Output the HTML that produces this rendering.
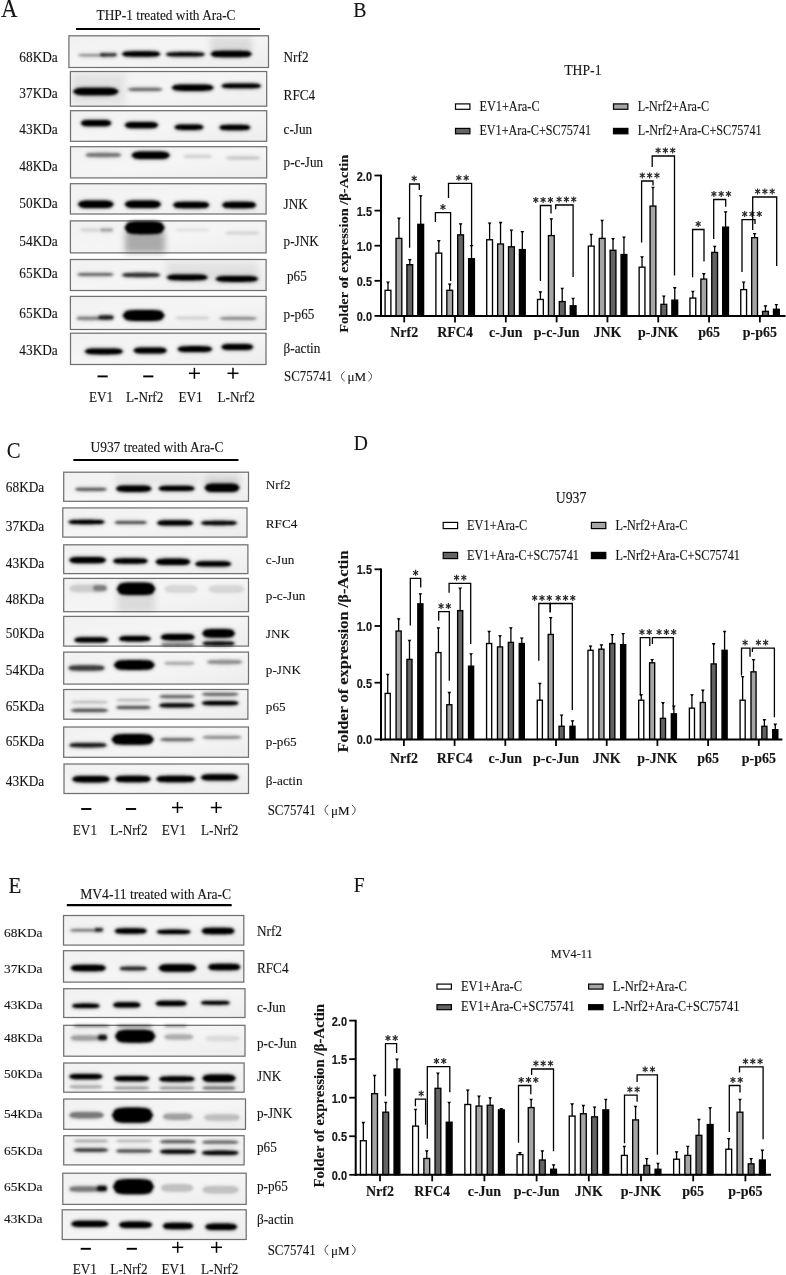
<!DOCTYPE html>
<html><head><meta charset="utf-8"><title>Figure</title>
<style>html,body{margin:0;padding:0;background:#fff;} svg{display:block;filter:grayscale(100%) blur(0.3px);} text{fill:#151515;stroke:#151515;stroke-width:0.12px;}</style>
</head><body>
<svg width="786" height="1275" viewBox="0 0 786 1275">
<defs>
<filter id="b1" x="-20%" y="-100%" width="140%" height="300%"><feGaussianBlur stdDeviation="0.9"/></filter>
<filter id="b2" x="-20%" y="-100%" width="140%" height="300%"><feGaussianBlur stdDeviation="1.5"/></filter>
<filter id="b3" x="-30%" y="-50%" width="160%" height="200%"><feGaussianBlur stdDeviation="3"/></filter>
<linearGradient id="bg" x1="0" y1="0" x2="1" y2="1"><stop offset="0" stop-color="#f1f1f1"/><stop offset="0.5" stop-color="#f5f5f5"/><stop offset="1" stop-color="#ededed"/></linearGradient>
</defs>
<rect width="786" height="1275" fill="#fff"/>
<text transform="translate(1,16.9) scale(1,1.1)" font-size="22.9" font-family="'Liberation Serif', serif" font-weight="normal" text-anchor="start" >A</text>
<text transform="translate(96.5,19.8) scale(1,1.0)" font-size="14" font-family="'Liberation Serif', serif" font-weight="normal" text-anchor="start" textLength="139" lengthAdjust="spacingAndGlyphs" >THP-1 treated with Ara-C</text>
<line x1="76" y1="29" x2="260" y2="29" stroke="#000" stroke-width="2.2"/>
<rect x="68.9" y="35.8" width="199.6" height="31.7" fill="url(#bg)" stroke="#707070" stroke-width="1.25"/>
<g clip-path="none">
<rect x="210" y="37" width="42" height="15" fill="#000" fill-opacity="0.1" filter="url(#b3)"/>
<path d="M76.5 55.2 L78.6 52.8 L80.8 52.2 L82.9 52.0 L85.1 51.9 L87.2 51.9 L89.4 51.9 L91.5 51.9 L93.6 51.9 L95.8 51.9 L97.9 51.9 L100.1 52.0 L102.2 52.2 L104.4 52.8 L106.5 55.2 L106.5 55.2 L104.4 57.6 L102.2 58.2 L100.1 58.4 L97.9 58.5 L95.8 58.5 L93.6 58.5 L91.5 58.5 L89.4 58.5 L87.2 58.5 L85.1 58.5 L82.9 58.4 L80.8 58.2 L78.6 57.6 L76.5 55.2 Z" fill="#000" fill-opacity="0.070" filter="url(#b2)"/>
<path d="M78.0 55.2 L79.9 54.3 L81.9 54.1 L83.8 54.0 L85.7 54.0 L87.6 54.0 L89.6 54.0 L91.5 54.0 L93.4 54.0 L95.4 54.0 L97.3 54.0 L99.2 54.0 L101.1 54.1 L103.1 54.3 L105.0 55.2 L105.0 55.2 L103.1 56.1 L101.1 56.3 L99.2 56.4 L97.3 56.4 L95.4 56.4 L93.4 56.4 L91.5 56.4 L89.6 56.4 L87.6 56.4 L85.7 56.4 L83.8 56.4 L81.9 56.3 L79.9 56.1 L78.0 55.2 Z" fill="#000" fill-opacity="0.35" filter="url(#b1)"/>
<path d="M98.5 54.8 L99.9 52.1 L101.4 51.5 L102.8 51.2 L104.2 51.1 L105.6 51.1 L107.1 51.1 L108.5 51.1 L109.9 51.1 L111.4 51.1 L112.8 51.1 L114.2 51.2 L115.6 51.5 L117.1 52.1 L118.5 54.8 L118.5 54.8 L117.1 57.5 L115.6 58.1 L114.2 58.4 L112.8 58.5 L111.4 58.5 L109.9 58.5 L108.5 58.5 L107.1 58.5 L105.6 58.5 L104.2 58.5 L102.8 58.4 L101.4 58.1 L99.9 57.5 L98.5 54.8 Z" fill="#000" fill-opacity="0.150" filter="url(#b2)"/>
<path d="M100.0 54.8 L101.2 53.6 L102.4 53.3 L103.6 53.2 L104.9 53.2 L106.1 53.2 L107.3 53.2 L108.5 53.2 L109.7 53.2 L110.9 53.2 L112.1 53.2 L113.4 53.2 L114.6 53.3 L115.8 53.6 L117.0 54.8 L117.0 54.8 L115.8 56.0 L114.6 56.3 L113.4 56.4 L112.1 56.4 L110.9 56.4 L109.7 56.4 L108.5 56.4 L107.3 56.4 L106.1 56.4 L104.9 56.4 L103.6 56.4 L102.4 56.3 L101.2 56.0 L100.0 54.8 Z" fill="#000" fill-opacity="0.75" filter="url(#b1)"/>
<path d="M120.2 54.0 L123.2 50.6 L126.2 49.8 L129.2 49.4 L132.2 49.3 L135.2 49.3 L138.2 49.3 L141.2 49.3 L144.1 49.3 L147.1 49.3 L150.1 49.3 L153.1 49.4 L156.1 49.8 L159.1 50.6 L162.1 54.0 L162.1 54.0 L159.1 57.4 L156.1 58.2 L153.1 58.6 L150.1 58.7 L147.1 58.7 L144.1 58.7 L141.2 58.7 L138.2 58.7 L135.2 58.7 L132.2 58.7 L129.2 58.6 L126.2 58.2 L123.2 57.4 L120.2 54.0 Z" fill="#000" fill-opacity="0.200" filter="url(#b2)"/>
<path d="M121.7 54.0 L124.5 52.0 L127.3 51.6 L130.0 51.4 L132.8 51.3 L135.6 51.3 L138.4 51.3 L141.2 51.3 L143.9 51.3 L146.7 51.3 L149.5 51.3 L152.3 51.4 L155.0 51.6 L157.8 52.0 L160.6 54.0 L160.6 54.0 L157.8 56.0 L155.0 56.4 L152.3 56.6 L149.5 56.7 L146.7 56.7 L143.9 56.7 L141.2 56.7 L138.4 56.7 L135.6 56.7 L132.8 56.7 L130.0 56.6 L127.3 56.4 L124.5 56.0 L121.7 54.0 Z" fill="#000" fill-opacity="1" filter="url(#b1)"/>
<path d="M164.1 54.3 L167.1 51.2 L170.2 50.5 L173.2 50.2 L176.2 50.1 L179.3 50.1 L182.3 50.1 L185.3 50.1 L188.4 50.1 L191.4 50.1 L194.5 50.1 L197.5 50.2 L200.5 50.5 L203.6 51.2 L206.6 54.3 L206.6 54.3 L203.6 57.4 L200.5 58.1 L197.5 58.4 L194.5 58.5 L191.4 58.5 L188.4 58.5 L185.3 58.5 L182.3 58.5 L179.3 58.5 L176.2 58.5 L173.2 58.4 L170.2 58.1 L167.1 57.4 L164.1 54.3 Z" fill="#000" fill-opacity="0.190" filter="url(#b2)"/>
<path d="M165.6 54.3 L168.4 52.7 L171.2 52.4 L174.1 52.2 L176.9 52.2 L179.7 52.1 L182.5 52.1 L185.3 52.1 L188.2 52.1 L191.0 52.1 L193.8 52.2 L196.6 52.2 L199.5 52.4 L202.3 52.7 L205.1 54.3 L205.1 54.3 L202.3 55.9 L199.5 56.2 L196.6 56.4 L193.8 56.4 L191.0 56.5 L188.2 56.5 L185.3 56.5 L182.5 56.5 L179.7 56.5 L176.9 56.4 L174.1 56.4 L171.2 56.2 L168.4 55.9 L165.6 54.3 Z" fill="#000" fill-opacity="0.95" filter="url(#b1)"/>
<path d="M208.9 54.0 L212.1 50.2 L215.3 49.3 L218.5 49.0 L221.6 48.8 L224.8 48.8 L228.0 48.8 L231.2 48.8 L234.4 48.8 L237.6 48.8 L240.8 48.8 L243.9 49.0 L247.1 49.3 L250.3 50.2 L253.5 54.0 L253.5 54.0 L250.3 57.8 L247.1 58.7 L243.9 59.0 L240.8 59.2 L237.6 59.2 L234.4 59.2 L231.2 59.2 L228.0 59.2 L224.8 59.2 L221.6 59.2 L218.5 59.0 L215.3 58.7 L212.1 57.8 L208.9 54.0 Z" fill="#000" fill-opacity="0.200" filter="url(#b2)"/>
<path d="M210.4 54.0 L213.4 51.6 L216.3 51.1 L219.3 50.9 L222.3 50.8 L225.3 50.8 L228.2 50.8 L231.2 50.8 L234.2 50.8 L237.1 50.8 L240.1 50.8 L243.1 50.9 L246.1 51.1 L249.0 51.6 L252.0 54.0 L252.0 54.0 L249.0 56.4 L246.1 56.9 L243.1 57.1 L240.1 57.2 L237.1 57.2 L234.2 57.2 L231.2 57.2 L228.2 57.2 L225.3 57.2 L222.3 57.2 L219.3 57.1 L216.3 56.9 L213.4 56.4 L210.4 54.0 Z" fill="#000" fill-opacity="1" filter="url(#b1)"/>
</g>
<rect x="70.4" y="71.5" width="196.3" height="34.7" fill="url(#bg)" stroke="#707070" stroke-width="1.25"/>
<g clip-path="none">
<rect x="72" y="74" width="53" height="31" fill="#000" fill-opacity="0.07" filter="url(#b3)"/>
<path d="M71.3 91.5 L74.8 87.3 L78.3 86.4 L81.8 86.0 L85.3 85.8 L88.8 85.8 L92.3 85.8 L95.8 85.8 L99.3 85.8 L102.8 85.8 L106.3 85.8 L109.8 86.0 L113.3 86.4 L116.8 87.3 L120.3 91.5 L120.3 91.5 L116.8 95.7 L113.3 96.6 L109.8 97.0 L106.3 97.2 L102.8 97.2 L99.3 97.2 L95.8 97.2 L92.3 97.2 L88.8 97.2 L85.3 97.2 L81.8 97.0 L78.3 96.6 L74.8 95.7 L71.3 91.5 Z" fill="#000" fill-opacity="0.200" filter="url(#b2)"/>
<path d="M72.8 91.5 L76.1 88.7 L79.4 88.1 L82.7 87.8 L85.9 87.7 L89.2 87.7 L92.5 87.7 L95.8 87.7 L99.1 87.7 L102.4 87.7 L105.7 87.7 L108.9 87.8 L112.2 88.1 L115.5 88.7 L118.8 91.5 L118.8 91.5 L115.5 94.3 L112.2 94.9 L108.9 95.2 L105.7 95.3 L102.4 95.3 L99.1 95.3 L95.8 95.3 L92.5 95.3 L89.2 95.3 L85.9 95.3 L82.7 95.2 L79.4 94.9 L76.1 94.3 L72.8 91.5 Z" fill="#000" fill-opacity="1" filter="url(#b1)"/>
<path d="M126.1 89.4 L128.8 86.7 L131.5 86.1 L134.3 85.8 L137.0 85.7 L139.7 85.7 L142.4 85.7 L145.1 85.7 L147.9 85.7 L150.6 85.7 L153.3 85.7 L156.0 85.8 L158.8 86.1 L161.5 86.7 L164.2 89.4 L164.2 89.4 L161.5 92.1 L158.8 92.7 L156.0 93.0 L153.3 93.1 L150.6 93.1 L147.9 93.1 L145.1 93.1 L142.4 93.1 L139.7 93.1 L137.0 93.1 L134.3 93.0 L131.5 92.7 L128.8 92.1 L126.1 89.4 Z" fill="#000" fill-opacity="0.100" filter="url(#b2)"/>
<path d="M127.6 89.4 L130.1 88.2 L132.6 87.9 L135.1 87.8 L137.6 87.8 L140.1 87.8 L142.6 87.8 L145.1 87.8 L147.7 87.8 L150.2 87.8 L152.7 87.8 L155.2 87.8 L157.7 87.9 L160.2 88.2 L162.7 89.4 L162.7 89.4 L160.2 90.6 L157.7 90.9 L155.2 91.0 L152.7 91.0 L150.2 91.0 L147.7 91.0 L145.1 91.0 L142.6 91.0 L140.1 91.0 L137.6 91.0 L135.1 91.0 L132.6 90.9 L130.1 90.6 L127.6 89.4 Z" fill="#000" fill-opacity="0.5" filter="url(#b1)"/>
<path d="M170.0 87.7 L173.2 83.9 L176.5 83.0 L179.7 82.7 L183.0 82.5 L186.2 82.5 L189.5 82.5 L192.7 82.5 L195.9 82.5 L199.2 82.5 L202.4 82.5 L205.7 82.7 L208.9 83.0 L212.2 83.9 L215.4 87.7 L215.4 87.7 L212.2 91.5 L208.9 92.4 L205.7 92.7 L202.4 92.9 L199.2 92.9 L195.9 92.9 L192.7 92.9 L189.5 92.9 L186.2 92.9 L183.0 92.9 L179.7 92.7 L176.5 92.4 L173.2 91.5 L170.0 87.7 Z" fill="#000" fill-opacity="0.200" filter="url(#b2)"/>
<path d="M171.5 87.7 L174.5 85.3 L177.6 84.8 L180.6 84.6 L183.6 84.5 L186.6 84.5 L189.7 84.5 L192.7 84.5 L195.7 84.5 L198.8 84.5 L201.8 84.5 L204.8 84.6 L207.8 84.8 L210.9 85.3 L213.9 87.7 L213.9 87.7 L210.9 90.1 L207.8 90.6 L204.8 90.8 L201.8 90.9 L198.8 90.9 L195.7 90.9 L192.7 90.9 L189.7 90.9 L186.6 90.9 L183.6 90.9 L180.6 90.8 L177.6 90.6 L174.5 90.1 L171.5 87.7 Z" fill="#000" fill-opacity="1" filter="url(#b1)"/>
<path d="M219.7 85.9 L222.8 82.6 L225.9 81.9 L228.9 81.6 L232.0 81.5 L235.1 81.5 L238.2 81.5 L241.2 81.5 L244.3 81.5 L247.4 81.5 L250.5 81.5 L253.6 81.6 L256.6 81.9 L259.7 82.6 L262.8 85.9 L262.8 85.9 L259.7 89.2 L256.6 89.9 L253.6 90.2 L250.5 90.3 L247.4 90.3 L244.3 90.3 L241.2 90.4 L238.2 90.3 L235.1 90.3 L232.0 90.3 L228.9 90.2 L225.9 89.9 L222.8 89.2 L219.7 85.9 Z" fill="#000" fill-opacity="0.200" filter="url(#b2)"/>
<path d="M221.2 85.9 L224.1 84.1 L226.9 83.7 L229.8 83.5 L232.7 83.5 L235.5 83.5 L238.4 83.5 L241.2 83.5 L244.1 83.5 L247.0 83.5 L249.8 83.5 L252.7 83.5 L255.6 83.7 L258.4 84.1 L261.3 85.9 L261.3 85.9 L258.4 87.7 L255.6 88.1 L252.7 88.3 L249.8 88.3 L247.0 88.3 L244.1 88.3 L241.2 88.3 L238.4 88.3 L235.5 88.3 L232.7 88.3 L229.8 88.3 L226.9 88.1 L224.1 87.7 L221.2 85.9 Z" fill="#000" fill-opacity="1" filter="url(#b1)"/>
</g>
<rect x="70.5" y="110.7" width="196.2" height="30.6" fill="url(#bg)" stroke="#707070" stroke-width="1.25"/>
<g clip-path="none">
<path d="M79.2 123.1 L81.6 119.3 L84.0 118.4 L86.4 118.1 L88.9 117.9 L91.3 117.9 L93.7 117.9 L96.1 117.9 L98.5 117.9 L100.9 117.9 L103.3 117.9 L105.8 118.1 L108.2 118.4 L110.6 119.3 L113.0 123.1 L113.0 123.1 L110.6 126.9 L108.2 127.8 L105.8 128.1 L103.3 128.3 L100.9 128.3 L98.5 128.3 L96.1 128.3 L93.7 128.3 L91.3 128.3 L88.9 128.3 L86.4 128.1 L84.0 127.8 L81.6 126.9 L79.2 123.1 Z" fill="#000" fill-opacity="0.200" filter="url(#b2)"/>
<path d="M80.7 123.1 L82.9 120.7 L85.1 120.2 L87.3 120.0 L89.5 119.9 L91.7 119.9 L93.9 119.9 L96.1 119.9 L98.3 119.9 L100.5 119.9 L102.7 119.9 L104.9 120.0 L107.1 120.2 L109.3 120.7 L111.5 123.1 L111.5 123.1 L109.3 125.5 L107.1 126.0 L104.9 126.2 L102.7 126.3 L100.5 126.3 L98.3 126.3 L96.1 126.3 L93.9 126.3 L91.7 126.3 L89.5 126.3 L87.3 126.2 L85.1 126.0 L82.9 125.5 L80.7 123.1 Z" fill="#000" fill-opacity="1" filter="url(#b1)"/>
<path d="M123.1 125.1 L125.7 121.3 L128.3 120.4 L131.0 120.1 L133.6 119.9 L136.2 119.9 L138.8 119.9 L141.4 119.9 L144.1 119.9 L146.7 119.9 L149.3 119.9 L151.9 120.1 L154.6 120.4 L157.2 121.3 L159.8 125.1 L159.8 125.1 L157.2 128.9 L154.6 129.8 L151.9 130.1 L149.3 130.3 L146.7 130.3 L144.1 130.3 L141.4 130.3 L138.8 130.3 L136.2 130.3 L133.6 130.3 L131.0 130.1 L128.3 129.8 L125.7 128.9 L123.1 125.1 Z" fill="#000" fill-opacity="0.200" filter="url(#b2)"/>
<path d="M124.6 125.1 L127.0 122.7 L129.4 122.2 L131.8 122.0 L134.2 121.9 L136.6 121.9 L139.0 121.9 L141.4 121.9 L143.9 121.9 L146.3 121.9 L148.7 121.9 L151.1 122.0 L153.5 122.2 L155.9 122.7 L158.3 125.1 L158.3 125.1 L155.9 127.5 L153.5 128.0 L151.1 128.2 L148.7 128.3 L146.3 128.3 L143.9 128.3 L141.4 128.3 L139.0 128.3 L136.6 128.3 L134.2 128.3 L131.8 128.2 L129.4 128.0 L127.0 127.5 L124.6 125.1 Z" fill="#000" fill-opacity="1" filter="url(#b1)"/>
<path d="M172.9 127.2 L175.2 123.8 L177.5 123.0 L179.8 122.6 L182.1 122.5 L184.4 122.5 L186.7 122.5 L189.0 122.5 L191.3 122.5 L193.6 122.5 L195.9 122.5 L198.2 122.6 L200.5 123.0 L202.8 123.8 L205.1 127.2 L205.1 127.2 L202.8 130.6 L200.5 131.4 L198.2 131.8 L195.9 131.9 L193.6 131.9 L191.3 131.9 L189.0 131.9 L186.7 131.9 L184.4 131.9 L182.1 131.9 L179.8 131.8 L177.5 131.4 L175.2 130.6 L172.9 127.2 Z" fill="#000" fill-opacity="0.200" filter="url(#b2)"/>
<path d="M174.4 127.2 L176.5 125.2 L178.6 124.8 L180.7 124.6 L182.7 124.5 L184.8 124.5 L186.9 124.5 L189.0 124.5 L191.1 124.5 L193.2 124.5 L195.3 124.5 L197.3 124.6 L199.4 124.8 L201.5 125.2 L203.6 127.2 L203.6 127.2 L201.5 129.2 L199.4 129.6 L197.3 129.8 L195.3 129.9 L193.2 129.9 L191.1 129.9 L189.0 129.9 L186.9 129.9 L184.8 129.9 L182.7 129.9 L180.7 129.8 L178.6 129.6 L176.5 129.2 L174.4 127.2 Z" fill="#000" fill-opacity="1" filter="url(#b1)"/>
<path d="M217.7 127.5 L220.1 124.1 L222.6 123.3 L225.0 122.9 L227.5 122.8 L229.9 122.8 L232.4 122.8 L234.8 122.8 L237.3 122.8 L239.8 122.8 L242.2 122.8 L244.7 122.9 L247.1 123.3 L249.6 124.1 L252.0 127.5 L252.0 127.5 L249.6 130.9 L247.1 131.7 L244.7 132.1 L242.2 132.2 L239.8 132.2 L237.3 132.2 L234.8 132.2 L232.4 132.2 L229.9 132.2 L227.5 132.2 L225.0 132.1 L222.6 131.7 L220.1 130.9 L217.7 127.5 Z" fill="#000" fill-opacity="0.200" filter="url(#b2)"/>
<path d="M219.2 127.5 L221.4 125.5 L223.7 125.1 L225.9 124.9 L228.1 124.8 L230.4 124.8 L232.6 124.8 L234.8 124.8 L237.1 124.8 L239.3 124.8 L241.6 124.8 L243.8 124.9 L246.0 125.1 L248.3 125.5 L250.5 127.5 L250.5 127.5 L248.3 129.5 L246.0 129.9 L243.8 130.1 L241.6 130.2 L239.3 130.2 L237.1 130.2 L234.8 130.2 L232.6 130.2 L230.4 130.2 L228.1 130.2 L225.9 130.1 L223.7 129.9 L221.4 129.5 L219.2 127.5 Z" fill="#000" fill-opacity="1" filter="url(#b1)"/>
</g>
<rect x="70.5" y="146.7" width="196.2" height="31.2" fill="url(#bg)" stroke="#707070" stroke-width="1.25"/>
<g clip-path="none">
<path d="M83.6 155.0 L86.4 151.9 L89.3 151.2 L92.1 150.9 L94.9 150.8 L97.7 150.8 L100.6 150.8 L103.4 150.8 L106.2 150.8 L109.1 150.8 L111.9 150.8 L114.7 150.9 L117.5 151.2 L120.4 151.9 L123.2 155.0 L123.2 155.0 L120.4 158.1 L117.5 158.8 L114.7 159.1 L111.9 159.2 L109.1 159.2 L106.2 159.2 L103.4 159.2 L100.6 159.2 L97.7 159.2 L94.9 159.2 L92.1 159.1 L89.3 158.8 L86.4 158.1 L83.6 155.0 Z" fill="#000" fill-opacity="0.090" filter="url(#b2)"/>
<path d="M85.1 155.0 L87.7 153.4 L90.3 153.1 L92.9 152.9 L95.6 152.9 L98.2 152.8 L100.8 152.8 L103.4 152.8 L106.0 152.8 L108.6 152.8 L111.2 152.9 L113.9 152.9 L116.5 153.1 L119.1 153.4 L121.7 155.0 L121.7 155.0 L119.1 156.6 L116.5 156.9 L113.9 157.1 L111.2 157.1 L108.6 157.2 L106.0 157.2 L103.4 157.2 L100.8 157.2 L98.2 157.2 L95.6 157.1 L92.9 157.1 L90.3 156.9 L87.7 156.6 L85.1 155.0 Z" fill="#000" fill-opacity="0.45" filter="url(#b1)"/>
<path d="M129.9 155.3 L132.9 151.1 L135.8 150.2 L138.8 149.8 L141.8 149.6 L144.8 149.6 L147.7 149.6 L150.7 149.6 L153.7 149.6 L156.6 149.6 L159.6 149.6 L162.6 149.8 L165.6 150.2 L168.5 151.1 L171.5 155.3 L171.5 155.3 L168.5 159.5 L165.6 160.4 L162.6 160.8 L159.6 161.0 L156.6 161.0 L153.7 161.0 L150.7 161.0 L147.7 161.0 L144.8 161.0 L141.8 161.0 L138.8 160.8 L135.8 160.4 L132.9 159.5 L129.9 155.3 Z" fill="#000" fill-opacity="0.200" filter="url(#b2)"/>
<path d="M131.4 155.3 L134.2 152.5 L136.9 151.9 L139.7 151.6 L142.4 151.5 L145.2 151.5 L147.9 151.5 L150.7 151.5 L153.5 151.5 L156.2 151.5 L159.0 151.5 L161.7 151.6 L164.5 151.9 L167.2 152.5 L170.0 155.3 L170.0 155.3 L167.2 158.1 L164.5 158.7 L161.7 159.0 L159.0 159.1 L156.2 159.1 L153.5 159.1 L150.7 159.1 L147.9 159.1 L145.2 159.1 L142.4 159.1 L139.7 159.0 L136.9 158.7 L134.2 158.1 L131.4 155.3 Z" fill="#000" fill-opacity="1" filter="url(#b1)"/>
<path d="M181.7 156.4 L184.0 153.7 L186.3 153.1 L188.6 152.8 L190.9 152.7 L193.2 152.7 L195.5 152.7 L197.8 152.7 L200.1 152.7 L202.4 152.7 L204.7 152.7 L207.0 152.8 L209.3 153.1 L211.6 153.7 L213.9 156.4 L213.9 156.4 L211.6 159.1 L209.3 159.7 L207.0 160.0 L204.7 160.1 L202.4 160.1 L200.1 160.1 L197.8 160.1 L195.5 160.1 L193.2 160.1 L190.9 160.1 L188.6 160.0 L186.3 159.7 L184.0 159.1 L181.7 156.4 Z" fill="#000" fill-opacity="0.024" filter="url(#b2)"/>
<path d="M183.2 156.4 L185.3 155.2 L187.4 154.9 L189.5 154.8 L191.5 154.8 L193.6 154.8 L195.7 154.8 L197.8 154.8 L199.9 154.8 L202.0 154.8 L204.1 154.8 L206.1 154.8 L208.2 154.9 L210.3 155.2 L212.4 156.4 L212.4 156.4 L210.3 157.6 L208.2 157.9 L206.1 158.0 L204.1 158.0 L202.0 158.0 L199.9 158.0 L197.8 158.0 L195.7 158.0 L193.6 158.0 L191.5 158.0 L189.5 158.0 L187.4 157.9 L185.3 157.6 L183.2 156.4 Z" fill="#000" fill-opacity="0.12" filter="url(#b1)"/>
<path d="M224.1 157.9 L226.8 155.2 L229.5 154.6 L232.3 154.3 L235.0 154.2 L237.7 154.2 L240.4 154.2 L243.1 154.2 L245.9 154.2 L248.6 154.2 L251.3 154.2 L254.0 154.3 L256.8 154.6 L259.5 155.2 L262.2 157.9 L262.2 157.9 L259.5 160.6 L256.8 161.2 L254.0 161.5 L251.3 161.6 L248.6 161.6 L245.9 161.6 L243.1 161.6 L240.4 161.6 L237.7 161.6 L235.0 161.6 L232.3 161.5 L229.5 161.2 L226.8 160.6 L224.1 157.9 Z" fill="#000" fill-opacity="0.030" filter="url(#b2)"/>
<path d="M225.6 157.9 L228.1 156.7 L230.6 156.4 L233.1 156.3 L235.6 156.3 L238.1 156.3 L240.6 156.3 L243.1 156.3 L245.7 156.3 L248.2 156.3 L250.7 156.3 L253.2 156.3 L255.7 156.4 L258.2 156.7 L260.7 157.9 L260.7 157.9 L258.2 159.1 L255.7 159.4 L253.2 159.5 L250.7 159.5 L248.2 159.5 L245.7 159.5 L243.1 159.5 L240.6 159.5 L238.1 159.5 L235.6 159.5 L233.1 159.5 L230.6 159.4 L228.1 159.1 L225.6 157.9 Z" fill="#000" fill-opacity="0.15" filter="url(#b1)"/>
</g>
<rect x="70.4" y="183.7" width="195.7" height="30.3" fill="url(#bg)" stroke="#707070" stroke-width="1.25"/>
<g clip-path="none">
<path d="M76.3 204.3 L79.1 200.1 L81.9 199.2 L84.7 198.8 L87.4 198.6 L90.2 198.6 L93.0 198.6 L95.8 198.6 L98.6 198.6 L101.4 198.6 L104.2 198.6 L106.9 198.8 L109.7 199.2 L112.5 200.1 L115.3 204.3 L115.3 204.3 L112.5 208.5 L109.7 209.4 L106.9 209.8 L104.2 210.0 L101.4 210.0 L98.6 210.0 L95.8 210.0 L93.0 210.0 L90.2 210.0 L87.4 210.0 L84.7 209.8 L81.9 209.4 L79.1 208.5 L76.3 204.3 Z" fill="#000" fill-opacity="0.200" filter="url(#b2)"/>
<path d="M77.8 204.3 L80.4 201.5 L82.9 200.9 L85.5 200.6 L88.1 200.5 L90.7 200.5 L93.2 200.5 L95.8 200.5 L98.4 200.5 L100.9 200.5 L103.5 200.5 L106.1 200.6 L108.7 200.9 L111.2 201.5 L113.8 204.3 L113.8 204.3 L111.2 207.1 L108.7 207.7 L106.1 208.0 L103.5 208.1 L100.9 208.1 L98.4 208.1 L95.8 208.1 L93.2 208.1 L90.7 208.1 L88.1 208.1 L85.5 208.0 L82.9 207.7 L80.4 207.1 L77.8 204.3 Z" fill="#000" fill-opacity="1" filter="url(#b1)"/>
<path d="M123.1 204.3 L125.9 200.1 L128.8 199.2 L131.6 198.8 L134.4 198.6 L137.2 198.6 L140.1 198.6 L142.9 198.6 L145.7 198.6 L148.6 198.6 L151.4 198.6 L154.2 198.8 L157.0 199.2 L159.9 200.1 L162.7 204.3 L162.7 204.3 L159.9 208.5 L157.0 209.4 L154.2 209.8 L151.4 210.0 L148.6 210.0 L145.7 210.0 L142.9 210.0 L140.1 210.0 L137.2 210.0 L134.4 210.0 L131.6 209.8 L128.8 209.4 L125.9 208.5 L123.1 204.3 Z" fill="#000" fill-opacity="0.200" filter="url(#b2)"/>
<path d="M124.6 204.3 L127.2 201.5 L129.8 200.9 L132.4 200.6 L135.1 200.5 L137.7 200.5 L140.3 200.5 L142.9 200.5 L145.5 200.5 L148.1 200.5 L150.7 200.5 L153.4 200.6 L156.0 200.9 L158.6 201.5 L161.2 204.3 L161.2 204.3 L158.6 207.1 L156.0 207.7 L153.4 208.0 L150.7 208.1 L148.1 208.1 L145.5 208.1 L142.9 208.1 L140.3 208.1 L137.7 208.1 L135.1 208.1 L132.4 208.0 L129.8 207.7 L127.2 207.1 L124.6 204.3 Z" fill="#000" fill-opacity="1" filter="url(#b1)"/>
<path d="M171.4 205.0 L174.2 201.2 L177.1 200.3 L179.9 200.0 L182.7 199.8 L185.5 199.8 L188.4 199.8 L191.2 199.8 L194.0 199.8 L196.9 199.8 L199.7 199.8 L202.5 200.0 L205.3 200.3 L208.2 201.2 L211.0 205.0 L211.0 205.0 L208.2 208.8 L205.3 209.7 L202.5 210.0 L199.7 210.2 L196.9 210.2 L194.0 210.2 L191.2 210.2 L188.4 210.2 L185.5 210.2 L182.7 210.2 L179.9 210.0 L177.1 209.7 L174.2 208.8 L171.4 205.0 Z" fill="#000" fill-opacity="0.200" filter="url(#b2)"/>
<path d="M172.9 205.0 L175.5 202.6 L178.1 202.1 L180.7 201.9 L183.4 201.8 L186.0 201.8 L188.6 201.8 L191.2 201.8 L193.8 201.8 L196.4 201.8 L199.0 201.8 L201.7 201.9 L204.3 202.1 L206.9 202.6 L209.5 205.0 L209.5 205.0 L206.9 207.4 L204.3 207.9 L201.7 208.1 L199.0 208.2 L196.4 208.2 L193.8 208.2 L191.2 208.2 L188.6 208.2 L186.0 208.2 L183.4 208.2 L180.7 208.1 L178.1 207.9 L175.5 207.4 L172.9 205.0 Z" fill="#000" fill-opacity="1" filter="url(#b1)"/>
<path d="M220.5 205.0 L223.2 201.2 L225.8 200.3 L228.5 200.0 L231.2 199.8 L233.8 199.8 L236.5 199.8 L239.2 199.8 L241.8 199.8 L244.5 199.8 L247.1 199.8 L249.8 200.0 L252.5 200.3 L255.1 201.2 L257.8 205.0 L257.8 205.0 L255.1 208.8 L252.5 209.7 L249.8 210.0 L247.1 210.2 L244.5 210.2 L241.8 210.2 L239.2 210.2 L236.5 210.2 L233.8 210.2 L231.2 210.2 L228.5 210.0 L225.8 209.7 L223.2 208.8 L220.5 205.0 Z" fill="#000" fill-opacity="0.200" filter="url(#b2)"/>
<path d="M222.0 205.0 L224.4 202.6 L226.9 202.1 L229.3 201.9 L231.8 201.8 L234.2 201.8 L236.7 201.8 L239.2 201.8 L241.6 201.8 L244.1 201.8 L246.5 201.8 L249.0 201.9 L251.4 202.1 L253.9 202.6 L256.3 205.0 L256.3 205.0 L253.9 207.4 L251.4 207.9 L249.0 208.1 L246.5 208.2 L244.1 208.2 L241.6 208.2 L239.2 208.2 L236.7 208.2 L234.2 208.2 L231.8 208.2 L229.3 208.1 L226.9 207.9 L224.4 207.4 L222.0 205.0 Z" fill="#000" fill-opacity="1" filter="url(#b1)"/>
</g>
<rect x="70.4" y="220.9" width="195.7" height="32.0" fill="url(#bg)" stroke="#707070" stroke-width="1.25"/>
<g clip-path="none">
<rect x="125" y="232" width="40" height="21" fill="#000" fill-opacity="0.3" filter="url(#b3)"/>
<path d="M78.5 230.0 L80.1 227.3 L81.8 226.7 L83.4 226.4 L85.1 226.3 L86.7 226.3 L88.4 226.3 L90.0 226.3 L91.6 226.3 L93.3 226.3 L94.9 226.3 L96.6 226.4 L98.2 226.7 L99.9 227.3 L101.5 230.0 L101.5 230.0 L99.9 232.7 L98.2 233.3 L96.6 233.6 L94.9 233.7 L93.3 233.7 L91.6 233.7 L90.0 233.7 L88.4 233.7 L86.7 233.7 L85.1 233.7 L83.4 233.6 L81.8 233.3 L80.1 232.7 L78.5 230.0 Z" fill="#000" fill-opacity="0.020" filter="url(#b2)"/>
<path d="M80.0 230.0 L81.4 228.8 L82.9 228.5 L84.3 228.4 L85.7 228.4 L87.1 228.4 L88.6 228.4 L90.0 228.4 L91.4 228.4 L92.9 228.4 L94.3 228.4 L95.7 228.4 L97.1 228.5 L98.6 228.8 L100.0 230.0 L100.0 230.0 L98.6 231.2 L97.1 231.5 L95.7 231.6 L94.3 231.6 L92.9 231.6 L91.4 231.6 L90.0 231.6 L88.6 231.6 L87.1 231.6 L85.7 231.6 L84.3 231.6 L82.9 231.5 L81.4 231.2 L80.0 230.0 Z" fill="#000" fill-opacity="0.1" filter="url(#b1)"/>
<path d="M98.5 230.0 L99.6 227.3 L100.8 226.7 L101.9 226.4 L103.1 226.3 L104.2 226.3 L105.4 226.3 L106.5 226.3 L107.6 226.3 L108.8 226.3 L109.9 226.3 L111.1 226.4 L112.2 226.7 L113.4 227.3 L114.5 230.0 L114.5 230.0 L113.4 232.7 L112.2 233.3 L111.1 233.6 L109.9 233.7 L108.8 233.7 L107.6 233.7 L106.5 233.7 L105.4 233.7 L104.2 233.7 L103.1 233.7 L101.9 233.6 L100.8 233.3 L99.6 232.7 L98.5 230.0 Z" fill="#000" fill-opacity="0.060" filter="url(#b2)"/>
<path d="M100.0 230.0 L100.9 228.8 L101.9 228.5 L102.8 228.4 L103.7 228.4 L104.6 228.4 L105.6 228.4 L106.5 228.4 L107.4 228.4 L108.4 228.4 L109.3 228.4 L110.2 228.4 L111.1 228.5 L112.1 228.8 L113.0 230.0 L113.0 230.0 L112.1 231.2 L111.1 231.5 L110.2 231.6 L109.3 231.6 L108.4 231.6 L107.4 231.6 L106.5 231.6 L105.6 231.6 L104.6 231.6 L103.7 231.6 L102.8 231.6 L101.9 231.5 L100.9 231.2 L100.0 230.0 Z" fill="#000" fill-opacity="0.3" filter="url(#b1)"/>
<path d="M123.1 227.7 L126.2 221.7 L129.3 220.3 L132.3 219.8 L135.4 219.6 L138.5 219.5 L141.6 219.5 L144.6 219.5 L147.7 219.5 L150.8 219.5 L153.9 219.6 L157.0 219.8 L160.0 220.3 L163.1 221.7 L166.2 227.7 L166.2 227.7 L163.1 233.7 L160.0 235.1 L157.0 235.6 L153.9 235.8 L150.8 235.9 L147.7 235.9 L144.6 235.9 L141.6 235.9 L138.5 235.9 L135.4 235.8 L132.3 235.6 L129.3 235.1 L126.2 233.7 L123.1 227.7 Z" fill="#000" fill-opacity="0.200" filter="url(#b2)"/>
<path d="M124.6 227.7 L127.5 222.9 L130.3 221.9 L133.2 221.4 L136.1 221.3 L138.9 221.2 L141.8 221.2 L144.6 221.2 L147.5 221.2 L150.4 221.2 L153.2 221.3 L156.1 221.4 L159.0 221.9 L161.8 222.9 L164.7 227.7 L164.7 227.7 L161.8 232.5 L159.0 233.5 L156.1 234.0 L153.2 234.1 L150.4 234.2 L147.5 234.2 L144.6 234.2 L141.8 234.2 L138.9 234.2 L136.1 234.1 L133.2 234.0 L130.3 233.5 L127.5 232.5 L124.6 227.7 Z" fill="#000" fill-opacity="1" filter="url(#b1)"/>
<path d="M173.5 230.0 L176.2 227.3 L178.9 226.7 L181.6 226.4 L184.4 226.3 L187.1 226.3 L189.8 226.3 L192.5 226.3 L195.2 226.3 L197.9 226.3 L200.6 226.3 L203.4 226.4 L206.1 226.7 L208.8 227.3 L211.5 230.0 L211.5 230.0 L208.8 232.7 L206.1 233.3 L203.4 233.6 L200.6 233.7 L197.9 233.7 L195.2 233.7 L192.5 233.7 L189.8 233.7 L187.1 233.7 L184.4 233.7 L181.6 233.6 L178.9 233.3 L176.2 232.7 L173.5 230.0 Z" fill="#000" fill-opacity="0.012" filter="url(#b2)"/>
<path d="M175.0 230.0 L177.5 228.8 L180.0 228.5 L182.5 228.4 L185.0 228.4 L187.5 228.4 L190.0 228.4 L192.5 228.4 L195.0 228.4 L197.5 228.4 L200.0 228.4 L202.5 228.4 L205.0 228.5 L207.5 228.8 L210.0 230.0 L210.0 230.0 L207.5 231.2 L205.0 231.5 L202.5 231.6 L200.0 231.6 L197.5 231.6 L195.0 231.6 L192.5 231.6 L190.0 231.6 L187.5 231.6 L185.0 231.6 L182.5 231.6 L180.0 231.5 L177.5 231.2 L175.0 230.0 Z" fill="#000" fill-opacity="0.06" filter="url(#b1)"/>
<path d="M223.5 233.0 L226.2 230.3 L228.9 229.7 L231.6 229.4 L234.4 229.3 L237.1 229.3 L239.8 229.3 L242.5 229.3 L245.2 229.3 L247.9 229.3 L250.6 229.3 L253.4 229.4 L256.1 229.7 L258.8 230.3 L261.5 233.0 L261.5 233.0 L258.8 235.7 L256.1 236.3 L253.4 236.6 L250.6 236.7 L247.9 236.7 L245.2 236.7 L242.5 236.7 L239.8 236.7 L237.1 236.7 L234.4 236.7 L231.6 236.6 L228.9 236.3 L226.2 235.7 L223.5 233.0 Z" fill="#000" fill-opacity="0.020" filter="url(#b2)"/>
<path d="M225.0 233.0 L227.5 231.8 L230.0 231.5 L232.5 231.4 L235.0 231.4 L237.5 231.4 L240.0 231.4 L242.5 231.4 L245.0 231.4 L247.5 231.4 L250.0 231.4 L252.5 231.4 L255.0 231.5 L257.5 231.8 L260.0 233.0 L260.0 233.0 L257.5 234.2 L255.0 234.5 L252.5 234.6 L250.0 234.6 L247.5 234.6 L245.0 234.6 L242.5 234.6 L240.0 234.6 L237.5 234.6 L235.0 234.6 L232.5 234.6 L230.0 234.5 L227.5 234.2 L225.0 233.0 Z" fill="#000" fill-opacity="0.1" filter="url(#b1)"/>
</g>
<rect x="70.4" y="259.5" width="195.7" height="31.0" fill="url(#bg)" stroke="#707070" stroke-width="1.25"/>
<g clip-path="none">
<rect x="166" y="262" width="92" height="18" fill="#000" fill-opacity="0.08" filter="url(#b3)"/>
<path d="M75.5 274.5 L78.3 271.8 L81.2 271.2 L84.0 270.9 L86.9 270.8 L89.7 270.8 L92.6 270.8 L95.4 270.8 L98.2 270.8 L101.1 270.8 L103.9 270.8 L106.8 270.9 L109.6 271.2 L112.5 271.8 L115.3 274.5 L115.3 274.5 L112.5 277.2 L109.6 277.8 L106.8 278.1 L103.9 278.2 L101.1 278.2 L98.2 278.2 L95.4 278.2 L92.6 278.2 L89.7 278.2 L86.9 278.2 L84.0 278.1 L81.2 277.8 L78.3 277.2 L75.5 274.5 Z" fill="#000" fill-opacity="0.100" filter="url(#b2)"/>
<path d="M77.0 274.5 L79.6 273.3 L82.3 273.0 L84.9 272.9 L87.5 272.9 L90.1 272.9 L92.8 272.9 L95.4 272.9 L98.0 272.9 L100.7 272.9 L103.3 272.9 L105.9 272.9 L108.5 273.0 L111.2 273.3 L113.8 274.5 L113.8 274.5 L111.2 275.7 L108.5 276.0 L105.9 276.1 L103.3 276.1 L100.7 276.1 L98.0 276.1 L95.4 276.1 L92.8 276.1 L90.1 276.1 L87.5 276.1 L84.9 276.1 L82.3 276.0 L79.6 275.7 L77.0 274.5 Z" fill="#000" fill-opacity="0.5" filter="url(#b1)"/>
<path d="M120.2 275.0 L123.2 271.9 L126.2 271.2 L129.2 270.9 L132.2 270.8 L135.2 270.8 L138.2 270.8 L141.2 270.8 L144.1 270.8 L147.1 270.8 L150.1 270.8 L153.1 270.9 L156.1 271.2 L159.1 271.9 L162.1 275.0 L162.1 275.0 L159.1 278.1 L156.1 278.8 L153.1 279.1 L150.1 279.2 L147.1 279.2 L144.1 279.2 L141.2 279.2 L138.2 279.2 L135.2 279.2 L132.2 279.2 L129.2 279.1 L126.2 278.8 L123.2 278.1 L120.2 275.0 Z" fill="#000" fill-opacity="0.150" filter="url(#b2)"/>
<path d="M121.7 275.0 L124.5 273.4 L127.3 273.1 L130.0 272.9 L132.8 272.9 L135.6 272.8 L138.4 272.8 L141.2 272.8 L143.9 272.8 L146.7 272.8 L149.5 272.9 L152.3 272.9 L155.0 273.1 L157.8 273.4 L160.6 275.0 L160.6 275.0 L157.8 276.6 L155.0 276.9 L152.3 277.1 L149.5 277.1 L146.7 277.2 L143.9 277.2 L141.2 277.2 L138.4 277.2 L135.6 277.2 L132.8 277.1 L130.0 277.1 L127.3 276.9 L124.5 276.6 L121.7 275.0 Z" fill="#000" fill-opacity="0.75" filter="url(#b1)"/>
<path d="M165.0 277.4 L168.2 273.8 L171.4 272.9 L174.5 272.6 L177.7 272.5 L180.9 272.5 L184.1 272.5 L187.2 272.4 L190.4 272.5 L193.6 272.5 L196.8 272.5 L200.0 272.6 L203.1 272.9 L206.3 273.8 L209.5 277.4 L209.5 277.4 L206.3 281.0 L203.1 281.9 L200.0 282.2 L196.8 282.3 L193.6 282.3 L190.4 282.3 L187.2 282.3 L184.1 282.3 L180.9 282.3 L177.7 282.3 L174.5 282.2 L171.4 281.9 L168.2 281.0 L165.0 277.4 Z" fill="#000" fill-opacity="0.200" filter="url(#b2)"/>
<path d="M166.5 277.4 L169.5 275.2 L172.4 274.7 L175.4 274.5 L178.4 274.5 L181.3 274.4 L184.3 274.4 L187.2 274.4 L190.2 274.4 L193.2 274.4 L196.1 274.5 L199.1 274.5 L202.1 274.7 L205.0 275.2 L208.0 277.4 L208.0 277.4 L205.0 279.6 L202.1 280.1 L199.1 280.3 L196.1 280.3 L193.2 280.4 L190.2 280.4 L187.2 280.4 L184.3 280.4 L181.3 280.4 L178.4 280.3 L175.4 280.3 L172.4 280.1 L169.5 279.6 L166.5 277.4 Z" fill="#000" fill-opacity="1" filter="url(#b1)"/>
<path d="M213.8 278.9 L217.1 275.3 L220.4 274.4 L223.7 274.1 L227.0 274.0 L230.3 274.0 L233.6 274.0 L236.8 273.9 L240.1 274.0 L243.4 274.0 L246.7 274.0 L250.0 274.1 L253.3 274.4 L256.6 275.3 L259.9 278.9 L259.9 278.9 L256.6 282.5 L253.3 283.4 L250.0 283.7 L246.7 283.8 L243.4 283.8 L240.1 283.8 L236.8 283.8 L233.6 283.8 L230.3 283.8 L227.0 283.8 L223.7 283.7 L220.4 283.4 L217.1 282.5 L213.8 278.9 Z" fill="#000" fill-opacity="0.200" filter="url(#b2)"/>
<path d="M215.3 278.9 L218.4 276.7 L221.5 276.2 L224.5 276.0 L227.6 276.0 L230.7 275.9 L233.8 275.9 L236.8 275.9 L239.9 275.9 L243.0 275.9 L246.1 276.0 L249.2 276.0 L252.2 276.2 L255.3 276.7 L258.4 278.9 L258.4 278.9 L255.3 281.1 L252.2 281.6 L249.2 281.8 L246.1 281.8 L243.0 281.9 L239.9 281.9 L236.8 281.9 L233.8 281.9 L230.7 281.9 L227.6 281.8 L224.5 281.8 L221.5 281.6 L218.4 281.1 L215.3 278.9 Z" fill="#000" fill-opacity="1" filter="url(#b1)"/>
</g>
<rect x="70.4" y="296.4" width="195.7" height="33.1" fill="url(#bg)" stroke="#707070" stroke-width="1.25"/>
<g clip-path="none">
<path d="M74.8 318.3 L76.7 315.4 L78.6 314.7 L80.5 314.5 L82.4 314.4 L84.3 314.4 L86.2 314.4 L88.2 314.4 L90.1 314.4 L92.0 314.4 L93.9 314.4 L95.8 314.5 L97.7 314.7 L99.6 315.4 L101.5 318.3 L101.5 318.3 L99.6 321.2 L97.7 321.9 L95.8 322.1 L93.9 322.2 L92.0 322.2 L90.1 322.2 L88.2 322.2 L86.2 322.2 L84.3 322.2 L82.4 322.2 L80.5 322.1 L78.6 321.9 L76.7 321.2 L74.8 318.3 Z" fill="#000" fill-opacity="0.080" filter="url(#b2)"/>
<path d="M76.3 318.3 L78.0 316.9 L79.7 316.6 L81.4 316.5 L83.1 316.4 L84.8 316.4 L86.5 316.4 L88.2 316.4 L89.8 316.4 L91.5 316.4 L93.2 316.4 L94.9 316.5 L96.6 316.6 L98.3 316.9 L100.0 318.3 L100.0 318.3 L98.3 319.7 L96.6 320.0 L94.9 320.1 L93.2 320.2 L91.5 320.2 L89.8 320.2 L88.2 320.2 L86.5 320.2 L84.8 320.2 L83.1 320.2 L81.4 320.1 L79.7 320.0 L78.0 319.7 L76.3 318.3 Z" fill="#000" fill-opacity="0.4" filter="url(#b1)"/>
<path d="M96.5 317.5 L97.8 314.4 L99.2 313.7 L100.5 313.4 L101.9 313.3 L103.2 313.3 L104.6 313.3 L105.9 313.3 L107.2 313.3 L108.6 313.3 L109.9 313.3 L111.3 313.4 L112.6 313.7 L114.0 314.4 L115.3 317.5 L115.3 317.5 L114.0 320.6 L112.6 321.3 L111.3 321.6 L109.9 321.7 L108.6 321.7 L107.2 321.7 L105.9 321.7 L104.6 321.7 L103.2 321.7 L101.9 321.7 L100.5 321.6 L99.2 321.3 L97.8 320.6 L96.5 317.5 Z" fill="#000" fill-opacity="0.170" filter="url(#b2)"/>
<path d="M98.0 317.5 L99.1 315.9 L100.3 315.6 L101.4 315.4 L102.5 315.4 L103.6 315.3 L104.8 315.3 L105.9 315.3 L107.0 315.3 L108.2 315.3 L109.3 315.4 L110.4 315.4 L111.5 315.6 L112.7 315.9 L113.8 317.5 L113.8 317.5 L112.7 319.1 L111.5 319.4 L110.4 319.6 L109.3 319.6 L108.2 319.7 L107.0 319.7 L105.9 319.7 L104.8 319.7 L103.6 319.7 L102.5 319.6 L101.4 319.6 L100.3 319.4 L99.1 319.1 L98.0 317.5 Z" fill="#000" fill-opacity="0.85" filter="url(#b1)"/>
<path d="M121.1 315.5 L124.3 310.2 L127.5 309.0 L130.8 308.5 L134.0 308.4 L137.2 308.3 L140.4 308.3 L143.6 308.3 L146.9 308.3 L150.1 308.3 L153.3 308.4 L156.5 308.5 L159.8 309.0 L163.0 310.2 L166.2 315.5 L166.2 315.5 L163.0 320.8 L159.8 322.0 L156.5 322.5 L153.3 322.6 L150.1 322.7 L146.9 322.7 L143.6 322.7 L140.4 322.7 L137.2 322.7 L134.0 322.6 L130.8 322.5 L127.5 322.0 L124.3 320.8 L121.1 315.5 Z" fill="#000" fill-opacity="0.200" filter="url(#b2)"/>
<path d="M122.6 315.5 L125.6 311.5 L128.6 310.6 L131.6 310.3 L134.6 310.1 L137.6 310.1 L140.6 310.1 L143.6 310.1 L146.7 310.1 L149.7 310.1 L152.7 310.1 L155.7 310.3 L158.7 310.6 L161.7 311.5 L164.7 315.5 L164.7 315.5 L161.7 319.5 L158.7 320.4 L155.7 320.7 L152.7 320.9 L149.7 320.9 L146.7 320.9 L143.6 320.9 L140.6 320.9 L137.6 320.9 L134.6 320.9 L131.6 320.7 L128.6 320.4 L125.6 319.5 L122.6 315.5 Z" fill="#000" fill-opacity="1" filter="url(#b1)"/>
<path d="M173.5 318.0 L176.2 315.5 L178.9 314.9 L181.6 314.7 L184.4 314.6 L187.1 314.6 L189.8 314.6 L192.5 314.6 L195.2 314.6 L197.9 314.6 L200.6 314.6 L203.4 314.7 L206.1 314.9 L208.8 315.5 L211.5 318.0 L211.5 318.0 L208.8 320.5 L206.1 321.1 L203.4 321.3 L200.6 321.4 L197.9 321.4 L195.2 321.4 L192.5 321.4 L189.8 321.4 L187.1 321.4 L184.4 321.4 L181.6 321.3 L178.9 321.1 L176.2 320.5 L173.5 318.0 Z" fill="#000" fill-opacity="0.024" filter="url(#b2)"/>
<path d="M175.0 318.0 L177.5 317.0 L180.0 316.8 L182.5 316.7 L185.0 316.7 L187.5 316.7 L190.0 316.7 L192.5 316.6 L195.0 316.7 L197.5 316.7 L200.0 316.7 L202.5 316.7 L205.0 316.8 L207.5 317.0 L210.0 318.0 L210.0 318.0 L207.5 319.0 L205.0 319.2 L202.5 319.3 L200.0 319.3 L197.5 319.3 L195.0 319.3 L192.5 319.4 L190.0 319.3 L187.5 319.3 L185.0 319.3 L182.5 319.3 L180.0 319.2 L177.5 319.0 L175.0 318.0 Z" fill="#000" fill-opacity="0.12" filter="url(#b1)"/>
<path d="M217.7 318.4 L220.6 315.7 L223.6 315.1 L226.5 314.8 L229.4 314.7 L232.3 314.7 L235.3 314.7 L238.2 314.7 L241.1 314.7 L244.1 314.7 L247.0 314.7 L249.9 314.8 L252.8 315.1 L255.8 315.7 L258.7 318.4 L258.7 318.4 L255.8 321.1 L252.8 321.7 L249.9 322.0 L247.0 322.1 L244.1 322.1 L241.1 322.1 L238.2 322.1 L235.3 322.1 L232.3 322.1 L229.4 322.1 L226.5 322.0 L223.6 321.7 L220.6 321.1 L217.7 318.4 Z" fill="#000" fill-opacity="0.070" filter="url(#b2)"/>
<path d="M219.2 318.4 L221.9 317.2 L224.6 316.9 L227.3 316.8 L230.1 316.8 L232.8 316.8 L235.5 316.8 L238.2 316.8 L240.9 316.8 L243.6 316.8 L246.3 316.8 L249.1 316.8 L251.8 316.9 L254.5 317.2 L257.2 318.4 L257.2 318.4 L254.5 319.6 L251.8 319.9 L249.1 320.0 L246.3 320.0 L243.6 320.0 L240.9 320.0 L238.2 320.0 L235.5 320.0 L232.8 320.0 L230.1 320.0 L227.3 320.0 L224.6 319.9 L221.9 319.6 L219.2 318.4 Z" fill="#000" fill-opacity="0.35" filter="url(#b1)"/>
</g>
<rect x="70.5" y="333.2" width="195.5" height="31.3" fill="url(#bg)" stroke="#707070" stroke-width="1.25"/>
<g clip-path="none">
<path d="M83.0 351.4 L86.0 347.8 L89.0 346.9 L91.9 346.6 L94.9 346.5 L97.9 346.5 L100.9 346.5 L103.8 346.4 L106.8 346.5 L109.8 346.5 L112.8 346.5 L115.8 346.6 L118.7 346.9 L121.7 347.8 L124.7 351.4 L124.7 351.4 L121.7 355.0 L118.7 355.9 L115.8 356.2 L112.8 356.3 L109.8 356.3 L106.8 356.3 L103.8 356.3 L100.9 356.3 L97.9 356.3 L94.9 356.3 L91.9 356.2 L89.0 355.9 L86.0 355.0 L83.0 351.4 Z" fill="#000" fill-opacity="0.200" filter="url(#b2)"/>
<path d="M84.5 351.4 L87.3 349.2 L90.0 348.7 L92.8 348.5 L95.6 348.5 L98.3 348.4 L101.1 348.4 L103.8 348.4 L106.6 348.4 L109.4 348.4 L112.1 348.5 L114.9 348.5 L117.7 348.7 L120.4 349.2 L123.2 351.4 L123.2 351.4 L120.4 353.6 L117.7 354.1 L114.9 354.3 L112.1 354.3 L109.4 354.4 L106.6 354.4 L103.8 354.4 L101.1 354.4 L98.3 354.4 L95.6 354.3 L92.8 354.3 L90.0 354.1 L87.3 353.6 L84.5 351.4 Z" fill="#000" fill-opacity="1" filter="url(#b1)"/>
<path d="M131.9 350.5 L134.5 346.9 L137.1 346.0 L139.7 345.7 L142.4 345.6 L145.0 345.6 L147.6 345.6 L150.2 345.6 L152.8 345.6 L155.4 345.6 L158.0 345.6 L160.7 345.7 L163.3 346.0 L165.9 346.9 L168.5 350.5 L168.5 350.5 L165.9 354.1 L163.3 355.0 L160.7 355.3 L158.0 355.4 L155.4 355.4 L152.8 355.4 L150.2 355.4 L147.6 355.4 L145.0 355.4 L142.4 355.4 L139.7 355.3 L137.1 355.0 L134.5 354.1 L131.9 350.5 Z" fill="#000" fill-opacity="0.200" filter="url(#b2)"/>
<path d="M133.4 350.5 L135.8 348.3 L138.2 347.8 L140.6 347.6 L143.0 347.6 L145.4 347.5 L147.8 347.5 L150.2 347.5 L152.6 347.5 L155.0 347.5 L157.4 347.6 L159.8 347.6 L162.2 347.8 L164.6 348.3 L167.0 350.5 L167.0 350.5 L164.6 352.7 L162.2 353.2 L159.8 353.4 L157.4 353.4 L155.0 353.5 L152.6 353.5 L150.2 353.5 L147.8 353.5 L145.4 353.5 L143.0 353.4 L140.6 353.4 L138.2 353.2 L135.8 352.7 L133.4 350.5 Z" fill="#000" fill-opacity="1" filter="url(#b1)"/>
<path d="M175.8 349.1 L178.5 345.5 L181.2 344.6 L184.0 344.3 L186.7 344.2 L189.4 344.2 L192.1 344.2 L194.9 344.2 L197.6 344.2 L200.3 344.2 L203.0 344.2 L205.7 344.3 L208.5 344.6 L211.2 345.5 L213.9 349.1 L213.9 349.1 L211.2 352.7 L208.5 353.6 L205.7 353.9 L203.0 354.0 L200.3 354.0 L197.6 354.0 L194.9 354.1 L192.1 354.0 L189.4 354.0 L186.7 354.0 L184.0 353.9 L181.2 353.6 L178.5 352.7 L175.8 349.1 Z" fill="#000" fill-opacity="0.200" filter="url(#b2)"/>
<path d="M177.3 349.1 L179.8 346.9 L182.3 346.4 L184.8 346.2 L187.3 346.2 L189.8 346.1 L192.3 346.1 L194.9 346.1 L197.4 346.1 L199.9 346.1 L202.4 346.2 L204.9 346.2 L207.4 346.4 L209.9 346.9 L212.4 349.1 L212.4 349.1 L209.9 351.3 L207.4 351.8 L204.9 352.0 L202.4 352.0 L199.9 352.1 L197.4 352.1 L194.9 352.1 L192.3 352.1 L189.8 352.1 L187.3 352.0 L184.8 352.0 L182.3 351.8 L179.8 351.3 L177.3 349.1 Z" fill="#000" fill-opacity="1" filter="url(#b1)"/>
<path d="M219.7 347.0 L222.2 343.4 L224.7 342.5 L227.2 342.2 L229.8 342.1 L232.3 342.1 L234.8 342.1 L237.3 342.1 L239.8 342.1 L242.3 342.1 L244.8 342.1 L247.4 342.2 L249.9 342.5 L252.4 343.4 L254.9 347.0 L254.9 347.0 L252.4 350.6 L249.9 351.5 L247.4 351.8 L244.8 351.9 L242.3 351.9 L239.8 351.9 L237.3 351.9 L234.8 351.9 L232.3 351.9 L229.8 351.9 L227.2 351.8 L224.7 351.5 L222.2 350.6 L219.7 347.0 Z" fill="#000" fill-opacity="0.200" filter="url(#b2)"/>
<path d="M221.2 347.0 L223.5 344.8 L225.8 344.3 L228.1 344.1 L230.4 344.1 L232.7 344.0 L235.0 344.0 L237.3 344.0 L239.6 344.0 L241.9 344.0 L244.2 344.1 L246.5 344.1 L248.8 344.3 L251.1 344.8 L253.4 347.0 L253.4 347.0 L251.1 349.2 L248.8 349.7 L246.5 349.9 L244.2 349.9 L241.9 350.0 L239.6 350.0 L237.3 350.0 L235.0 350.0 L232.7 350.0 L230.4 349.9 L228.1 349.9 L225.8 349.7 L223.5 349.2 L221.2 347.0 Z" fill="#000" fill-opacity="1" filter="url(#b1)"/>
</g>
<text transform="translate(19.3,62) scale(1,1.04)" font-size="13.3" font-family="'Liberation Serif', serif" font-weight="normal" text-anchor="start" textLength="38.5" lengthAdjust="spacingAndGlyphs" >68KDa</text>
<text transform="translate(19.3,98) scale(1,1.04)" font-size="13.3" font-family="'Liberation Serif', serif" font-weight="normal" text-anchor="start" textLength="38.5" lengthAdjust="spacingAndGlyphs" >37KDa</text>
<text transform="translate(19.3,134) scale(1,1.04)" font-size="13.3" font-family="'Liberation Serif', serif" font-weight="normal" text-anchor="start" textLength="38.5" lengthAdjust="spacingAndGlyphs" >43KDa</text>
<text transform="translate(19.3,171.3) scale(1,1.04)" font-size="13.3" font-family="'Liberation Serif', serif" font-weight="normal" text-anchor="start" textLength="38.5" lengthAdjust="spacingAndGlyphs" >48KDa</text>
<text transform="translate(19.3,208.1) scale(1,1.04)" font-size="13.3" font-family="'Liberation Serif', serif" font-weight="normal" text-anchor="start" textLength="38.5" lengthAdjust="spacingAndGlyphs" >50KDa</text>
<text transform="translate(19.3,245.5) scale(1,1.04)" font-size="13.3" font-family="'Liberation Serif', serif" font-weight="normal" text-anchor="start" textLength="38.5" lengthAdjust="spacingAndGlyphs" >54KDa</text>
<text transform="translate(19.3,278) scale(1,1.04)" font-size="13.3" font-family="'Liberation Serif', serif" font-weight="normal" text-anchor="start" textLength="38.5" lengthAdjust="spacingAndGlyphs" >65KDa</text>
<text transform="translate(19.3,317.5) scale(1,1.04)" font-size="13.3" font-family="'Liberation Serif', serif" font-weight="normal" text-anchor="start" textLength="38.5" lengthAdjust="spacingAndGlyphs" >65KDa</text>
<text transform="translate(19.3,354.8) scale(1,1.04)" font-size="13.3" font-family="'Liberation Serif', serif" font-weight="normal" text-anchor="start" textLength="38.5" lengthAdjust="spacingAndGlyphs" >43KDa</text>
<text transform="translate(283.6,62.2) scale(1,1.04)" font-size="13.2" font-family="'Liberation Serif', serif" font-weight="normal" text-anchor="start" >Nrf2</text>
<text transform="translate(283.6,99.6) scale(1,1.04)" font-size="13.2" font-family="'Liberation Serif', serif" font-weight="normal" text-anchor="start" >RFC4</text>
<text transform="translate(283.6,133.6) scale(1,1.04)" font-size="13.2" font-family="'Liberation Serif', serif" font-weight="normal" text-anchor="start" >c-Jun</text>
<text transform="translate(283.6,166.6) scale(1,1.04)" font-size="13.2" font-family="'Liberation Serif', serif" font-weight="normal" text-anchor="start" >p-c-Jun</text>
<text transform="translate(283.6,209) scale(1,1.04)" font-size="13.2" font-family="'Liberation Serif', serif" font-weight="normal" text-anchor="start" >JNK</text>
<text transform="translate(283.6,245.6) scale(1,1.04)" font-size="13.2" font-family="'Liberation Serif', serif" font-weight="normal" text-anchor="start" >p-JNK</text>
<text transform="translate(287,280.6) scale(1,1.04)" font-size="13.2" font-family="'Liberation Serif', serif" font-weight="normal" text-anchor="start" >p65</text>
<text transform="translate(283.6,318.6) scale(1,1.04)" font-size="13.2" font-family="'Liberation Serif', serif" font-weight="normal" text-anchor="start" >p-p65</text>
<text transform="translate(283.6,353) scale(1,1.04)" font-size="13.2" font-family="'Liberation Serif', serif" font-weight="normal" text-anchor="start" >β-actin</text>
<line x1="97.5" y1="376.4" x2="107.69999999999999" y2="376.4" stroke="#000" stroke-width="1.9"/>
<line x1="143.20000000000002" y1="376.4" x2="153.4" y2="376.4" stroke="#000" stroke-width="1.9"/>
<line x1="188.9" y1="373.3" x2="199.9" y2="373.3" stroke="#000" stroke-width="1.5"/>
<line x1="194.4" y1="367.8" x2="194.4" y2="378.8" stroke="#000" stroke-width="1.5"/>
<line x1="227.5" y1="373.3" x2="238.5" y2="373.3" stroke="#000" stroke-width="1.5"/>
<line x1="233" y1="367.8" x2="233" y2="378.8" stroke="#000" stroke-width="1.5"/>
<text transform="translate(284.1,381.1) scale(1,1.0)" font-size="13.6" font-family="'Liberation Serif', serif" font-weight="normal" text-anchor="start" textLength="48" lengthAdjust="spacingAndGlyphs" >SC75741</text>
<path d="M344.7 371.5 C340.4 374.3 340.4 378.4 344.7 381.2" fill="none" stroke="#333" stroke-width="0.9"/>
<text transform="translate(347.5,381.1) scale(1,1.0)" font-size="13.3" font-family="'Liberation Serif', serif" font-weight="normal" text-anchor="start" textLength="18.6" lengthAdjust="spacingAndGlyphs" >μM</text>
<path d="M368.3 371.5 C372.6 374.3 372.6 378.4 368.3 381.2" fill="none" stroke="#333" stroke-width="0.9"/>
<text transform="translate(89,401.9) scale(1,1.04)" font-size="13.2" font-family="'Liberation Serif', serif" font-weight="normal" text-anchor="start" >EV1</text>
<text transform="translate(126,401.9) scale(1,1.04)" font-size="13.2" font-family="'Liberation Serif', serif" font-weight="normal" text-anchor="start" >L-Nrf2</text>
<text transform="translate(178.5,401.9) scale(1,1.04)" font-size="13.2" font-family="'Liberation Serif', serif" font-weight="normal" text-anchor="start" >EV1</text>
<text transform="translate(217.5,401.9) scale(1,1.04)" font-size="13.2" font-family="'Liberation Serif', serif" font-weight="normal" text-anchor="start" >L-Nrf2</text>
<text transform="translate(6.8,457.6) scale(1,1.1)" font-size="20.7" font-family="'Liberation Serif', serif" font-weight="normal" text-anchor="start" >C</text>
<text transform="translate(90.5,451.5) scale(1,1.0)" font-size="14" font-family="'Liberation Serif', serif" font-weight="normal" text-anchor="start" textLength="133" lengthAdjust="spacingAndGlyphs" >U937 treated with Ara-C</text>
<line x1="73.3" y1="460" x2="238.5" y2="460" stroke="#000" stroke-width="2.2"/>
<rect x="63.7" y="472.2" width="184.8" height="29.1" fill="url(#bg)" stroke="#707070" stroke-width="1.25"/>
<g clip-path="none">
<rect x="204" y="474" width="36" height="12" fill="#000" fill-opacity="0.12" filter="url(#b3)"/>
<rect x="115" y="474" width="85" height="10" fill="#000" fill-opacity="0.06" filter="url(#b3)"/>
<path d="M73.4 489.3 L75.9 486.6 L78.4 486.0 L80.9 485.7 L83.4 485.6 L85.9 485.6 L88.4 485.6 L91.0 485.6 L93.5 485.6 L96.0 485.6 L98.5 485.6 L101.0 485.7 L103.5 486.0 L106.0 486.6 L108.5 489.3 L108.5 489.3 L106.0 492.0 L103.5 492.6 L101.0 492.9 L98.5 493.0 L96.0 493.0 L93.5 493.0 L91.0 493.0 L88.4 493.0 L85.9 493.0 L83.4 493.0 L80.9 492.9 L78.4 492.6 L75.9 492.0 L73.4 489.3 Z" fill="#000" fill-opacity="0.110" filter="url(#b2)"/>
<path d="M74.9 489.3 L77.2 488.1 L79.5 487.8 L81.8 487.7 L84.1 487.7 L86.4 487.7 L88.7 487.7 L91.0 487.7 L93.2 487.7 L95.5 487.7 L97.8 487.7 L100.1 487.7 L102.4 487.8 L104.7 488.1 L107.0 489.3 L107.0 489.3 L104.7 490.5 L102.4 490.8 L100.1 490.9 L97.8 490.9 L95.5 490.9 L93.2 490.9 L91.0 490.9 L88.7 490.9 L86.4 490.9 L84.1 490.9 L81.8 490.9 L79.5 490.8 L77.2 490.5 L74.9 489.3 Z" fill="#000" fill-opacity="0.55" filter="url(#b1)"/>
<path d="M114.3 488.7 L117.1 484.9 L119.9 484.0 L122.7 483.7 L125.4 483.5 L128.2 483.5 L131.0 483.5 L133.8 483.5 L136.6 483.5 L139.4 483.5 L142.2 483.5 L144.9 483.7 L147.7 484.0 L150.5 484.9 L153.3 488.7 L153.3 488.7 L150.5 492.5 L147.7 493.4 L144.9 493.7 L142.2 493.9 L139.4 493.9 L136.6 493.9 L133.8 493.9 L131.0 493.9 L128.2 493.9 L125.4 493.9 L122.7 493.7 L119.9 493.4 L117.1 492.5 L114.3 488.7 Z" fill="#000" fill-opacity="0.200" filter="url(#b2)"/>
<path d="M115.8 488.7 L118.4 486.3 L120.9 485.8 L123.5 485.6 L126.1 485.5 L128.7 485.5 L131.2 485.5 L133.8 485.5 L136.4 485.5 L138.9 485.5 L141.5 485.5 L144.1 485.6 L146.7 485.8 L149.2 486.3 L151.8 488.7 L151.8 488.7 L149.2 491.1 L146.7 491.6 L144.1 491.8 L141.5 491.9 L138.9 491.9 L136.4 491.9 L133.8 491.9 L131.2 491.9 L128.7 491.9 L126.1 491.9 L123.5 491.8 L120.9 491.6 L118.4 491.1 L115.8 488.7 Z" fill="#000" fill-opacity="1" filter="url(#b1)"/>
<path d="M156.8 488.4 L159.6 485.0 L162.5 484.2 L165.3 483.8 L168.1 483.7 L170.9 483.7 L173.8 483.7 L176.6 483.7 L179.4 483.7 L182.3 483.7 L185.1 483.7 L187.9 483.8 L190.7 484.2 L193.6 485.0 L196.4 488.4 L196.4 488.4 L193.6 491.8 L190.7 492.6 L187.9 493.0 L185.1 493.1 L182.3 493.1 L179.4 493.1 L176.6 493.1 L173.8 493.1 L170.9 493.1 L168.1 493.1 L165.3 493.0 L162.5 492.6 L159.6 491.8 L156.8 488.4 Z" fill="#000" fill-opacity="0.200" filter="url(#b2)"/>
<path d="M158.3 488.4 L160.9 486.4 L163.5 486.0 L166.1 485.8 L168.8 485.7 L171.4 485.7 L174.0 485.7 L176.6 485.7 L179.2 485.7 L181.8 485.7 L184.4 485.7 L187.1 485.8 L189.7 486.0 L192.3 486.4 L194.9 488.4 L194.9 488.4 L192.3 490.4 L189.7 490.8 L187.1 491.0 L184.4 491.1 L181.8 491.1 L179.2 491.1 L176.6 491.1 L174.0 491.1 L171.4 491.1 L168.8 491.1 L166.1 491.0 L163.5 490.8 L160.9 490.4 L158.3 488.4 Z" fill="#000" fill-opacity="1" filter="url(#b1)"/>
<path d="M203.0 487.8 L205.7 483.3 L208.4 482.2 L211.2 481.8 L213.9 481.6 L216.6 481.6 L219.3 481.6 L222.1 481.6 L224.8 481.6 L227.5 481.6 L230.2 481.6 L232.9 481.8 L235.7 482.2 L238.4 483.3 L241.1 487.8 L241.1 487.8 L238.4 492.3 L235.7 493.4 L232.9 493.8 L230.2 494.0 L227.5 494.0 L224.8 494.0 L222.1 494.0 L219.3 494.0 L216.6 494.0 L213.9 494.0 L211.2 493.8 L208.4 493.4 L205.7 492.3 L203.0 487.8 Z" fill="#000" fill-opacity="0.200" filter="url(#b2)"/>
<path d="M204.5 487.8 L207.0 484.6 L209.5 483.9 L212.0 483.6 L214.5 483.5 L217.0 483.5 L219.5 483.5 L222.1 483.5 L224.6 483.5 L227.1 483.5 L229.6 483.5 L232.1 483.6 L234.6 483.9 L237.1 484.6 L239.6 487.8 L239.6 487.8 L237.1 491.0 L234.6 491.7 L232.1 492.0 L229.6 492.1 L227.1 492.1 L224.6 492.1 L222.1 492.1 L219.5 492.1 L217.0 492.1 L214.5 492.1 L212.0 492.0 L209.5 491.7 L207.0 491.0 L204.5 487.8 Z" fill="#000" fill-opacity="1" filter="url(#b1)"/>
</g>
<rect x="62.8" y="507.9" width="184.2" height="29.2" fill="url(#bg)" stroke="#707070" stroke-width="1.25"/>
<g clip-path="none">
<path d="M66.6 522.0 L69.4 518.9 L72.3 518.2 L75.1 517.9 L78.0 517.8 L80.8 517.8 L83.7 517.8 L86.5 517.8 L89.4 517.8 L92.2 517.8 L95.1 517.8 L98.0 517.9 L100.8 518.2 L103.7 518.9 L106.5 522.0 L106.5 522.0 L103.7 525.1 L100.8 525.8 L98.0 526.1 L95.1 526.2 L92.2 526.2 L89.4 526.2 L86.5 526.2 L83.7 526.2 L80.8 526.2 L78.0 526.2 L75.1 526.1 L72.3 525.8 L69.4 525.1 L66.6 522.0 Z" fill="#000" fill-opacity="0.200" filter="url(#b2)"/>
<path d="M68.1 522.0 L70.7 520.4 L73.4 520.1 L76.0 519.9 L78.6 519.9 L81.3 519.8 L83.9 519.8 L86.5 519.8 L89.2 519.8 L91.8 519.8 L94.5 519.9 L97.1 519.9 L99.7 520.1 L102.4 520.4 L105.0 522.0 L105.0 522.0 L102.4 523.6 L99.7 523.9 L97.1 524.1 L94.5 524.1 L91.8 524.2 L89.2 524.2 L86.5 524.2 L83.9 524.2 L81.3 524.2 L78.6 524.1 L76.0 524.1 L73.4 523.9 L70.7 523.6 L68.1 522.0 Z" fill="#000" fill-opacity="1" filter="url(#b1)"/>
<path d="M112.9 522.5 L115.5 519.8 L118.0 519.2 L120.6 518.9 L123.1 518.8 L125.7 518.8 L128.2 518.8 L130.8 518.8 L133.4 518.8 L135.9 518.8 L138.5 518.8 L141.0 518.9 L143.6 519.2 L146.1 519.8 L148.7 522.5 L148.7 522.5 L146.1 525.2 L143.6 525.8 L141.0 526.1 L138.5 526.2 L135.9 526.2 L133.4 526.2 L130.8 526.2 L128.2 526.2 L125.7 526.2 L123.1 526.2 L120.6 526.1 L118.0 525.8 L115.5 525.2 L112.9 522.5 Z" fill="#000" fill-opacity="0.120" filter="url(#b2)"/>
<path d="M114.4 522.5 L116.7 521.3 L119.1 521.0 L121.4 520.9 L123.8 520.9 L126.1 520.9 L128.5 520.9 L130.8 520.9 L133.1 520.9 L135.5 520.9 L137.8 520.9 L140.2 520.9 L142.5 521.0 L144.9 521.3 L147.2 522.5 L147.2 522.5 L144.9 523.7 L142.5 524.0 L140.2 524.1 L137.8 524.1 L135.5 524.1 L133.1 524.1 L130.8 524.1 L128.5 524.1 L126.1 524.1 L123.8 524.1 L121.4 524.1 L119.1 524.0 L116.7 523.7 L114.4 522.5 Z" fill="#000" fill-opacity="0.6" filter="url(#b1)"/>
<path d="M155.3 522.9 L158.1 519.5 L161.0 518.7 L163.8 518.3 L166.6 518.2 L169.4 518.2 L172.3 518.2 L175.1 518.2 L177.9 518.2 L180.8 518.2 L183.6 518.2 L186.4 518.3 L189.2 518.7 L192.1 519.5 L194.9 522.9 L194.9 522.9 L192.1 526.3 L189.2 527.1 L186.4 527.5 L183.6 527.6 L180.8 527.6 L177.9 527.6 L175.1 527.6 L172.3 527.6 L169.4 527.6 L166.6 527.6 L163.8 527.5 L161.0 527.1 L158.1 526.3 L155.3 522.9 Z" fill="#000" fill-opacity="0.200" filter="url(#b2)"/>
<path d="M156.8 522.9 L159.4 520.9 L162.0 520.5 L164.6 520.3 L167.3 520.2 L169.9 520.2 L172.5 520.2 L175.1 520.2 L177.7 520.2 L180.3 520.2 L182.9 520.2 L185.6 520.3 L188.2 520.5 L190.8 520.9 L193.4 522.9 L193.4 522.9 L190.8 524.9 L188.2 525.3 L185.6 525.5 L182.9 525.6 L180.3 525.6 L177.7 525.6 L175.1 525.6 L172.5 525.6 L169.9 525.6 L167.3 525.6 L164.6 525.5 L162.0 525.3 L159.4 524.9 L156.8 522.9 Z" fill="#000" fill-opacity="1" filter="url(#b1)"/>
<path d="M199.2 523.0 L202.0 519.9 L204.9 519.2 L207.7 518.9 L210.5 518.8 L213.3 518.8 L216.2 518.8 L219.0 518.8 L221.8 518.8 L224.7 518.8 L227.5 518.8 L230.3 518.9 L233.1 519.2 L236.0 519.9 L238.8 523.0 L238.8 523.0 L236.0 526.1 L233.1 526.8 L230.3 527.1 L227.5 527.2 L224.7 527.2 L221.8 527.2 L219.0 527.2 L216.2 527.2 L213.3 527.2 L210.5 527.2 L207.7 527.1 L204.9 526.8 L202.0 526.1 L199.2 523.0 Z" fill="#000" fill-opacity="0.190" filter="url(#b2)"/>
<path d="M200.7 523.0 L203.3 521.4 L205.9 521.1 L208.5 520.9 L211.2 520.9 L213.8 520.8 L216.4 520.8 L219.0 520.8 L221.6 520.8 L224.2 520.8 L226.8 520.9 L229.5 520.9 L232.1 521.1 L234.7 521.4 L237.3 523.0 L237.3 523.0 L234.7 524.6 L232.1 524.9 L229.5 525.1 L226.8 525.1 L224.2 525.2 L221.6 525.2 L219.0 525.2 L216.4 525.2 L213.8 525.2 L211.2 525.1 L208.5 525.1 L205.9 524.9 L203.3 524.6 L200.7 523.0 Z" fill="#000" fill-opacity="0.95" filter="url(#b1)"/>
</g>
<rect x="63.7" y="544.8" width="184.2" height="28.8" fill="url(#bg)" stroke="#707070" stroke-width="1.25"/>
<g clip-path="none">
<path d="M67.5 560.1 L70.4 556.3 L73.2 555.4 L76.1 555.1 L79.0 554.9 L81.9 554.9 L84.7 554.9 L87.6 554.9 L90.5 554.9 L93.3 554.9 L96.2 554.9 L99.1 555.1 L102.0 555.4 L104.8 556.3 L107.7 560.1 L107.7 560.1 L104.8 563.9 L102.0 564.8 L99.1 565.1 L96.2 565.3 L93.3 565.3 L90.5 565.3 L87.6 565.3 L84.7 565.3 L81.9 565.3 L79.0 565.3 L76.1 565.1 L73.2 564.8 L70.4 563.9 L67.5 560.1 Z" fill="#000" fill-opacity="0.200" filter="url(#b2)"/>
<path d="M69.0 560.1 L71.7 557.7 L74.3 557.2 L77.0 557.0 L79.6 556.9 L82.3 556.9 L84.9 556.9 L87.6 556.9 L90.3 556.9 L92.9 556.9 L95.6 556.9 L98.2 557.0 L100.9 557.2 L103.5 557.7 L106.2 560.1 L106.2 560.1 L103.5 562.5 L100.9 563.0 L98.2 563.2 L95.6 563.3 L92.9 563.3 L90.3 563.3 L87.6 563.3 L84.9 563.3 L82.3 563.3 L79.6 563.3 L77.0 563.2 L74.3 563.0 L71.7 562.5 L69.0 560.1 Z" fill="#000" fill-opacity="1" filter="url(#b1)"/>
<path d="M111.4 561.0 L114.1 557.6 L116.8 556.8 L119.6 556.4 L122.3 556.3 L125.0 556.3 L127.7 556.3 L130.4 556.3 L133.2 556.3 L135.9 556.3 L138.6 556.3 L141.3 556.4 L144.1 556.8 L146.8 557.6 L149.5 561.0 L149.5 561.0 L146.8 564.4 L144.1 565.2 L141.3 565.6 L138.6 565.7 L135.9 565.7 L133.2 565.7 L130.4 565.7 L127.7 565.7 L125.0 565.7 L122.3 565.7 L119.6 565.6 L116.8 565.2 L114.1 564.4 L111.4 561.0 Z" fill="#000" fill-opacity="0.200" filter="url(#b2)"/>
<path d="M112.9 561.0 L115.4 559.0 L117.9 558.6 L120.4 558.4 L122.9 558.3 L125.4 558.3 L127.9 558.3 L130.4 558.3 L133.0 558.3 L135.5 558.3 L138.0 558.3 L140.5 558.4 L143.0 558.6 L145.5 559.0 L148.0 561.0 L148.0 561.0 L145.5 563.0 L143.0 563.4 L140.5 563.6 L138.0 563.7 L135.5 563.7 L133.0 563.7 L130.4 563.7 L127.9 563.7 L125.4 563.7 L122.9 563.7 L120.4 563.6 L117.9 563.4 L115.4 563.0 L112.9 561.0 Z" fill="#000" fill-opacity="1" filter="url(#b1)"/>
<path d="M153.9 561.8 L156.6 558.0 L159.3 557.1 L162.1 556.8 L164.8 556.6 L167.5 556.6 L170.2 556.6 L172.9 556.6 L175.7 556.6 L178.4 556.6 L181.1 556.6 L183.8 556.8 L186.6 557.1 L189.3 558.0 L192.0 561.8 L192.0 561.8 L189.3 565.6 L186.6 566.5 L183.8 566.8 L181.1 567.0 L178.4 567.0 L175.7 567.0 L172.9 567.0 L170.2 567.0 L167.5 567.0 L164.8 567.0 L162.1 566.8 L159.3 566.5 L156.6 565.6 L153.9 561.8 Z" fill="#000" fill-opacity="0.200" filter="url(#b2)"/>
<path d="M155.4 561.8 L157.9 559.4 L160.4 558.9 L162.9 558.7 L165.4 558.6 L167.9 558.6 L170.4 558.6 L172.9 558.6 L175.5 558.6 L178.0 558.6 L180.5 558.6 L183.0 558.7 L185.5 558.9 L188.0 559.4 L190.5 561.8 L190.5 561.8 L188.0 564.2 L185.5 564.7 L183.0 564.9 L180.5 565.0 L178.0 565.0 L175.5 565.0 L172.9 565.0 L170.4 565.0 L167.9 565.0 L165.4 565.0 L162.9 564.9 L160.4 564.7 L157.9 564.2 L155.4 561.8 Z" fill="#000" fill-opacity="1" filter="url(#b1)"/>
<path d="M193.4 563.9 L196.2 560.5 L199.0 559.7 L201.9 559.3 L204.7 559.2 L207.5 559.2 L210.3 559.2 L213.2 559.2 L216.0 559.2 L218.8 559.2 L221.6 559.2 L224.4 559.3 L227.3 559.7 L230.1 560.5 L232.9 563.9 L232.9 563.9 L230.1 567.3 L227.3 568.1 L224.4 568.5 L221.6 568.6 L218.8 568.6 L216.0 568.6 L213.2 568.6 L210.3 568.6 L207.5 568.6 L204.7 568.6 L201.9 568.5 L199.0 568.1 L196.2 567.3 L193.4 563.9 Z" fill="#000" fill-opacity="0.200" filter="url(#b2)"/>
<path d="M194.9 563.9 L197.5 561.9 L200.1 561.5 L202.7 561.3 L205.3 561.2 L207.9 561.2 L210.5 561.2 L213.2 561.2 L215.8 561.2 L218.4 561.2 L221.0 561.2 L223.6 561.3 L226.2 561.5 L228.8 561.9 L231.4 563.9 L231.4 563.9 L228.8 565.9 L226.2 566.3 L223.6 566.5 L221.0 566.6 L218.4 566.6 L215.8 566.6 L213.2 566.6 L210.5 566.6 L207.9 566.6 L205.3 566.6 L202.7 566.5 L200.1 566.3 L197.5 565.9 L194.9 563.9 Z" fill="#000" fill-opacity="1" filter="url(#b1)"/>
</g>
<rect x="63.7" y="578.4" width="184.8" height="33.3" fill="url(#bg)" stroke="#707070" stroke-width="1.25"/>
<g clip-path="none">
<rect x="117" y="592" width="38" height="20" fill="#000" fill-opacity="0.1" filter="url(#b3)"/>
<path d="M67.5 588.5 L70.4 584.3 L73.4 583.4 L76.3 583.0 L79.2 582.8 L82.1 582.8 L85.1 582.8 L88.0 582.8 L90.9 582.8 L93.9 582.8 L96.8 582.8 L99.7 583.0 L102.6 583.4 L105.6 584.3 L108.5 588.5 L108.5 588.5 L105.6 592.7 L102.6 593.6 L99.7 594.0 L96.8 594.2 L93.9 594.2 L90.9 594.2 L88.0 594.2 L85.1 594.2 L82.1 594.2 L79.2 594.2 L76.3 594.0 L73.4 593.6 L70.4 592.7 L67.5 588.5 Z" fill="#000" fill-opacity="0.026" filter="url(#b2)"/>
<path d="M69.0 588.5 L71.7 585.7 L74.4 585.1 L77.1 584.8 L79.9 584.7 L82.6 584.7 L85.3 584.7 L88.0 584.7 L90.7 584.7 L93.4 584.7 L96.1 584.7 L98.9 584.8 L101.6 585.1 L104.3 585.7 L107.0 588.5 L107.0 588.5 L104.3 591.3 L101.6 591.9 L98.9 592.2 L96.1 592.3 L93.4 592.3 L90.7 592.3 L88.0 592.3 L85.3 592.3 L82.6 592.3 L79.9 592.3 L77.1 592.2 L74.4 591.9 L71.7 591.3 L69.0 588.5 Z" fill="#000" fill-opacity="0.13" filter="url(#b1)"/>
<path d="M91.5 588.0 L92.7 584.6 L93.9 583.8 L95.1 583.4 L96.4 583.3 L97.6 583.3 L98.8 583.3 L100.0 583.3 L101.2 583.3 L102.4 583.3 L103.6 583.3 L104.9 583.4 L106.1 583.8 L107.3 584.6 L108.5 588.0 L108.5 588.0 L107.3 591.4 L106.1 592.2 L104.9 592.6 L103.6 592.7 L102.4 592.7 L101.2 592.7 L100.0 592.7 L98.8 592.7 L97.6 592.7 L96.4 592.7 L95.1 592.6 L93.9 592.2 L92.7 591.4 L91.5 588.0 Z" fill="#000" fill-opacity="0.070" filter="url(#b2)"/>
<path d="M93.0 588.0 L94.0 586.0 L95.0 585.6 L96.0 585.4 L97.0 585.3 L98.0 585.3 L99.0 585.3 L100.0 585.3 L101.0 585.3 L102.0 585.3 L103.0 585.3 L104.0 585.4 L105.0 585.6 L106.0 586.0 L107.0 588.0 L107.0 588.0 L106.0 590.0 L105.0 590.4 L104.0 590.6 L103.0 590.7 L102.0 590.7 L101.0 590.7 L100.0 590.7 L99.0 590.7 L98.0 590.7 L97.0 590.7 L96.0 590.6 L95.0 590.4 L94.0 590.0 L93.0 588.0 Z" fill="#000" fill-opacity="0.35" filter="url(#b1)"/>
<path d="M115.2 588.8 L118.2 583.0 L121.2 581.6 L124.1 581.1 L127.1 580.9 L130.1 580.9 L133.1 580.9 L136.1 580.8 L139.0 580.9 L142.0 580.9 L145.0 580.9 L148.0 581.1 L150.9 581.6 L153.9 583.0 L156.9 588.8 L156.9 588.8 L153.9 594.6 L150.9 596.0 L148.0 596.5 L145.0 596.7 L142.0 596.7 L139.0 596.7 L136.1 596.8 L133.1 596.7 L130.1 596.7 L127.1 596.7 L124.1 596.5 L121.2 596.0 L118.2 594.6 L115.2 588.8 Z" fill="#000" fill-opacity="0.200" filter="url(#b2)"/>
<path d="M116.7 588.8 L119.5 584.2 L122.2 583.2 L125.0 582.8 L127.8 582.6 L130.5 582.6 L133.3 582.6 L136.1 582.6 L138.8 582.6 L141.6 582.6 L144.3 582.6 L147.1 582.8 L149.9 583.2 L152.6 584.2 L155.4 588.8 L155.4 588.8 L152.6 593.4 L149.9 594.4 L147.1 594.8 L144.3 595.0 L141.6 595.0 L138.8 595.0 L136.1 595.0 L133.3 595.0 L130.5 595.0 L127.8 595.0 L125.0 594.8 L122.2 594.4 L119.5 593.4 L116.7 588.8 Z" fill="#000" fill-opacity="1" filter="url(#b1)"/>
<path d="M162.5 589.0 L165.1 584.8 L167.8 583.9 L170.4 583.5 L173.0 583.3 L175.6 583.3 L178.3 583.3 L180.9 583.3 L183.5 583.3 L186.2 583.3 L188.8 583.3 L191.4 583.5 L194.0 583.9 L196.7 584.8 L199.3 589.0 L199.3 589.0 L196.7 593.2 L194.0 594.1 L191.4 594.5 L188.8 594.7 L186.2 594.7 L183.5 594.7 L180.9 594.7 L178.3 594.7 L175.6 594.7 L173.0 594.7 L170.4 594.5 L167.8 594.1 L165.1 593.2 L162.5 589.0 Z" fill="#000" fill-opacity="0.020" filter="url(#b2)"/>
<path d="M164.0 589.0 L166.4 586.2 L168.8 585.6 L171.2 585.3 L173.7 585.2 L176.1 585.2 L178.5 585.2 L180.9 585.2 L183.3 585.2 L185.7 585.2 L188.1 585.2 L190.6 585.3 L193.0 585.6 L195.4 586.2 L197.8 589.0 L197.8 589.0 L195.4 591.8 L193.0 592.4 L190.6 592.7 L188.1 592.8 L185.7 592.8 L183.3 592.8 L180.9 592.8 L178.5 592.8 L176.1 592.8 L173.7 592.8 L171.2 592.7 L168.8 592.4 L166.4 591.8 L164.0 589.0 Z" fill="#000" fill-opacity="0.1" filter="url(#b1)"/>
<path d="M206.5 589.0 L209.3 584.8 L212.2 583.9 L215.0 583.5 L217.8 583.3 L220.6 583.3 L223.5 583.3 L226.3 583.3 L229.1 583.3 L232.0 583.3 L234.8 583.3 L237.6 583.5 L240.4 583.9 L243.3 584.8 L246.1 589.0 L246.1 589.0 L243.3 593.2 L240.4 594.1 L237.6 594.5 L234.8 594.7 L232.0 594.7 L229.1 594.7 L226.3 594.7 L223.5 594.7 L220.6 594.7 L217.8 594.7 L215.0 594.5 L212.2 594.1 L209.3 593.2 L206.5 589.0 Z" fill="#000" fill-opacity="0.020" filter="url(#b2)"/>
<path d="M208.0 589.0 L210.6 586.2 L213.2 585.6 L215.8 585.3 L218.5 585.2 L221.1 585.2 L223.7 585.2 L226.3 585.2 L228.9 585.2 L231.5 585.2 L234.1 585.2 L236.8 585.3 L239.4 585.6 L242.0 586.2 L244.6 589.0 L244.6 589.0 L242.0 591.8 L239.4 592.4 L236.8 592.7 L234.1 592.8 L231.5 592.8 L228.9 592.8 L226.3 592.8 L223.7 592.8 L221.1 592.8 L218.5 592.8 L215.8 592.7 L213.2 592.4 L210.6 591.8 L208.0 589.0 Z" fill="#000" fill-opacity="0.1" filter="url(#b1)"/>
</g>
<rect x="63.7" y="616.4" width="184.8" height="29.7" fill="url(#bg)" stroke="#707070" stroke-width="1.25"/>
<g clip-path="none">
<path d="M72.5 639.9 L75.2 636.5 L77.9 635.7 L80.5 635.3 L83.2 635.2 L85.9 635.2 L88.6 635.2 L91.2 635.2 L93.9 635.2 L96.6 635.2 L99.3 635.2 L102.0 635.3 L104.6 635.7 L107.3 636.5 L110.0 639.9 L110.0 639.9 L107.3 643.3 L104.6 644.1 L102.0 644.5 L99.3 644.6 L96.6 644.6 L93.9 644.6 L91.2 644.6 L88.6 644.6 L85.9 644.6 L83.2 644.6 L80.5 644.5 L77.9 644.1 L75.2 643.3 L72.5 639.9 Z" fill="#000" fill-opacity="0.200" filter="url(#b2)"/>
<path d="M74.0 639.9 L76.5 637.9 L78.9 637.5 L81.4 637.3 L83.9 637.2 L86.3 637.2 L88.8 637.2 L91.2 637.2 L93.7 637.2 L96.2 637.2 L98.6 637.2 L101.1 637.3 L103.6 637.5 L106.0 637.9 L108.5 639.9 L108.5 639.9 L106.0 641.9 L103.6 642.3 L101.1 642.5 L98.6 642.6 L96.2 642.6 L93.7 642.6 L91.2 642.6 L88.8 642.6 L86.3 642.6 L83.9 642.6 L81.4 642.5 L78.9 642.3 L76.5 641.9 L74.0 639.9 Z" fill="#000" fill-opacity="1" filter="url(#b1)"/>
<path d="M117.3 638.7 L119.8 635.3 L122.3 634.5 L124.8 634.1 L127.4 634.0 L129.9 634.0 L132.4 634.0 L134.9 634.0 L137.4 634.0 L139.9 634.0 L142.4 634.0 L145.0 634.1 L147.5 634.5 L150.0 635.3 L152.5 638.7 L152.5 638.7 L150.0 642.1 L147.5 642.9 L145.0 643.3 L142.4 643.4 L139.9 643.4 L137.4 643.4 L134.9 643.4 L132.4 643.4 L129.9 643.4 L127.4 643.4 L124.8 643.3 L122.3 642.9 L119.8 642.1 L117.3 638.7 Z" fill="#000" fill-opacity="0.200" filter="url(#b2)"/>
<path d="M118.8 638.7 L121.1 636.7 L123.4 636.3 L125.7 636.1 L128.0 636.0 L130.3 636.0 L132.6 636.0 L134.9 636.0 L137.2 636.0 L139.5 636.0 L141.8 636.0 L144.1 636.1 L146.4 636.3 L148.7 636.7 L151.0 638.7 L151.0 638.7 L148.7 640.7 L146.4 641.1 L144.1 641.3 L141.8 641.4 L139.5 641.4 L137.2 641.4 L134.9 641.4 L132.6 641.4 L130.3 641.4 L128.0 641.4 L125.7 641.3 L123.4 641.1 L121.1 640.7 L118.8 638.7 Z" fill="#000" fill-opacity="1" filter="url(#b1)"/>
<path d="M159.1 637.2 L161.8 633.4 L164.4 632.5 L167.1 632.2 L169.8 632.0 L172.4 632.0 L175.1 632.0 L177.8 632.0 L180.4 632.0 L183.1 632.0 L185.7 632.0 L188.4 632.2 L191.1 632.5 L193.7 633.4 L196.4 637.2 L196.4 637.2 L193.7 641.0 L191.1 641.9 L188.4 642.2 L185.7 642.4 L183.1 642.4 L180.4 642.4 L177.8 642.4 L175.1 642.4 L172.4 642.4 L169.8 642.4 L167.1 642.2 L164.4 641.9 L161.8 641.0 L159.1 637.2 Z" fill="#000" fill-opacity="0.200" filter="url(#b2)"/>
<path d="M160.6 637.2 L163.0 634.8 L165.5 634.3 L167.9 634.1 L170.4 634.0 L172.8 634.0 L175.3 634.0 L177.8 634.0 L180.2 634.0 L182.7 634.0 L185.1 634.0 L187.6 634.1 L190.0 634.3 L192.5 634.8 L194.9 637.2 L194.9 637.2 L192.5 639.6 L190.0 640.1 L187.6 640.3 L185.1 640.4 L182.7 640.4 L180.2 640.4 L177.8 640.4 L175.3 640.4 L172.8 640.4 L170.4 640.4 L167.9 640.3 L165.5 640.1 L163.0 639.6 L160.6 637.2 Z" fill="#000" fill-opacity="1" filter="url(#b1)"/>
<path d="M159.1 644.5 L161.8 642.0 L164.4 641.4 L167.1 641.2 L169.8 641.1 L172.4 641.1 L175.1 641.1 L177.8 641.0 L180.4 641.1 L183.1 641.1 L185.7 641.1 L188.4 641.2 L191.1 641.4 L193.7 642.0 L196.4 644.5 L196.4 644.5 L193.7 647.0 L191.1 647.6 L188.4 647.8 L185.7 647.9 L183.1 647.9 L180.4 647.9 L177.8 648.0 L175.1 647.9 L172.4 647.9 L169.8 647.9 L167.1 647.8 L164.4 647.6 L161.8 647.0 L159.1 644.5 Z" fill="#000" fill-opacity="0.100" filter="url(#b2)"/>
<path d="M160.6 644.5 L163.0 643.5 L165.5 643.3 L167.9 643.2 L170.4 643.2 L172.8 643.2 L175.3 643.2 L177.8 643.1 L180.2 643.2 L182.7 643.2 L185.1 643.2 L187.6 643.2 L190.0 643.3 L192.5 643.5 L194.9 644.5 L194.9 644.5 L192.5 645.5 L190.0 645.7 L187.6 645.8 L185.1 645.8 L182.7 645.8 L180.2 645.8 L177.8 645.9 L175.3 645.8 L172.8 645.8 L170.4 645.8 L167.9 645.8 L165.5 645.7 L163.0 645.5 L160.6 644.5 Z" fill="#000" fill-opacity="0.5" filter="url(#b1)"/>
<path d="M200.7 633.4 L203.3 628.9 L205.8 627.8 L208.4 627.4 L210.9 627.2 L213.5 627.2 L216.0 627.2 L218.6 627.2 L221.2 627.2 L223.7 627.2 L226.3 627.2 L228.8 627.4 L231.4 627.8 L233.9 628.9 L236.5 633.4 L236.5 633.4 L233.9 637.9 L231.4 639.0 L228.8 639.4 L226.3 639.6 L223.7 639.6 L221.2 639.6 L218.6 639.6 L216.0 639.6 L213.5 639.6 L210.9 639.6 L208.4 639.4 L205.8 639.0 L203.3 637.9 L200.7 633.4 Z" fill="#000" fill-opacity="0.200" filter="url(#b2)"/>
<path d="M202.2 633.4 L204.5 630.2 L206.9 629.5 L209.2 629.2 L211.6 629.1 L213.9 629.1 L216.3 629.1 L218.6 629.1 L220.9 629.1 L223.3 629.1 L225.6 629.1 L228.0 629.2 L230.3 629.5 L232.7 630.2 L235.0 633.4 L235.0 633.4 L232.7 636.6 L230.3 637.3 L228.0 637.6 L225.6 637.7 L223.3 637.7 L220.9 637.7 L218.6 637.7 L216.3 637.7 L213.9 637.7 L211.6 637.7 L209.2 637.6 L206.9 637.3 L204.5 636.6 L202.2 633.4 Z" fill="#000" fill-opacity="1" filter="url(#b1)"/>
<path d="M200.7 643.5 L203.3 640.4 L205.8 639.7 L208.4 639.4 L210.9 639.3 L213.5 639.3 L216.0 639.3 L218.6 639.3 L221.2 639.3 L223.7 639.3 L226.3 639.3 L228.8 639.4 L231.4 639.7 L233.9 640.4 L236.5 643.5 L236.5 643.5 L233.9 646.6 L231.4 647.3 L228.8 647.6 L226.3 647.7 L223.7 647.7 L221.2 647.7 L218.6 647.7 L216.0 647.7 L213.5 647.7 L210.9 647.7 L208.4 647.6 L205.8 647.3 L203.3 646.6 L200.7 643.5 Z" fill="#000" fill-opacity="0.180" filter="url(#b2)"/>
<path d="M202.2 643.5 L204.5 641.9 L206.9 641.6 L209.2 641.4 L211.6 641.4 L213.9 641.3 L216.3 641.3 L218.6 641.3 L220.9 641.3 L223.3 641.3 L225.6 641.4 L228.0 641.4 L230.3 641.6 L232.7 641.9 L235.0 643.5 L235.0 643.5 L232.7 645.1 L230.3 645.4 L228.0 645.6 L225.6 645.6 L223.3 645.7 L220.9 645.7 L218.6 645.7 L216.3 645.7 L213.9 645.7 L211.6 645.6 L209.2 645.6 L206.9 645.4 L204.5 645.1 L202.2 643.5 Z" fill="#000" fill-opacity="0.9" filter="url(#b1)"/>
</g>
<rect x="63.7" y="652.1" width="184.8" height="32.0" fill="url(#bg)" stroke="#707070" stroke-width="1.25"/>
<g clip-path="none">
<path d="M66.6 668.0 L69.4 664.6 L72.3 663.8 L75.1 663.4 L78.0 663.3 L80.8 663.3 L83.7 663.3 L86.5 663.3 L89.4 663.3 L92.2 663.3 L95.1 663.3 L98.0 663.4 L100.8 663.8 L103.7 664.6 L106.5 668.0 L106.5 668.0 L103.7 671.4 L100.8 672.2 L98.0 672.6 L95.1 672.7 L92.2 672.7 L89.4 672.7 L86.5 672.7 L83.7 672.7 L80.8 672.7 L78.0 672.7 L75.1 672.6 L72.3 672.2 L69.4 671.4 L66.6 668.0 Z" fill="#000" fill-opacity="0.140" filter="url(#b2)"/>
<path d="M68.1 668.0 L70.7 666.0 L73.4 665.6 L76.0 665.4 L78.6 665.3 L81.3 665.3 L83.9 665.3 L86.5 665.3 L89.2 665.3 L91.8 665.3 L94.5 665.3 L97.1 665.4 L99.7 665.6 L102.4 666.0 L105.0 668.0 L105.0 668.0 L102.4 670.0 L99.7 670.4 L97.1 670.6 L94.5 670.7 L91.8 670.7 L89.2 670.7 L86.5 670.7 L83.9 670.7 L81.3 670.7 L78.6 670.7 L76.0 670.6 L73.4 670.4 L70.7 670.0 L68.1 668.0 Z" fill="#000" fill-opacity="0.7" filter="url(#b1)"/>
<path d="M112.3 665.0 L115.4 660.1 L118.6 659.0 L121.7 658.5 L124.9 658.3 L128.0 658.3 L131.2 658.3 L134.3 658.3 L137.4 658.3 L140.6 658.3 L143.7 658.3 L146.9 658.5 L150.0 659.0 L153.2 660.1 L156.3 665.0 L156.3 665.0 L153.2 669.9 L150.0 671.0 L146.9 671.5 L143.7 671.7 L140.6 671.7 L137.4 671.7 L134.3 671.7 L131.2 671.7 L128.0 671.7 L124.9 671.7 L121.7 671.5 L118.6 671.0 L115.4 669.9 L112.3 665.0 Z" fill="#000" fill-opacity="0.200" filter="url(#b2)"/>
<path d="M113.8 665.0 L116.7 661.4 L119.7 660.6 L122.6 660.3 L125.5 660.2 L128.4 660.1 L131.4 660.1 L134.3 660.1 L137.2 660.1 L140.2 660.1 L143.1 660.2 L146.0 660.3 L148.9 660.6 L151.9 661.4 L154.8 665.0 L154.8 665.0 L151.9 668.6 L148.9 669.4 L146.0 669.7 L143.1 669.8 L140.2 669.9 L137.2 669.9 L134.3 669.9 L131.4 669.9 L128.4 669.9 L125.5 669.8 L122.6 669.7 L119.7 669.4 L116.7 668.6 L113.8 665.0 Z" fill="#000" fill-opacity="1" filter="url(#b1)"/>
<path d="M162.5 663.3 L164.9 660.6 L167.3 660.0 L169.8 659.7 L172.2 659.6 L174.6 659.6 L177.0 659.6 L179.4 659.6 L181.9 659.6 L184.3 659.6 L186.7 659.6 L189.1 659.7 L191.6 660.0 L194.0 660.6 L196.4 663.3 L196.4 663.3 L194.0 666.0 L191.6 666.6 L189.1 666.9 L186.7 667.0 L184.3 667.0 L181.9 667.0 L179.4 667.0 L177.0 667.0 L174.6 667.0 L172.2 667.0 L169.8 666.9 L167.3 666.6 L164.9 666.0 L162.5 663.3 Z" fill="#000" fill-opacity="0.050" filter="url(#b2)"/>
<path d="M164.0 663.3 L166.2 662.1 L168.4 661.8 L170.6 661.7 L172.8 661.7 L175.0 661.7 L177.2 661.7 L179.4 661.7 L181.7 661.7 L183.9 661.7 L186.1 661.7 L188.3 661.7 L190.5 661.8 L192.7 662.1 L194.9 663.3 L194.9 663.3 L192.7 664.5 L190.5 664.8 L188.3 664.9 L186.1 664.9 L183.9 664.9 L181.7 664.9 L179.4 664.9 L177.2 664.9 L175.0 664.9 L172.8 664.9 L170.6 664.9 L168.4 664.8 L166.2 664.5 L164.0 663.3 Z" fill="#000" fill-opacity="0.25" filter="url(#b1)"/>
<path d="M205.1 662.0 L207.9 658.9 L210.7 658.2 L213.5 657.9 L216.2 657.8 L219.0 657.8 L221.8 657.8 L224.6 657.8 L227.4 657.8 L230.2 657.8 L233.0 657.8 L235.7 657.9 L238.5 658.2 L241.3 658.9 L244.1 662.0 L244.1 662.0 L241.3 665.1 L238.5 665.8 L235.7 666.1 L233.0 666.2 L230.2 666.2 L227.4 666.2 L224.6 666.2 L221.8 666.2 L219.0 666.2 L216.2 666.2 L213.5 666.1 L210.7 665.8 L207.9 665.1 L205.1 662.0 Z" fill="#000" fill-opacity="0.070" filter="url(#b2)"/>
<path d="M206.6 662.0 L209.2 660.4 L211.7 660.1 L214.3 659.9 L216.9 659.9 L219.5 659.8 L222.0 659.8 L224.6 659.8 L227.2 659.8 L229.7 659.8 L232.3 659.9 L234.9 659.9 L237.5 660.1 L240.0 660.4 L242.6 662.0 L242.6 662.0 L240.0 663.6 L237.5 663.9 L234.9 664.1 L232.3 664.1 L229.7 664.2 L227.2 664.2 L224.6 664.2 L222.0 664.2 L219.5 664.2 L216.9 664.1 L214.3 664.1 L211.7 663.9 L209.2 663.6 L206.6 662.0 Z" fill="#000" fill-opacity="0.35" filter="url(#b1)"/>
</g>
<rect x="63.7" y="689.5" width="184.2" height="29.7" fill="url(#bg)" stroke="#707070" stroke-width="1.25"/>
<g clip-path="none">
<path d="M69.0 702.2 L71.9 699.9 L74.9 699.3 L77.8 699.1 L80.7 699.0 L83.6 699.0 L86.6 699.0 L89.5 699.0 L92.4 699.0 L95.4 699.0 L98.3 699.0 L101.2 699.1 L104.1 699.3 L107.1 699.9 L110.0 702.2 L110.0 702.2 L107.1 704.5 L104.1 705.1 L101.2 705.3 L98.3 705.4 L95.4 705.4 L92.4 705.4 L89.5 705.4 L86.6 705.4 L83.6 705.4 L80.7 705.4 L77.8 705.3 L74.9 705.1 L71.9 704.5 L69.0 702.2 Z" fill="#000" fill-opacity="0.040" filter="url(#b2)"/>
<path d="M70.5 702.2 L73.2 701.4 L75.9 701.2 L78.6 701.2 L81.4 701.1 L84.1 701.1 L86.8 701.1 L89.5 701.1 L92.2 701.1 L94.9 701.1 L97.6 701.1 L100.4 701.2 L103.1 701.2 L105.8 701.4 L108.5 702.2 L108.5 702.2 L105.8 703.0 L103.1 703.2 L100.4 703.2 L97.6 703.3 L94.9 703.3 L92.2 703.3 L89.5 703.3 L86.8 703.3 L84.1 703.3 L81.4 703.3 L78.6 703.2 L75.9 703.2 L73.2 703.0 L70.5 702.2 Z" fill="#000" fill-opacity="0.2" filter="url(#b1)"/>
<path d="M69.0 710.4 L71.9 707.7 L74.9 707.1 L77.8 706.8 L80.7 706.7 L83.6 706.7 L86.6 706.7 L89.5 706.7 L92.4 706.7 L95.4 706.7 L98.3 706.7 L101.2 706.8 L104.1 707.1 L107.1 707.7 L110.0 710.4 L110.0 710.4 L107.1 713.1 L104.1 713.7 L101.2 714.0 L98.3 714.1 L95.4 714.1 L92.4 714.1 L89.5 714.1 L86.6 714.1 L83.6 714.1 L80.7 714.1 L77.8 714.0 L74.9 713.7 L71.9 713.1 L69.0 710.4 Z" fill="#000" fill-opacity="0.120" filter="url(#b2)"/>
<path d="M70.5 710.4 L73.2 709.2 L75.9 708.9 L78.6 708.8 L81.4 708.8 L84.1 708.8 L86.8 708.8 L89.5 708.8 L92.2 708.8 L94.9 708.8 L97.6 708.8 L100.4 708.8 L103.1 708.9 L105.8 709.2 L108.5 710.4 L108.5 710.4 L105.8 711.6 L103.1 711.9 L100.4 712.0 L97.6 712.0 L94.9 712.0 L92.2 712.0 L89.5 712.0 L86.8 712.0 L84.1 712.0 L81.4 712.0 L78.6 712.0 L75.9 711.9 L73.2 711.6 L70.5 710.4 Z" fill="#000" fill-opacity="0.6" filter="url(#b1)"/>
<path d="M114.3 700.1 L117.0 697.8 L119.8 697.2 L122.5 697.0 L125.2 696.9 L127.9 696.9 L130.7 696.9 L133.4 696.9 L136.1 696.9 L138.9 696.9 L141.6 696.9 L144.3 697.0 L147.0 697.2 L149.8 697.8 L152.5 700.1 L152.5 700.1 L149.8 702.4 L147.0 703.0 L144.3 703.2 L141.6 703.3 L138.9 703.3 L136.1 703.3 L133.4 703.3 L130.7 703.3 L127.9 703.3 L125.2 703.3 L122.5 703.2 L119.8 703.0 L117.0 702.4 L114.3 700.1 Z" fill="#000" fill-opacity="0.040" filter="url(#b2)"/>
<path d="M115.8 700.1 L118.3 699.3 L120.8 699.1 L123.3 699.1 L125.9 699.0 L128.4 699.0 L130.9 699.0 L133.4 699.0 L135.9 699.0 L138.4 699.0 L140.9 699.0 L143.5 699.1 L146.0 699.1 L148.5 699.3 L151.0 700.1 L151.0 700.1 L148.5 700.9 L146.0 701.1 L143.5 701.1 L140.9 701.2 L138.4 701.2 L135.9 701.2 L133.4 701.2 L130.9 701.2 L128.4 701.2 L125.9 701.2 L123.3 701.1 L120.8 701.1 L118.3 700.9 L115.8 700.1 Z" fill="#000" fill-opacity="0.2" filter="url(#b1)"/>
<path d="M114.3 707.5 L117.0 704.8 L119.8 704.2 L122.5 703.9 L125.2 703.8 L127.9 703.8 L130.7 703.8 L133.4 703.8 L136.1 703.8 L138.9 703.8 L141.6 703.8 L144.3 703.9 L147.0 704.2 L149.8 704.8 L152.5 707.5 L152.5 707.5 L149.8 710.2 L147.0 710.8 L144.3 711.1 L141.6 711.2 L138.9 711.2 L136.1 711.2 L133.4 711.2 L130.7 711.2 L127.9 711.2 L125.2 711.2 L122.5 711.1 L119.8 710.8 L117.0 710.2 L114.3 707.5 Z" fill="#000" fill-opacity="0.120" filter="url(#b2)"/>
<path d="M115.8 707.5 L118.3 706.3 L120.8 706.0 L123.3 705.9 L125.9 705.9 L128.4 705.9 L130.9 705.9 L133.4 705.9 L135.9 705.9 L138.4 705.9 L140.9 705.9 L143.5 705.9 L146.0 706.0 L148.5 706.3 L151.0 707.5 L151.0 707.5 L148.5 708.7 L146.0 709.0 L143.5 709.1 L140.9 709.1 L138.4 709.1 L135.9 709.1 L133.4 709.1 L130.9 709.1 L128.4 709.1 L125.9 709.1 L123.3 709.1 L120.8 709.0 L118.3 708.7 L115.8 707.5 Z" fill="#000" fill-opacity="0.6" filter="url(#b1)"/>
<path d="M157.4 696.6 L160.2 693.9 L163.0 693.3 L165.8 693.0 L168.5 692.9 L171.3 692.9 L174.1 692.9 L176.9 692.9 L179.7 692.9 L182.5 692.9 L185.3 692.9 L188.0 693.0 L190.8 693.3 L193.6 693.9 L196.4 696.6 L196.4 696.6 L193.6 699.3 L190.8 699.9 L188.0 700.2 L185.3 700.3 L182.5 700.3 L179.7 700.3 L176.9 700.3 L174.1 700.3 L171.3 700.3 L168.5 700.3 L165.8 700.2 L163.0 699.9 L160.2 699.3 L157.4 696.6 Z" fill="#000" fill-opacity="0.100" filter="url(#b2)"/>
<path d="M158.9 696.6 L161.5 695.4 L164.0 695.1 L166.6 695.0 L169.2 695.0 L171.8 695.0 L174.3 695.0 L176.9 695.0 L179.5 695.0 L182.0 695.0 L184.6 695.0 L187.2 695.0 L189.8 695.1 L192.3 695.4 L194.9 696.6 L194.9 696.6 L192.3 697.8 L189.8 698.1 L187.2 698.2 L184.6 698.2 L182.0 698.2 L179.5 698.2 L176.9 698.2 L174.3 698.2 L171.8 698.2 L169.2 698.2 L166.6 698.2 L164.0 698.1 L161.5 697.8 L158.9 696.6 Z" fill="#000" fill-opacity="0.5" filter="url(#b1)"/>
<path d="M157.4 705.4 L160.2 702.3 L163.0 701.6 L165.8 701.3 L168.5 701.2 L171.3 701.2 L174.1 701.2 L176.9 701.2 L179.7 701.2 L182.5 701.2 L185.3 701.2 L188.0 701.3 L190.8 701.6 L193.6 702.3 L196.4 705.4 L196.4 705.4 L193.6 708.5 L190.8 709.2 L188.0 709.5 L185.3 709.6 L182.5 709.6 L179.7 709.6 L176.9 709.6 L174.1 709.6 L171.3 709.6 L168.5 709.6 L165.8 709.5 L163.0 709.2 L160.2 708.5 L157.4 705.4 Z" fill="#000" fill-opacity="0.190" filter="url(#b2)"/>
<path d="M158.9 705.4 L161.5 703.8 L164.0 703.5 L166.6 703.3 L169.2 703.3 L171.8 703.2 L174.3 703.2 L176.9 703.2 L179.5 703.2 L182.0 703.2 L184.6 703.3 L187.2 703.3 L189.8 703.5 L192.3 703.8 L194.9 705.4 L194.9 705.4 L192.3 707.0 L189.8 707.3 L187.2 707.5 L184.6 707.5 L182.0 707.6 L179.5 707.6 L176.9 707.6 L174.3 707.6 L171.8 707.6 L169.2 707.5 L166.6 707.5 L164.0 707.3 L161.5 707.0 L158.9 705.4 Z" fill="#000" fill-opacity="0.95" filter="url(#b1)"/>
<path d="M200.1 694.3 L203.0 691.6 L205.8 691.0 L208.7 690.7 L211.6 690.6 L214.5 690.6 L217.3 690.6 L220.2 690.6 L223.1 690.6 L225.9 690.6 L228.8 690.6 L231.7 690.7 L234.6 691.0 L237.4 691.6 L240.3 694.3 L240.3 694.3 L237.4 697.0 L234.6 697.6 L231.7 697.9 L228.8 698.0 L225.9 698.0 L223.1 698.0 L220.2 698.0 L217.3 698.0 L214.5 698.0 L211.6 698.0 L208.7 697.9 L205.8 697.6 L203.0 697.0 L200.1 694.3 Z" fill="#000" fill-opacity="0.100" filter="url(#b2)"/>
<path d="M201.6 694.3 L204.3 693.1 L206.9 692.8 L209.6 692.7 L212.2 692.7 L214.9 692.7 L217.5 692.7 L220.2 692.7 L222.9 692.7 L225.5 692.7 L228.2 692.7 L230.8 692.7 L233.5 692.8 L236.1 693.1 L238.8 694.3 L238.8 694.3 L236.1 695.5 L233.5 695.8 L230.8 695.9 L228.2 695.9 L225.5 695.9 L222.9 695.9 L220.2 695.9 L217.5 695.9 L214.9 695.9 L212.2 695.9 L209.6 695.9 L206.9 695.8 L204.3 695.5 L201.6 694.3 Z" fill="#000" fill-opacity="0.5" filter="url(#b1)"/>
<path d="M200.1 703.1 L203.0 700.0 L205.8 699.3 L208.7 699.0 L211.6 698.9 L214.5 698.9 L217.3 698.9 L220.2 698.9 L223.1 698.9 L225.9 698.9 L228.8 698.9 L231.7 699.0 L234.6 699.3 L237.4 700.0 L240.3 703.1 L240.3 703.1 L237.4 706.2 L234.6 706.9 L231.7 707.2 L228.8 707.3 L225.9 707.3 L223.1 707.3 L220.2 707.3 L217.3 707.3 L214.5 707.3 L211.6 707.3 L208.7 707.2 L205.8 706.9 L203.0 706.2 L200.1 703.1 Z" fill="#000" fill-opacity="0.200" filter="url(#b2)"/>
<path d="M201.6 703.1 L204.3 701.5 L206.9 701.2 L209.6 701.0 L212.2 701.0 L214.9 700.9 L217.5 700.9 L220.2 700.9 L222.9 700.9 L225.5 700.9 L228.2 701.0 L230.8 701.0 L233.5 701.2 L236.1 701.5 L238.8 703.1 L238.8 703.1 L236.1 704.7 L233.5 705.0 L230.8 705.2 L228.2 705.2 L225.5 705.3 L222.9 705.3 L220.2 705.3 L217.5 705.3 L214.9 705.3 L212.2 705.2 L209.6 705.2 L206.9 705.0 L204.3 704.7 L201.6 703.1 Z" fill="#000" fill-opacity="1" filter="url(#b1)"/>
</g>
<rect x="63.7" y="727.0" width="184.8" height="30.3" fill="url(#bg)" stroke="#707070" stroke-width="1.25"/>
<g clip-path="none">
<path d="M67.5 745.2 L70.4 742.1 L73.4 741.4 L76.3 741.1 L79.2 741.0 L82.1 741.0 L85.1 741.0 L88.0 741.0 L90.9 741.0 L93.9 741.0 L96.8 741.0 L99.7 741.1 L102.6 741.4 L105.6 742.1 L108.5 745.2 L108.5 745.2 L105.6 748.3 L102.6 749.0 L99.7 749.3 L96.8 749.4 L93.9 749.4 L90.9 749.4 L88.0 749.4 L85.1 749.4 L82.1 749.4 L79.2 749.4 L76.3 749.3 L73.4 749.0 L70.4 748.3 L67.5 745.2 Z" fill="#000" fill-opacity="0.170" filter="url(#b2)"/>
<path d="M69.0 745.2 L71.7 743.6 L74.4 743.3 L77.1 743.1 L79.9 743.1 L82.6 743.0 L85.3 743.0 L88.0 743.0 L90.7 743.0 L93.4 743.0 L96.1 743.1 L98.9 743.1 L101.6 743.3 L104.3 743.6 L107.0 745.2 L107.0 745.2 L104.3 746.8 L101.6 747.1 L98.9 747.3 L96.1 747.3 L93.4 747.4 L90.7 747.4 L88.0 747.4 L85.3 747.4 L82.6 747.4 L79.9 747.3 L77.1 747.3 L74.4 747.1 L71.7 746.8 L69.0 745.2 Z" fill="#000" fill-opacity="0.85" filter="url(#b1)"/>
<path d="M110.0 739.4 L113.2 734.1 L116.5 732.9 L119.7 732.4 L123.0 732.3 L126.2 732.2 L129.5 732.2 L132.7 732.2 L135.9 732.2 L139.2 732.2 L142.4 732.3 L145.7 732.4 L148.9 732.9 L152.2 734.1 L155.4 739.4 L155.4 739.4 L152.2 744.7 L148.9 745.9 L145.7 746.4 L142.4 746.5 L139.2 746.6 L135.9 746.6 L132.7 746.6 L129.5 746.6 L126.2 746.6 L123.0 746.5 L119.7 746.4 L116.5 745.9 L113.2 744.7 L110.0 739.4 Z" fill="#000" fill-opacity="0.200" filter="url(#b2)"/>
<path d="M111.5 739.4 L114.5 735.4 L117.6 734.5 L120.6 734.2 L123.6 734.0 L126.6 734.0 L129.7 734.0 L132.7 734.0 L135.7 734.0 L138.8 734.0 L141.8 734.0 L144.8 734.2 L147.8 734.5 L150.9 735.4 L153.9 739.4 L153.9 739.4 L150.9 743.4 L147.8 744.3 L144.8 744.6 L141.8 744.8 L138.8 744.8 L135.7 744.8 L132.7 744.8 L129.7 744.8 L126.6 744.8 L123.6 744.8 L120.6 744.6 L117.6 744.3 L114.5 743.4 L111.5 739.4 Z" fill="#000" fill-opacity="1" filter="url(#b1)"/>
<path d="M158.2 739.6 L160.9 736.9 L163.7 736.3 L166.4 736.0 L169.1 735.9 L171.8 735.9 L174.6 735.9 L177.3 735.9 L180.0 735.9 L182.8 735.9 L185.5 735.9 L188.2 736.0 L190.9 736.3 L193.7 736.9 L196.4 739.6 L196.4 739.6 L193.7 742.3 L190.9 742.9 L188.2 743.2 L185.5 743.3 L182.8 743.3 L180.0 743.3 L177.3 743.3 L174.6 743.3 L171.8 743.3 L169.1 743.3 L166.4 743.2 L163.7 742.9 L160.9 742.3 L158.2 739.6 Z" fill="#000" fill-opacity="0.100" filter="url(#b2)"/>
<path d="M159.7 739.6 L162.2 738.4 L164.7 738.1 L167.2 738.0 L169.8 738.0 L172.3 738.0 L174.8 738.0 L177.3 738.0 L179.8 738.0 L182.3 738.0 L184.8 738.0 L187.4 738.0 L189.9 738.1 L192.4 738.4 L194.9 739.6 L194.9 739.6 L192.4 740.8 L189.9 741.1 L187.4 741.2 L184.8 741.2 L182.3 741.2 L179.8 741.2 L177.3 741.2 L174.8 741.2 L172.3 741.2 L169.8 741.2 L167.2 741.2 L164.7 741.1 L162.2 740.8 L159.7 739.6 Z" fill="#000" fill-opacity="0.5" filter="url(#b1)"/>
<path d="M200.7 737.3 L203.7 734.6 L206.8 734.0 L209.8 733.7 L212.8 733.6 L215.9 733.6 L218.9 733.6 L221.9 733.6 L225.0 733.6 L228.0 733.6 L231.1 733.6 L234.1 733.7 L237.1 734.0 L240.2 734.6 L243.2 737.3 L243.2 737.3 L240.2 740.0 L237.1 740.6 L234.1 740.9 L231.1 741.0 L228.0 741.0 L225.0 741.0 L221.9 741.0 L218.9 741.0 L215.9 741.0 L212.8 741.0 L209.8 740.9 L206.8 740.6 L203.7 740.0 L200.7 737.3 Z" fill="#000" fill-opacity="0.070" filter="url(#b2)"/>
<path d="M202.2 737.3 L205.0 736.1 L207.8 735.8 L210.7 735.7 L213.5 735.7 L216.3 735.7 L219.1 735.7 L221.9 735.7 L224.8 735.7 L227.6 735.7 L230.4 735.7 L233.2 735.7 L236.1 735.8 L238.9 736.1 L241.7 737.3 L241.7 737.3 L238.9 738.5 L236.1 738.8 L233.2 738.9 L230.4 738.9 L227.6 738.9 L224.8 738.9 L221.9 738.9 L219.1 738.9 L216.3 738.9 L213.5 738.9 L210.7 738.9 L207.8 738.8 L205.0 738.5 L202.2 737.3 Z" fill="#000" fill-opacity="0.35" filter="url(#b1)"/>
</g>
<rect x="64.0" y="764.0" width="184.5" height="29.5" fill="url(#bg)" stroke="#707070" stroke-width="1.25"/>
<g clip-path="none">
<path d="M70.5 779.2 L73.4 775.4 L76.4 774.5 L79.3 774.2 L82.2 774.0 L85.1 774.0 L88.1 774.0 L91.0 774.0 L93.9 774.0 L96.9 774.0 L99.8 774.0 L102.7 774.2 L105.6 774.5 L108.6 775.4 L111.5 779.2 L111.5 779.2 L108.6 783.0 L105.6 783.9 L102.7 784.2 L99.8 784.4 L96.9 784.4 L93.9 784.4 L91.0 784.4 L88.1 784.4 L85.1 784.4 L82.2 784.4 L79.3 784.2 L76.4 783.9 L73.4 783.0 L70.5 779.2 Z" fill="#000" fill-opacity="0.200" filter="url(#b2)"/>
<path d="M72.0 779.2 L74.7 776.8 L77.4 776.3 L80.1 776.1 L82.9 776.0 L85.6 776.0 L88.3 776.0 L91.0 776.0 L93.7 776.0 L96.4 776.0 L99.1 776.0 L101.9 776.1 L104.6 776.3 L107.3 776.8 L110.0 779.2 L110.0 779.2 L107.3 781.6 L104.6 782.1 L101.9 782.3 L99.1 782.4 L96.4 782.4 L93.7 782.4 L91.0 782.4 L88.3 782.4 L85.6 782.4 L82.9 782.4 L80.1 782.3 L77.4 782.1 L74.7 781.6 L72.0 779.2 Z" fill="#000" fill-opacity="1" filter="url(#b1)"/>
<path d="M113.5 779.0 L116.3 775.2 L119.1 774.3 L121.9 774.0 L124.6 773.8 L127.4 773.8 L130.2 773.8 L133.0 773.8 L135.8 773.8 L138.6 773.8 L141.4 773.8 L144.1 774.0 L146.9 774.3 L149.7 775.2 L152.5 779.0 L152.5 779.0 L149.7 782.8 L146.9 783.7 L144.1 784.0 L141.4 784.2 L138.6 784.2 L135.8 784.2 L133.0 784.2 L130.2 784.2 L127.4 784.2 L124.6 784.2 L121.9 784.0 L119.1 783.7 L116.3 782.8 L113.5 779.0 Z" fill="#000" fill-opacity="0.200" filter="url(#b2)"/>
<path d="M115.0 779.0 L117.6 776.6 L120.1 776.1 L122.7 775.9 L125.3 775.8 L127.9 775.8 L130.4 775.8 L133.0 775.8 L135.6 775.8 L138.1 775.8 L140.7 775.8 L143.3 775.9 L145.9 776.1 L148.4 776.6 L151.0 779.0 L151.0 779.0 L148.4 781.4 L145.9 781.9 L143.3 782.1 L140.7 782.2 L138.1 782.2 L135.6 782.2 L133.0 782.2 L130.4 782.2 L127.9 782.2 L125.3 782.2 L122.7 782.1 L120.1 781.9 L117.6 781.4 L115.0 779.0 Z" fill="#000" fill-opacity="1" filter="url(#b1)"/>
<path d="M154.5 779.0 L157.6 775.2 L160.6 774.3 L163.7 774.0 L166.7 773.8 L169.8 773.8 L172.8 773.8 L175.8 773.8 L178.9 773.8 L181.9 773.8 L185.0 773.8 L188.0 774.0 L191.1 774.3 L194.1 775.2 L197.2 779.0 L197.2 779.0 L194.1 782.8 L191.1 783.7 L188.0 784.0 L185.0 784.2 L181.9 784.2 L178.9 784.2 L175.8 784.2 L172.8 784.2 L169.8 784.2 L166.7 784.2 L163.7 784.0 L160.6 783.7 L157.6 782.8 L154.5 779.0 Z" fill="#000" fill-opacity="0.200" filter="url(#b2)"/>
<path d="M156.0 779.0 L158.8 776.6 L161.7 776.1 L164.5 775.9 L167.3 775.8 L170.2 775.8 L173.0 775.8 L175.8 775.8 L178.7 775.8 L181.5 775.8 L184.4 775.8 L187.2 775.9 L190.0 776.1 L192.9 776.6 L195.7 779.0 L195.7 779.0 L192.9 781.4 L190.0 781.9 L187.2 782.1 L184.4 782.2 L181.5 782.2 L178.7 782.2 L175.8 782.2 L173.0 782.2 L170.2 782.2 L167.3 782.2 L164.5 782.1 L161.7 781.9 L158.8 781.4 L156.0 779.0 Z" fill="#000" fill-opacity="1" filter="url(#b1)"/>
<path d="M199.2 777.4 L202.1 773.6 L205.1 772.7 L208.0 772.4 L210.9 772.2 L213.9 772.2 L216.8 772.2 L219.8 772.2 L222.7 772.2 L225.6 772.2 L228.6 772.2 L231.5 772.4 L234.4 772.7 L237.4 773.6 L240.3 777.4 L240.3 777.4 L237.4 781.2 L234.4 782.1 L231.5 782.4 L228.6 782.6 L225.6 782.6 L222.7 782.6 L219.8 782.6 L216.8 782.6 L213.9 782.6 L210.9 782.6 L208.0 782.4 L205.1 782.1 L202.1 781.2 L199.2 777.4 Z" fill="#000" fill-opacity="0.200" filter="url(#b2)"/>
<path d="M200.7 777.4 L203.4 775.0 L206.1 774.5 L208.9 774.3 L211.6 774.2 L214.3 774.2 L217.0 774.2 L219.8 774.2 L222.5 774.2 L225.2 774.2 L227.9 774.2 L230.6 774.3 L233.4 774.5 L236.1 775.0 L238.8 777.4 L238.8 777.4 L236.1 779.8 L233.4 780.3 L230.6 780.5 L227.9 780.6 L225.2 780.6 L222.5 780.6 L219.8 780.6 L217.0 780.6 L214.3 780.6 L211.6 780.6 L208.9 780.5 L206.1 780.3 L203.4 779.8 L200.7 777.4 Z" fill="#000" fill-opacity="1" filter="url(#b1)"/>
</g>
<text transform="translate(5.8,492.1) scale(1,1.12)" font-size="13.3" font-family="'Liberation Serif', serif" font-weight="normal" text-anchor="start" textLength="38.5" lengthAdjust="spacingAndGlyphs" >68KDa</text>
<text transform="translate(5.8,530.8) scale(1,1.12)" font-size="13.3" font-family="'Liberation Serif', serif" font-weight="normal" text-anchor="start" textLength="38.5" lengthAdjust="spacingAndGlyphs" >37KDa</text>
<text transform="translate(5.8,567.6) scale(1,1.12)" font-size="13.3" font-family="'Liberation Serif', serif" font-weight="normal" text-anchor="start" textLength="38.5" lengthAdjust="spacingAndGlyphs" >43KDa</text>
<text transform="translate(5.8,604) scale(1,1.12)" font-size="13.3" font-family="'Liberation Serif', serif" font-weight="normal" text-anchor="start" textLength="38.5" lengthAdjust="spacingAndGlyphs" >48KDa</text>
<text transform="translate(5.8,637.9) scale(1,1.12)" font-size="13.3" font-family="'Liberation Serif', serif" font-weight="normal" text-anchor="start" textLength="38.5" lengthAdjust="spacingAndGlyphs" >50KDa</text>
<text transform="translate(5.8,674.7) scale(1,1.12)" font-size="13.3" font-family="'Liberation Serif', serif" font-weight="normal" text-anchor="start" textLength="38.5" lengthAdjust="spacingAndGlyphs" >54KDa</text>
<text transform="translate(5.8,711) scale(1,1.12)" font-size="13.3" font-family="'Liberation Serif', serif" font-weight="normal" text-anchor="start" textLength="38.5" lengthAdjust="spacingAndGlyphs" >65KDa</text>
<text transform="translate(5.8,746) scale(1,1.12)" font-size="13.3" font-family="'Liberation Serif', serif" font-weight="normal" text-anchor="start" textLength="38.5" lengthAdjust="spacingAndGlyphs" >65KDa</text>
<text transform="translate(5.8,786) scale(1,1.12)" font-size="13.3" font-family="'Liberation Serif', serif" font-weight="normal" text-anchor="start" textLength="38.5" lengthAdjust="spacingAndGlyphs" >43KDa</text>
<text transform="translate(265.8,488.8) scale(1,1.0)" font-size="13.2" font-family="'Liberation Serif', serif" font-weight="normal" text-anchor="start" >Nrf2</text>
<text transform="translate(265.8,527.5) scale(1,1.0)" font-size="13.2" font-family="'Liberation Serif', serif" font-weight="normal" text-anchor="start" >RFC4</text>
<text transform="translate(265.8,563.9) scale(1,1.0)" font-size="13.2" font-family="'Liberation Serif', serif" font-weight="normal" text-anchor="start" >c-Jun</text>
<text transform="translate(265.8,599.7) scale(1,1.0)" font-size="13.2" font-family="'Liberation Serif', serif" font-weight="normal" text-anchor="start" >p-c-Jun</text>
<text transform="translate(265.8,637.5) scale(1,1.0)" font-size="13.2" font-family="'Liberation Serif', serif" font-weight="normal" text-anchor="start" >JNK</text>
<text transform="translate(265.8,674.2) scale(1,1.0)" font-size="13.2" font-family="'Liberation Serif', serif" font-weight="normal" text-anchor="start" >p-JNK</text>
<text transform="translate(265.8,710.8) scale(1,1.0)" font-size="13.2" font-family="'Liberation Serif', serif" font-weight="normal" text-anchor="start" >p65</text>
<text transform="translate(265.8,745.8) scale(1,1.0)" font-size="13.2" font-family="'Liberation Serif', serif" font-weight="normal" text-anchor="start" >p-p65</text>
<text transform="translate(265.8,785.3) scale(1,1.0)" font-size="13.2" font-family="'Liberation Serif', serif" font-weight="normal" text-anchor="start" >β-actin</text>
<line x1="81.2" y1="809" x2="91.39999999999999" y2="809" stroke="#000" stroke-width="1.9"/>
<line x1="125.9" y1="809" x2="136.1" y2="809" stroke="#000" stroke-width="1.9"/>
<line x1="172.0" y1="807.5" x2="183.0" y2="807.5" stroke="#000" stroke-width="1.5"/>
<line x1="177.5" y1="802.0" x2="177.5" y2="813.0" stroke="#000" stroke-width="1.5"/>
<line x1="210.8" y1="807.5" x2="221.8" y2="807.5" stroke="#000" stroke-width="1.5"/>
<line x1="216.3" y1="802.0" x2="216.3" y2="813.0" stroke="#000" stroke-width="1.5"/>
<text transform="translate(267.7,814.7) scale(1,1.0)" font-size="13.6" font-family="'Liberation Serif', serif" font-weight="normal" text-anchor="start" textLength="48" lengthAdjust="spacingAndGlyphs" >SC75741</text>
<path d="M328.3 805.1 C324.0 807.9 324.0 812.0 328.3 814.8" fill="none" stroke="#333" stroke-width="0.9"/>
<text transform="translate(331.09999999999997,814.7) scale(1,1.0)" font-size="13.3" font-family="'Liberation Serif', serif" font-weight="normal" text-anchor="start" textLength="18.6" lengthAdjust="spacingAndGlyphs" >μM</text>
<path d="M351.9 805.1 C356.2 807.9 356.2 812.0 351.9 814.8" fill="none" stroke="#333" stroke-width="0.9"/>
<text transform="translate(72.8,835) scale(1,1.12)" font-size="13.2" font-family="'Liberation Serif', serif" font-weight="normal" text-anchor="start" >EV1</text>
<text transform="translate(110.2,835) scale(1,1.12)" font-size="13.2" font-family="'Liberation Serif', serif" font-weight="normal" text-anchor="start" >L-Nrf2</text>
<text transform="translate(161.8,835) scale(1,1.12)" font-size="13.2" font-family="'Liberation Serif', serif" font-weight="normal" text-anchor="start" >EV1</text>
<text transform="translate(201,835) scale(1,1.12)" font-size="13.2" font-family="'Liberation Serif', serif" font-weight="normal" text-anchor="start" >L-Nrf2</text>
<text transform="translate(8.6,893) scale(1,1.1)" font-size="21" font-family="'Liberation Serif', serif" font-weight="normal" text-anchor="start" >E</text>
<text transform="translate(80.2,898.6) scale(1,1.0)" font-size="14" font-family="'Liberation Serif', serif" font-weight="normal" text-anchor="start" textLength="151" lengthAdjust="spacingAndGlyphs" >MV4-11 treated with Ara-C</text>
<line x1="66.8" y1="905.1" x2="231.7" y2="905.1" stroke="#000" stroke-width="2.2"/>
<rect x="63.5" y="915.5" width="180.3" height="29.6" fill="url(#bg)" stroke="#707070" stroke-width="1.25"/>
<g clip-path="none">
<path d="M68.3 930.3 L70.5 927.9 L72.8 927.3 L75.0 927.1 L77.2 927.0 L79.4 927.0 L81.7 927.0 L83.9 927.0 L86.1 927.0 L88.4 927.0 L90.6 927.0 L92.8 927.1 L95.0 927.3 L97.3 927.9 L99.5 930.3 L99.5 930.3 L97.3 932.7 L95.0 933.3 L92.8 933.5 L90.6 933.6 L88.4 933.6 L86.1 933.6 L83.9 933.6 L81.7 933.6 L79.4 933.6 L77.2 933.6 L75.0 933.5 L72.8 933.3 L70.5 932.7 L68.3 930.3 Z" fill="#000" fill-opacity="0.090" filter="url(#b2)"/>
<path d="M69.8 930.3 L71.8 929.4 L73.8 929.2 L75.8 929.1 L77.9 929.1 L79.9 929.1 L81.9 929.1 L83.9 929.1 L85.9 929.1 L87.9 929.1 L89.9 929.1 L92.0 929.1 L94.0 929.2 L96.0 929.4 L98.0 930.3 L98.0 930.3 L96.0 931.2 L94.0 931.4 L92.0 931.5 L89.9 931.5 L87.9 931.5 L85.9 931.5 L83.9 931.5 L81.9 931.5 L79.9 931.5 L77.9 931.5 L75.8 931.5 L73.8 931.4 L71.8 931.2 L69.8 930.3 Z" fill="#000" fill-opacity="0.45" filter="url(#b1)"/>
<path d="M93.5 929.8 L94.3 927.1 L95.1 926.5 L95.9 926.2 L96.6 926.1 L97.4 926.1 L98.2 926.1 L99.0 926.1 L99.8 926.1 L100.6 926.1 L101.4 926.1 L102.1 926.2 L102.9 926.5 L103.7 927.1 L104.5 929.8 L104.5 929.8 L103.7 932.5 L102.9 933.1 L102.1 933.4 L101.4 933.5 L100.6 933.5 L99.8 933.5 L99.0 933.5 L98.2 933.5 L97.4 933.5 L96.6 933.5 L95.9 933.4 L95.1 933.1 L94.3 932.5 L93.5 929.8 Z" fill="#000" fill-opacity="0.170" filter="url(#b2)"/>
<path d="M95.0 929.8 L95.6 928.6 L96.1 928.3 L96.7 928.2 L97.3 928.2 L97.9 928.2 L98.4 928.2 L99.0 928.2 L99.6 928.2 L100.1 928.2 L100.7 928.2 L101.3 928.2 L101.9 928.3 L102.4 928.6 L103.0 929.8 L103.0 929.8 L102.4 931.0 L101.9 931.3 L101.3 931.4 L100.7 931.4 L100.1 931.4 L99.6 931.4 L99.0 931.4 L98.4 931.4 L97.9 931.4 L97.3 931.4 L96.7 931.4 L96.1 931.3 L95.6 931.0 L95.0 929.8 Z" fill="#000" fill-opacity="0.85" filter="url(#b1)"/>
<path d="M113.0 931.0 L115.5 927.6 L118.1 926.8 L120.6 926.4 L123.1 926.3 L125.7 926.3 L128.2 926.3 L130.8 926.3 L133.3 926.3 L135.8 926.3 L138.4 926.3 L140.9 926.4 L143.4 926.8 L146.0 927.6 L148.5 931.0 L148.5 931.0 L146.0 934.4 L143.4 935.2 L140.9 935.6 L138.4 935.7 L135.8 935.7 L133.3 935.7 L130.8 935.7 L128.2 935.7 L125.7 935.7 L123.1 935.7 L120.6 935.6 L118.1 935.2 L115.5 934.4 L113.0 931.0 Z" fill="#000" fill-opacity="0.200" filter="url(#b2)"/>
<path d="M114.5 931.0 L116.8 929.0 L119.1 928.6 L121.5 928.4 L123.8 928.3 L126.1 928.3 L128.4 928.3 L130.8 928.3 L133.1 928.3 L135.4 928.3 L137.7 928.3 L140.0 928.4 L142.4 928.6 L144.7 929.0 L147.0 931.0 L147.0 931.0 L144.7 933.0 L142.4 933.4 L140.0 933.6 L137.7 933.7 L135.4 933.7 L133.1 933.7 L130.8 933.7 L128.4 933.7 L126.1 933.7 L123.8 933.7 L121.5 933.6 L119.1 933.4 L116.8 933.0 L114.5 931.0 Z" fill="#000" fill-opacity="1" filter="url(#b1)"/>
<path d="M155.0 931.8 L157.7 928.7 L160.3 928.0 L163.0 927.7 L165.7 927.6 L168.3 927.6 L171.0 927.6 L173.7 927.6 L176.3 927.6 L179.0 927.6 L181.6 927.6 L184.3 927.7 L187.0 928.0 L189.6 928.7 L192.3 931.8 L192.3 931.8 L189.6 934.9 L187.0 935.6 L184.3 935.9 L181.6 936.0 L179.0 936.0 L176.3 936.0 L173.7 936.0 L171.0 936.0 L168.3 936.0 L165.7 936.0 L163.0 935.9 L160.3 935.6 L157.7 934.9 L155.0 931.8 Z" fill="#000" fill-opacity="0.200" filter="url(#b2)"/>
<path d="M156.5 931.8 L158.9 930.2 L161.4 929.9 L163.8 929.7 L166.3 929.7 L168.8 929.6 L171.2 929.6 L173.7 929.6 L176.1 929.6 L178.6 929.6 L181.0 929.7 L183.5 929.7 L185.9 929.9 L188.4 930.2 L190.8 931.8 L190.8 931.8 L188.4 933.4 L185.9 933.7 L183.5 933.9 L181.0 933.9 L178.6 934.0 L176.1 934.0 L173.7 934.0 L171.2 934.0 L168.8 934.0 L166.3 933.9 L163.8 933.9 L161.4 933.7 L158.9 933.4 L156.5 931.8 Z" fill="#000" fill-opacity="1" filter="url(#b1)"/>
<path d="M200.0 931.0 L202.6 927.2 L205.2 926.3 L207.8 926.0 L210.3 925.8 L212.9 925.8 L215.5 925.8 L218.1 925.8 L220.7 925.8 L223.3 925.8 L225.9 925.8 L228.4 926.0 L231.0 926.3 L233.6 927.2 L236.2 931.0 L236.2 931.0 L233.6 934.8 L231.0 935.7 L228.4 936.0 L225.9 936.2 L223.3 936.2 L220.7 936.2 L218.1 936.2 L215.5 936.2 L212.9 936.2 L210.3 936.2 L207.8 936.0 L205.2 935.7 L202.6 934.8 L200.0 931.0 Z" fill="#000" fill-opacity="0.200" filter="url(#b2)"/>
<path d="M201.5 931.0 L203.9 928.6 L206.2 928.1 L208.6 927.9 L211.0 927.8 L213.4 927.8 L215.7 927.8 L218.1 927.8 L220.5 927.8 L222.8 927.8 L225.2 927.8 L227.6 927.9 L230.0 928.1 L232.3 928.6 L234.7 931.0 L234.7 931.0 L232.3 933.4 L230.0 933.9 L227.6 934.1 L225.2 934.2 L222.8 934.2 L220.5 934.2 L218.1 934.2 L215.7 934.2 L213.4 934.2 L211.0 934.2 L208.6 934.1 L206.2 933.9 L203.9 933.4 L201.5 931.0 Z" fill="#000" fill-opacity="1" filter="url(#b1)"/>
</g>
<rect x="63.5" y="950.7" width="180.3" height="31.4" fill="url(#bg)" stroke="#707070" stroke-width="1.25"/>
<g clip-path="none">
<path d="M69.1 968.0 L71.8 964.2 L74.6 963.3 L77.3 963.0 L80.1 962.8 L82.8 962.8 L85.6 962.8 L88.3 962.8 L91.0 962.8 L93.8 962.8 L96.5 962.8 L99.3 963.0 L102.0 963.3 L104.8 964.2 L107.5 968.0 L107.5 968.0 L104.8 971.8 L102.0 972.7 L99.3 973.0 L96.5 973.2 L93.8 973.2 L91.0 973.2 L88.3 973.2 L85.6 973.2 L82.8 973.2 L80.1 973.2 L77.3 973.0 L74.6 972.7 L71.8 971.8 L69.1 968.0 Z" fill="#000" fill-opacity="0.200" filter="url(#b2)"/>
<path d="M70.6 968.0 L73.1 965.6 L75.7 965.1 L78.2 964.9 L80.7 964.8 L83.2 964.8 L85.8 964.8 L88.3 964.8 L90.8 964.8 L93.4 964.8 L95.9 964.8 L98.4 964.9 L100.9 965.1 L103.5 965.6 L106.0 968.0 L106.0 968.0 L103.5 970.4 L100.9 970.9 L98.4 971.1 L95.9 971.2 L93.4 971.2 L90.8 971.2 L88.3 971.2 L85.8 971.2 L83.2 971.2 L80.7 971.2 L78.2 971.1 L75.7 970.9 L73.1 970.4 L70.6 968.0 Z" fill="#000" fill-opacity="1" filter="url(#b1)"/>
<path d="M118.0 968.5 L120.2 965.6 L122.4 964.9 L124.5 964.7 L126.7 964.6 L128.9 964.6 L131.1 964.6 L133.2 964.5 L135.4 964.6 L137.6 964.6 L139.8 964.6 L142.0 964.7 L144.1 964.9 L146.3 965.6 L148.5 968.5 L148.5 968.5 L146.3 971.4 L144.1 972.1 L142.0 972.3 L139.8 972.4 L137.6 972.4 L135.4 972.4 L133.2 972.5 L131.1 972.4 L128.9 972.4 L126.7 972.4 L124.5 972.3 L122.4 972.1 L120.2 971.4 L118.0 968.5 Z" fill="#000" fill-opacity="0.160" filter="url(#b2)"/>
<path d="M119.5 968.5 L121.5 967.1 L123.4 966.8 L125.4 966.7 L127.4 966.6 L129.3 966.6 L131.3 966.6 L133.2 966.6 L135.2 966.6 L137.2 966.6 L139.1 966.6 L141.1 966.7 L143.1 966.8 L145.0 967.1 L147.0 968.5 L147.0 968.5 L145.0 969.9 L143.1 970.2 L141.1 970.3 L139.1 970.4 L137.2 970.4 L135.2 970.4 L133.2 970.4 L131.3 970.4 L129.3 970.4 L127.4 970.4 L125.4 970.3 L123.4 970.2 L121.5 969.9 L119.5 968.5 Z" fill="#000" fill-opacity="0.8" filter="url(#b1)"/>
<path d="M156.9 968.0 L159.8 963.8 L162.8 962.9 L165.7 962.5 L168.7 962.3 L171.6 962.3 L174.6 962.3 L177.5 962.3 L180.4 962.3 L183.4 962.3 L186.3 962.3 L189.3 962.5 L192.2 962.9 L195.2 963.8 L198.1 968.0 L198.1 968.0 L195.2 972.2 L192.2 973.1 L189.3 973.5 L186.3 973.7 L183.4 973.7 L180.4 973.7 L177.5 973.7 L174.6 973.7 L171.6 973.7 L168.7 973.7 L165.7 973.5 L162.8 973.1 L159.8 972.2 L156.9 968.0 Z" fill="#000" fill-opacity="0.200" filter="url(#b2)"/>
<path d="M158.4 968.0 L161.1 965.2 L163.9 964.6 L166.6 964.3 L169.3 964.2 L172.0 964.2 L174.8 964.2 L177.5 964.2 L180.2 964.2 L183.0 964.2 L185.7 964.2 L188.4 964.3 L191.1 964.6 L193.9 965.2 L196.6 968.0 L196.6 968.0 L193.9 970.8 L191.1 971.4 L188.4 971.7 L185.7 971.8 L183.0 971.8 L180.2 971.8 L177.5 971.8 L174.8 971.8 L172.0 971.8 L169.3 971.8 L166.6 971.7 L163.9 971.4 L161.1 970.8 L158.4 968.0 Z" fill="#000" fill-opacity="1" filter="url(#b1)"/>
<path d="M206.5 967.0 L209.0 963.2 L211.6 962.3 L214.1 962.0 L216.6 961.8 L219.2 961.8 L221.7 961.8 L224.2 961.8 L226.8 961.8 L229.3 961.8 L231.9 961.8 L234.4 962.0 L236.9 962.3 L239.5 963.2 L242.0 967.0 L242.0 967.0 L239.5 970.8 L236.9 971.7 L234.4 972.0 L231.9 972.2 L229.3 972.2 L226.8 972.2 L224.2 972.2 L221.7 972.2 L219.2 972.2 L216.6 972.2 L214.1 972.0 L211.6 971.7 L209.0 970.8 L206.5 967.0 Z" fill="#000" fill-opacity="0.200" filter="url(#b2)"/>
<path d="M208.0 967.0 L210.3 964.6 L212.6 964.1 L215.0 963.9 L217.3 963.8 L219.6 963.8 L221.9 963.8 L224.2 963.8 L226.6 963.8 L228.9 963.8 L231.2 963.8 L233.5 963.9 L235.9 964.1 L238.2 964.6 L240.5 967.0 L240.5 967.0 L238.2 969.4 L235.9 969.9 L233.5 970.1 L231.2 970.2 L228.9 970.2 L226.6 970.2 L224.2 970.2 L221.9 970.2 L219.6 970.2 L217.3 970.2 L215.0 970.1 L212.6 969.9 L210.3 969.4 L208.0 967.0 Z" fill="#000" fill-opacity="1" filter="url(#b1)"/>
</g>
<rect x="63.7" y="988.7" width="181.3" height="28.8" fill="url(#bg)" stroke="#707070" stroke-width="1.25"/>
<g clip-path="none">
<path d="M70.5 1005.8 L72.7 1002.7 L74.9 1002.0 L77.1 1001.7 L79.3 1001.6 L81.5 1001.6 L83.7 1001.6 L85.9 1001.6 L88.1 1001.6 L90.3 1001.6 L92.5 1001.6 L94.7 1001.7 L96.9 1002.0 L99.1 1002.7 L101.3 1005.8 L101.3 1005.8 L99.1 1008.9 L96.9 1009.6 L94.7 1009.9 L92.5 1010.0 L90.3 1010.0 L88.1 1010.0 L85.9 1010.0 L83.7 1010.0 L81.5 1010.0 L79.3 1010.0 L77.1 1009.9 L74.9 1009.6 L72.7 1008.9 L70.5 1005.8 Z" fill="#000" fill-opacity="0.200" filter="url(#b2)"/>
<path d="M72.0 1005.8 L74.0 1004.2 L76.0 1003.9 L78.0 1003.7 L79.9 1003.7 L81.9 1003.6 L83.9 1003.6 L85.9 1003.6 L87.9 1003.6 L89.9 1003.6 L91.9 1003.7 L93.8 1003.7 L95.8 1003.9 L97.8 1004.2 L99.8 1005.8 L99.8 1005.8 L97.8 1007.4 L95.8 1007.7 L93.8 1007.9 L91.9 1007.9 L89.9 1008.0 L87.9 1008.0 L85.9 1008.0 L83.9 1008.0 L81.9 1008.0 L79.9 1007.9 L78.0 1007.9 L76.0 1007.7 L74.0 1007.4 L72.0 1005.8 Z" fill="#000" fill-opacity="1" filter="url(#b1)"/>
<path d="M111.5 1004.9 L113.7 1001.5 L115.9 1000.7 L118.1 1000.3 L120.3 1000.2 L122.5 1000.2 L124.7 1000.2 L126.8 1000.2 L129.0 1000.2 L131.2 1000.2 L133.4 1000.2 L135.6 1000.3 L137.8 1000.7 L140.0 1001.5 L142.2 1004.9 L142.2 1004.9 L140.0 1008.3 L137.8 1009.1 L135.6 1009.5 L133.4 1009.6 L131.2 1009.6 L129.0 1009.6 L126.8 1009.6 L124.7 1009.6 L122.5 1009.6 L120.3 1009.6 L118.1 1009.5 L115.9 1009.1 L113.7 1008.3 L111.5 1004.9 Z" fill="#000" fill-opacity="0.200" filter="url(#b2)"/>
<path d="M113.0 1004.9 L115.0 1002.9 L117.0 1002.5 L118.9 1002.3 L120.9 1002.2 L122.9 1002.2 L124.9 1002.2 L126.8 1002.2 L128.8 1002.2 L130.8 1002.2 L132.8 1002.2 L134.8 1002.3 L136.7 1002.5 L138.7 1002.9 L140.7 1004.9 L140.7 1004.9 L138.7 1006.9 L136.7 1007.3 L134.8 1007.5 L132.8 1007.6 L130.8 1007.6 L128.8 1007.6 L126.8 1007.6 L124.9 1007.6 L122.9 1007.6 L120.9 1007.6 L118.9 1007.5 L117.0 1007.3 L115.0 1006.9 L113.0 1004.9 Z" fill="#000" fill-opacity="1" filter="url(#b1)"/>
<path d="M153.9 1003.4 L156.4 1000.0 L158.8 999.2 L161.3 998.8 L163.8 998.7 L166.3 998.7 L168.7 998.7 L171.2 998.7 L173.7 998.7 L176.1 998.7 L178.6 998.7 L181.1 998.8 L183.6 999.2 L186.0 1000.0 L188.5 1003.4 L188.5 1003.4 L186.0 1006.8 L183.6 1007.6 L181.1 1008.0 L178.6 1008.1 L176.1 1008.1 L173.7 1008.1 L171.2 1008.1 L168.7 1008.1 L166.3 1008.1 L163.8 1008.1 L161.3 1008.0 L158.8 1007.6 L156.4 1006.8 L153.9 1003.4 Z" fill="#000" fill-opacity="0.200" filter="url(#b2)"/>
<path d="M155.4 1003.4 L157.7 1001.4 L159.9 1001.0 L162.2 1000.8 L164.4 1000.7 L166.7 1000.7 L168.9 1000.7 L171.2 1000.7 L173.5 1000.7 L175.7 1000.7 L178.0 1000.7 L180.2 1000.8 L182.5 1001.0 L184.7 1001.4 L187.0 1003.4 L187.0 1003.4 L184.7 1005.4 L182.5 1005.8 L180.2 1006.0 L178.0 1006.1 L175.7 1006.1 L173.5 1006.1 L171.2 1006.1 L168.9 1006.1 L166.7 1006.1 L164.4 1006.1 L162.2 1006.0 L159.9 1005.8 L157.7 1005.4 L155.4 1003.4 Z" fill="#000" fill-opacity="1" filter="url(#b1)"/>
<path d="M199.2 1002.8 L201.5 999.9 L203.8 999.2 L206.1 999.0 L208.4 998.9 L210.7 998.9 L213.0 998.9 L215.3 998.8 L217.7 998.9 L220.0 998.9 L222.3 998.9 L224.6 999.0 L226.9 999.2 L229.2 999.9 L231.5 1002.8 L231.5 1002.8 L229.2 1005.7 L226.9 1006.4 L224.6 1006.6 L222.3 1006.7 L220.0 1006.7 L217.7 1006.7 L215.3 1006.8 L213.0 1006.7 L210.7 1006.7 L208.4 1006.7 L206.1 1006.6 L203.8 1006.4 L201.5 1005.7 L199.2 1002.8 Z" fill="#000" fill-opacity="0.200" filter="url(#b2)"/>
<path d="M200.7 1002.8 L202.8 1001.4 L204.9 1001.1 L207.0 1001.0 L209.1 1000.9 L211.2 1000.9 L213.3 1000.9 L215.3 1000.9 L217.4 1000.9 L219.5 1000.9 L221.6 1000.9 L223.7 1001.0 L225.8 1001.1 L227.9 1001.4 L230.0 1002.8 L230.0 1002.8 L227.9 1004.2 L225.8 1004.5 L223.7 1004.6 L221.6 1004.7 L219.5 1004.7 L217.4 1004.7 L215.3 1004.7 L213.3 1004.7 L211.2 1004.7 L209.1 1004.7 L207.0 1004.6 L204.9 1004.5 L202.8 1004.2 L200.7 1002.8 Z" fill="#000" fill-opacity="1" filter="url(#b1)"/>
</g>
<rect x="63.7" y="1025.3" width="181.3" height="30.9" fill="url(#bg)" stroke="#707070" stroke-width="1.25"/>
<g clip-path="none">
<path d="M71.5 1026.0 L74.4 1023.8 L77.2 1023.3 L80.1 1023.1 L82.9 1023.1 L85.8 1023.1 L88.6 1023.1 L91.5 1023.0 L94.4 1023.1 L97.2 1023.1 L100.1 1023.1 L102.9 1023.1 L105.8 1023.3 L108.6 1023.8 L111.5 1026.0 L111.5 1026.0 L108.6 1028.2 L105.8 1028.7 L102.9 1028.9 L100.1 1028.9 L97.2 1028.9 L94.4 1028.9 L91.5 1029.0 L88.6 1028.9 L85.8 1028.9 L82.9 1028.9 L80.1 1028.9 L77.2 1028.7 L74.4 1028.2 L71.5 1026.0 Z" fill="#000" fill-opacity="0.100" filter="url(#b2)"/>
<path d="M73.0 1026.0 L75.6 1025.4 L78.3 1025.3 L80.9 1025.2 L83.6 1025.2 L86.2 1025.2 L88.9 1025.2 L91.5 1025.2 L94.1 1025.2 L96.8 1025.2 L99.4 1025.2 L102.1 1025.2 L104.7 1025.3 L107.4 1025.4 L110.0 1026.0 L110.0 1026.0 L107.4 1026.6 L104.7 1026.7 L102.1 1026.8 L99.4 1026.8 L96.8 1026.8 L94.1 1026.8 L91.5 1026.8 L88.9 1026.8 L86.2 1026.8 L83.6 1026.8 L80.9 1026.8 L78.3 1026.7 L75.6 1026.6 L73.0 1026.0 Z" fill="#000" fill-opacity="0.5" filter="url(#b1)"/>
<path d="M114.5 1026.0 L117.4 1023.8 L120.2 1023.3 L123.1 1023.1 L125.9 1023.1 L128.8 1023.1 L131.6 1023.1 L134.5 1023.0 L137.4 1023.1 L140.2 1023.1 L143.1 1023.1 L145.9 1023.1 L148.8 1023.3 L151.6 1023.8 L154.5 1026.0 L154.5 1026.0 L151.6 1028.2 L148.8 1028.7 L145.9 1028.9 L143.1 1028.9 L140.2 1028.9 L137.4 1028.9 L134.5 1029.0 L131.6 1028.9 L128.8 1028.9 L125.9 1028.9 L123.1 1028.9 L120.2 1028.7 L117.4 1028.2 L114.5 1026.0 Z" fill="#000" fill-opacity="0.100" filter="url(#b2)"/>
<path d="M116.0 1026.0 L118.6 1025.4 L121.3 1025.3 L123.9 1025.2 L126.6 1025.2 L129.2 1025.2 L131.9 1025.2 L134.5 1025.2 L137.1 1025.2 L139.8 1025.2 L142.4 1025.2 L145.1 1025.2 L147.7 1025.3 L150.4 1025.4 L153.0 1026.0 L153.0 1026.0 L150.4 1026.6 L147.7 1026.7 L145.1 1026.8 L142.4 1026.8 L139.8 1026.8 L137.1 1026.8 L134.5 1026.8 L131.9 1026.8 L129.2 1026.8 L126.6 1026.8 L123.9 1026.8 L121.3 1026.7 L118.6 1026.6 L116.0 1026.0 Z" fill="#000" fill-opacity="0.5" filter="url(#b1)"/>
<path d="M162.5 1026.0 L164.4 1023.8 L166.2 1023.3 L168.1 1023.1 L169.9 1023.1 L171.8 1023.1 L173.6 1023.1 L175.5 1023.0 L177.4 1023.1 L179.2 1023.1 L181.1 1023.1 L182.9 1023.1 L184.8 1023.3 L186.6 1023.8 L188.5 1026.0 L188.5 1026.0 L186.6 1028.2 L184.8 1028.7 L182.9 1028.9 L181.1 1028.9 L179.2 1028.9 L177.4 1028.9 L175.5 1029.0 L173.6 1028.9 L171.8 1028.9 L169.9 1028.9 L168.1 1028.9 L166.2 1028.7 L164.4 1028.2 L162.5 1026.0 Z" fill="#000" fill-opacity="0.080" filter="url(#b2)"/>
<path d="M164.0 1026.0 L165.6 1025.4 L167.3 1025.3 L168.9 1025.2 L170.6 1025.2 L172.2 1025.2 L173.9 1025.2 L175.5 1025.2 L177.1 1025.2 L178.8 1025.2 L180.4 1025.2 L182.1 1025.2 L183.7 1025.3 L185.4 1025.4 L187.0 1026.0 L187.0 1026.0 L185.4 1026.6 L183.7 1026.7 L182.1 1026.8 L180.4 1026.8 L178.8 1026.8 L177.1 1026.8 L175.5 1026.8 L173.9 1026.8 L172.2 1026.8 L170.6 1026.8 L168.9 1026.8 L167.3 1026.7 L165.6 1026.6 L164.0 1026.0 Z" fill="#000" fill-opacity="0.4" filter="url(#b1)"/>
<path d="M69.0 1038.0 L71.3 1034.6 L73.6 1033.8 L76.0 1033.4 L78.3 1033.3 L80.6 1033.3 L82.9 1033.3 L85.2 1033.3 L87.6 1033.3 L89.9 1033.3 L92.2 1033.3 L94.5 1033.4 L96.9 1033.8 L99.2 1034.6 L101.5 1038.0 L101.5 1038.0 L99.2 1041.4 L96.9 1042.2 L94.5 1042.6 L92.2 1042.7 L89.9 1042.7 L87.6 1042.7 L85.2 1042.7 L82.9 1042.7 L80.6 1042.7 L78.3 1042.7 L76.0 1042.6 L73.6 1042.2 L71.3 1041.4 L69.0 1038.0 Z" fill="#000" fill-opacity="0.060" filter="url(#b2)"/>
<path d="M70.5 1038.0 L72.6 1036.0 L74.7 1035.6 L76.8 1035.4 L78.9 1035.3 L81.0 1035.3 L83.1 1035.3 L85.2 1035.3 L87.4 1035.3 L89.5 1035.3 L91.6 1035.3 L93.7 1035.4 L95.8 1035.6 L97.9 1036.0 L100.0 1038.0 L100.0 1038.0 L97.9 1040.0 L95.8 1040.4 L93.7 1040.6 L91.6 1040.7 L89.5 1040.7 L87.4 1040.7 L85.2 1040.7 L83.1 1040.7 L81.0 1040.7 L78.9 1040.7 L76.8 1040.6 L74.7 1040.4 L72.6 1040.0 L70.5 1038.0 Z" fill="#000" fill-opacity="0.3" filter="url(#b1)"/>
<path d="M96.5 1037.5 L97.4 1034.1 L98.2 1033.3 L99.1 1032.9 L99.9 1032.8 L100.8 1032.8 L101.6 1032.8 L102.5 1032.8 L103.4 1032.8 L104.2 1032.8 L105.1 1032.8 L105.9 1032.9 L106.8 1033.3 L107.6 1034.1 L108.5 1037.5 L108.5 1037.5 L107.6 1040.9 L106.8 1041.7 L105.9 1042.1 L105.1 1042.2 L104.2 1042.2 L103.4 1042.2 L102.5 1042.2 L101.6 1042.2 L100.8 1042.2 L99.9 1042.2 L99.1 1042.1 L98.2 1041.7 L97.4 1040.9 L96.5 1037.5 Z" fill="#000" fill-opacity="0.180" filter="url(#b2)"/>
<path d="M98.0 1037.5 L98.6 1035.5 L99.3 1035.1 L99.9 1034.9 L100.6 1034.8 L101.2 1034.8 L101.9 1034.8 L102.5 1034.8 L103.1 1034.8 L103.8 1034.8 L104.4 1034.8 L105.1 1034.9 L105.7 1035.1 L106.4 1035.5 L107.0 1037.5 L107.0 1037.5 L106.4 1039.5 L105.7 1039.9 L105.1 1040.1 L104.4 1040.2 L103.8 1040.2 L103.1 1040.2 L102.5 1040.2 L101.9 1040.2 L101.2 1040.2 L100.6 1040.2 L99.9 1040.1 L99.3 1039.9 L98.6 1039.5 L98.0 1037.5 Z" fill="#000" fill-opacity="0.9" filter="url(#b1)"/>
<path d="M113.5 1036.2 L116.6 1030.2 L119.7 1028.8 L122.8 1028.3 L125.9 1028.1 L129.0 1028.0 L132.1 1028.0 L135.2 1028.0 L138.3 1028.0 L141.4 1028.0 L144.5 1028.1 L147.6 1028.3 L150.7 1028.8 L153.8 1030.2 L156.9 1036.2 L156.9 1036.2 L153.8 1042.2 L150.7 1043.6 L147.6 1044.1 L144.5 1044.3 L141.4 1044.4 L138.3 1044.4 L135.2 1044.4 L132.1 1044.4 L129.0 1044.4 L125.9 1044.3 L122.8 1044.1 L119.7 1043.6 L116.6 1042.2 L113.5 1036.2 Z" fill="#000" fill-opacity="0.200" filter="url(#b2)"/>
<path d="M115.0 1036.2 L117.9 1031.4 L120.8 1030.4 L123.7 1029.9 L126.5 1029.8 L129.4 1029.7 L132.3 1029.7 L135.2 1029.7 L138.1 1029.7 L141.0 1029.7 L143.9 1029.8 L146.7 1029.9 L149.6 1030.4 L152.5 1031.4 L155.4 1036.2 L155.4 1036.2 L152.5 1041.0 L149.6 1042.0 L146.7 1042.5 L143.9 1042.6 L141.0 1042.7 L138.1 1042.7 L135.2 1042.7 L132.3 1042.7 L129.4 1042.7 L126.5 1042.6 L123.7 1042.5 L120.8 1042.0 L117.9 1041.0 L115.0 1036.2 Z" fill="#000" fill-opacity="1" filter="url(#b1)"/>
<path d="M162.5 1037.0 L164.8 1033.6 L167.1 1032.8 L169.4 1032.4 L171.8 1032.3 L174.1 1032.3 L176.4 1032.3 L178.7 1032.3 L181.0 1032.3 L183.3 1032.3 L185.6 1032.3 L188.0 1032.4 L190.3 1032.8 L192.6 1033.6 L194.9 1037.0 L194.9 1037.0 L192.6 1040.4 L190.3 1041.2 L188.0 1041.6 L185.6 1041.7 L183.3 1041.7 L181.0 1041.7 L178.7 1041.7 L176.4 1041.7 L174.1 1041.7 L171.8 1041.7 L169.4 1041.6 L167.1 1041.2 L164.8 1040.4 L162.5 1037.0 Z" fill="#000" fill-opacity="0.050" filter="url(#b2)"/>
<path d="M164.0 1037.0 L166.1 1035.0 L168.2 1034.6 L170.3 1034.4 L172.4 1034.3 L174.5 1034.3 L176.6 1034.3 L178.7 1034.3 L180.8 1034.3 L182.9 1034.3 L185.0 1034.3 L187.1 1034.4 L189.2 1034.6 L191.3 1035.0 L193.4 1037.0 L193.4 1037.0 L191.3 1039.0 L189.2 1039.4 L187.1 1039.6 L185.0 1039.7 L182.9 1039.7 L180.8 1039.7 L178.7 1039.7 L176.6 1039.7 L174.5 1039.7 L172.4 1039.7 L170.3 1039.6 L168.2 1039.4 L166.1 1039.0 L164.0 1037.0 Z" fill="#000" fill-opacity="0.25" filter="url(#b1)"/>
<path d="M203.5 1038.5 L206.2 1035.1 L209.0 1034.3 L211.7 1033.9 L214.4 1033.8 L217.1 1033.8 L219.9 1033.8 L222.6 1033.8 L225.3 1033.8 L228.1 1033.8 L230.8 1033.8 L233.5 1033.9 L236.2 1034.3 L239.0 1035.1 L241.7 1038.5 L241.7 1038.5 L239.0 1041.9 L236.2 1042.7 L233.5 1043.1 L230.8 1043.2 L228.1 1043.2 L225.3 1043.2 L222.6 1043.2 L219.9 1043.2 L217.1 1043.2 L214.4 1043.2 L211.7 1043.1 L209.0 1042.7 L206.2 1041.9 L203.5 1038.5 Z" fill="#000" fill-opacity="0.016" filter="url(#b2)"/>
<path d="M205.0 1038.5 L207.5 1036.5 L210.0 1036.1 L212.5 1035.9 L215.1 1035.8 L217.6 1035.8 L220.1 1035.8 L222.6 1035.8 L225.1 1035.8 L227.6 1035.8 L230.1 1035.8 L232.7 1035.9 L235.2 1036.1 L237.7 1036.5 L240.2 1038.5 L240.2 1038.5 L237.7 1040.5 L235.2 1040.9 L232.7 1041.1 L230.1 1041.2 L227.6 1041.2 L225.1 1041.2 L222.6 1041.2 L220.1 1041.2 L217.6 1041.2 L215.1 1041.2 L212.5 1041.1 L210.0 1040.9 L207.5 1040.5 L205.0 1038.5 Z" fill="#000" fill-opacity="0.08" filter="url(#b1)"/>
</g>
<rect x="63.7" y="1063.0" width="180.4" height="29.2" fill="url(#bg)" stroke="#707070" stroke-width="1.25"/>
<g clip-path="none">
<path d="M67.5 1076.6 L70.1 1073.2 L72.7 1072.4 L75.4 1072.0 L78.0 1071.9 L80.6 1071.9 L83.2 1071.9 L85.8 1071.9 L88.5 1071.9 L91.1 1071.9 L93.7 1071.9 L96.3 1072.0 L99.0 1072.4 L101.6 1073.2 L104.2 1076.6 L104.2 1076.6 L101.6 1080.0 L99.0 1080.8 L96.3 1081.2 L93.7 1081.3 L91.1 1081.3 L88.5 1081.3 L85.8 1081.3 L83.2 1081.3 L80.6 1081.3 L78.0 1081.3 L75.4 1081.2 L72.7 1080.8 L70.1 1080.0 L67.5 1076.6 Z" fill="#000" fill-opacity="0.200" filter="url(#b2)"/>
<path d="M69.0 1076.6 L71.4 1074.6 L73.8 1074.2 L76.2 1074.0 L78.6 1073.9 L81.0 1073.9 L83.4 1073.9 L85.8 1073.9 L88.3 1073.9 L90.7 1073.9 L93.1 1073.9 L95.5 1074.0 L97.9 1074.2 L100.3 1074.6 L102.7 1076.6 L102.7 1076.6 L100.3 1078.6 L97.9 1079.0 L95.5 1079.2 L93.1 1079.3 L90.7 1079.3 L88.3 1079.3 L85.8 1079.3 L83.4 1079.3 L81.0 1079.3 L78.6 1079.3 L76.2 1079.2 L73.8 1079.0 L71.4 1078.6 L69.0 1076.6 Z" fill="#000" fill-opacity="1" filter="url(#b1)"/>
<path d="M67.5 1086.8 L70.1 1084.1 L72.7 1083.5 L75.4 1083.2 L78.0 1083.1 L80.6 1083.1 L83.2 1083.1 L85.8 1083.1 L88.5 1083.1 L91.1 1083.1 L93.7 1083.1 L96.3 1083.2 L99.0 1083.5 L101.6 1084.1 L104.2 1086.8 L104.2 1086.8 L101.6 1089.5 L99.0 1090.1 L96.3 1090.4 L93.7 1090.5 L91.1 1090.5 L88.5 1090.5 L85.8 1090.5 L83.2 1090.5 L80.6 1090.5 L78.0 1090.5 L75.4 1090.4 L72.7 1090.1 L70.1 1089.5 L67.5 1086.8 Z" fill="#000" fill-opacity="0.050" filter="url(#b2)"/>
<path d="M69.0 1086.8 L71.4 1085.6 L73.8 1085.3 L76.2 1085.2 L78.6 1085.2 L81.0 1085.2 L83.4 1085.2 L85.8 1085.2 L88.3 1085.2 L90.7 1085.2 L93.1 1085.2 L95.5 1085.2 L97.9 1085.3 L100.3 1085.6 L102.7 1086.8 L102.7 1086.8 L100.3 1088.0 L97.9 1088.3 L95.5 1088.4 L93.1 1088.4 L90.7 1088.4 L88.3 1088.4 L85.8 1088.4 L83.4 1088.4 L81.0 1088.4 L78.6 1088.4 L76.2 1088.4 L73.8 1088.3 L71.4 1088.0 L69.0 1086.8 Z" fill="#000" fill-opacity="0.25" filter="url(#b1)"/>
<path d="M112.3 1078.6 L115.1 1075.2 L117.8 1074.4 L120.6 1074.0 L123.4 1073.9 L126.1 1073.9 L128.9 1073.9 L131.7 1073.9 L134.4 1073.9 L137.2 1073.9 L139.9 1073.9 L142.7 1074.0 L145.5 1074.4 L148.2 1075.2 L151.0 1078.6 L151.0 1078.6 L148.2 1082.0 L145.5 1082.8 L142.7 1083.2 L139.9 1083.3 L137.2 1083.3 L134.4 1083.3 L131.7 1083.3 L128.9 1083.3 L126.1 1083.3 L123.4 1083.3 L120.6 1083.2 L117.8 1082.8 L115.1 1082.0 L112.3 1078.6 Z" fill="#000" fill-opacity="0.200" filter="url(#b2)"/>
<path d="M113.8 1078.6 L116.3 1076.6 L118.9 1076.2 L121.5 1076.0 L124.0 1075.9 L126.5 1075.9 L129.1 1075.9 L131.7 1075.9 L134.2 1075.9 L136.8 1075.9 L139.3 1075.9 L141.8 1076.0 L144.4 1076.2 L146.9 1076.6 L149.5 1078.6 L149.5 1078.6 L146.9 1080.6 L144.4 1081.0 L141.8 1081.2 L139.3 1081.3 L136.8 1081.3 L134.2 1081.3 L131.7 1081.3 L129.1 1081.3 L126.5 1081.3 L124.0 1081.3 L121.5 1081.2 L118.9 1081.0 L116.3 1080.6 L113.8 1078.6 Z" fill="#000" fill-opacity="1" filter="url(#b1)"/>
<path d="M112.3 1088.0 L115.1 1085.3 L117.8 1084.7 L120.6 1084.4 L123.4 1084.3 L126.1 1084.3 L128.9 1084.3 L131.7 1084.3 L134.4 1084.3 L137.2 1084.3 L139.9 1084.3 L142.7 1084.4 L145.5 1084.7 L148.2 1085.3 L151.0 1088.0 L151.0 1088.0 L148.2 1090.7 L145.5 1091.3 L142.7 1091.6 L139.9 1091.7 L137.2 1091.7 L134.4 1091.7 L131.7 1091.7 L128.9 1091.7 L126.1 1091.7 L123.4 1091.7 L120.6 1091.6 L117.8 1091.3 L115.1 1090.7 L112.3 1088.0 Z" fill="#000" fill-opacity="0.060" filter="url(#b2)"/>
<path d="M113.8 1088.0 L116.3 1086.8 L118.9 1086.5 L121.5 1086.4 L124.0 1086.4 L126.5 1086.4 L129.1 1086.4 L131.7 1086.4 L134.2 1086.4 L136.8 1086.4 L139.3 1086.4 L141.8 1086.4 L144.4 1086.5 L146.9 1086.8 L149.5 1088.0 L149.5 1088.0 L146.9 1089.2 L144.4 1089.5 L141.8 1089.6 L139.3 1089.6 L136.8 1089.6 L134.2 1089.6 L131.7 1089.6 L129.1 1089.6 L126.5 1089.6 L124.0 1089.6 L121.5 1089.6 L118.9 1089.5 L116.3 1089.2 L113.8 1088.0 Z" fill="#000" fill-opacity="0.3" filter="url(#b1)"/>
<path d="M157.4 1079.0 L160.2 1075.6 L163.0 1074.8 L165.8 1074.4 L168.5 1074.3 L171.3 1074.3 L174.1 1074.3 L176.9 1074.3 L179.7 1074.3 L182.5 1074.3 L185.3 1074.3 L188.0 1074.4 L190.8 1074.8 L193.6 1075.6 L196.4 1079.0 L196.4 1079.0 L193.6 1082.4 L190.8 1083.2 L188.0 1083.6 L185.3 1083.7 L182.5 1083.7 L179.7 1083.7 L176.9 1083.7 L174.1 1083.7 L171.3 1083.7 L168.5 1083.7 L165.8 1083.6 L163.0 1083.2 L160.2 1082.4 L157.4 1079.0 Z" fill="#000" fill-opacity="0.200" filter="url(#b2)"/>
<path d="M158.9 1079.0 L161.5 1077.0 L164.0 1076.6 L166.6 1076.4 L169.2 1076.3 L171.8 1076.3 L174.3 1076.3 L176.9 1076.3 L179.5 1076.3 L182.0 1076.3 L184.6 1076.3 L187.2 1076.4 L189.8 1076.6 L192.3 1077.0 L194.9 1079.0 L194.9 1079.0 L192.3 1081.0 L189.8 1081.4 L187.2 1081.6 L184.6 1081.7 L182.0 1081.7 L179.5 1081.7 L176.9 1081.7 L174.3 1081.7 L171.8 1081.7 L169.2 1081.7 L166.6 1081.6 L164.0 1081.4 L161.5 1081.0 L158.9 1079.0 Z" fill="#000" fill-opacity="1" filter="url(#b1)"/>
<path d="M157.4 1088.0 L160.2 1085.3 L163.0 1084.7 L165.8 1084.4 L168.5 1084.3 L171.3 1084.3 L174.1 1084.3 L176.9 1084.3 L179.7 1084.3 L182.5 1084.3 L185.3 1084.3 L188.0 1084.4 L190.8 1084.7 L193.6 1085.3 L196.4 1088.0 L196.4 1088.0 L193.6 1090.7 L190.8 1091.3 L188.0 1091.6 L185.3 1091.7 L182.5 1091.7 L179.7 1091.7 L176.9 1091.7 L174.1 1091.7 L171.3 1091.7 L168.5 1091.7 L165.8 1091.6 L163.0 1091.3 L160.2 1090.7 L157.4 1088.0 Z" fill="#000" fill-opacity="0.060" filter="url(#b2)"/>
<path d="M158.9 1088.0 L161.5 1086.8 L164.0 1086.5 L166.6 1086.4 L169.2 1086.4 L171.8 1086.4 L174.3 1086.4 L176.9 1086.4 L179.5 1086.4 L182.0 1086.4 L184.6 1086.4 L187.2 1086.4 L189.8 1086.5 L192.3 1086.8 L194.9 1088.0 L194.9 1088.0 L192.3 1089.2 L189.8 1089.5 L187.2 1089.6 L184.6 1089.6 L182.0 1089.6 L179.5 1089.6 L176.9 1089.6 L174.3 1089.6 L171.8 1089.6 L169.2 1089.6 L166.6 1089.6 L164.0 1089.5 L161.5 1089.2 L158.9 1088.0 Z" fill="#000" fill-opacity="0.3" filter="url(#b1)"/>
<path d="M200.7 1078.3 L203.3 1074.1 L205.9 1073.2 L208.5 1072.8 L211.2 1072.6 L213.8 1072.6 L216.4 1072.6 L219.0 1072.6 L221.6 1072.6 L224.2 1072.6 L226.8 1072.6 L229.5 1072.8 L232.1 1073.2 L234.7 1074.1 L237.3 1078.3 L237.3 1078.3 L234.7 1082.5 L232.1 1083.4 L229.5 1083.8 L226.8 1084.0 L224.2 1084.0 L221.6 1084.0 L219.0 1084.0 L216.4 1084.0 L213.8 1084.0 L211.2 1084.0 L208.5 1083.8 L205.9 1083.4 L203.3 1082.5 L200.7 1078.3 Z" fill="#000" fill-opacity="0.200" filter="url(#b2)"/>
<path d="M202.2 1078.3 L204.6 1075.5 L207.0 1074.9 L209.4 1074.6 L211.8 1074.5 L214.2 1074.5 L216.6 1074.5 L219.0 1074.5 L221.4 1074.5 L223.8 1074.5 L226.2 1074.5 L228.6 1074.6 L231.0 1074.9 L233.4 1075.5 L235.8 1078.3 L235.8 1078.3 L233.4 1081.1 L231.0 1081.7 L228.6 1082.0 L226.2 1082.1 L223.8 1082.1 L221.4 1082.1 L219.0 1082.1 L216.6 1082.1 L214.2 1082.1 L211.8 1082.1 L209.4 1082.0 L207.0 1081.7 L204.6 1081.1 L202.2 1078.3 Z" fill="#000" fill-opacity="1" filter="url(#b1)"/>
<path d="M200.7 1088.0 L203.3 1085.3 L205.9 1084.7 L208.5 1084.4 L211.2 1084.3 L213.8 1084.3 L216.4 1084.3 L219.0 1084.3 L221.6 1084.3 L224.2 1084.3 L226.8 1084.3 L229.5 1084.4 L232.1 1084.7 L234.7 1085.3 L237.3 1088.0 L237.3 1088.0 L234.7 1090.7 L232.1 1091.3 L229.5 1091.6 L226.8 1091.7 L224.2 1091.7 L221.6 1091.7 L219.0 1091.7 L216.4 1091.7 L213.8 1091.7 L211.2 1091.7 L208.5 1091.6 L205.9 1091.3 L203.3 1090.7 L200.7 1088.0 Z" fill="#000" fill-opacity="0.090" filter="url(#b2)"/>
<path d="M202.2 1088.0 L204.6 1086.8 L207.0 1086.5 L209.4 1086.4 L211.8 1086.4 L214.2 1086.4 L216.6 1086.4 L219.0 1086.4 L221.4 1086.4 L223.8 1086.4 L226.2 1086.4 L228.6 1086.4 L231.0 1086.5 L233.4 1086.8 L235.8 1088.0 L235.8 1088.0 L233.4 1089.2 L231.0 1089.5 L228.6 1089.6 L226.2 1089.6 L223.8 1089.6 L221.4 1089.6 L219.0 1089.6 L216.6 1089.6 L214.2 1089.6 L211.8 1089.6 L209.4 1089.6 L207.0 1089.5 L204.6 1089.2 L202.2 1088.0 Z" fill="#000" fill-opacity="0.45" filter="url(#b1)"/>
</g>
<rect x="63.7" y="1099.0" width="181.8" height="30.3" fill="url(#bg)" stroke="#707070" stroke-width="1.25"/>
<g clip-path="none">
<path d="M67.5 1115.2 L70.2 1111.4 L72.9 1110.5 L75.7 1110.2 L78.4 1110.0 L81.1 1110.0 L83.8 1110.0 L86.5 1110.0 L89.3 1110.0 L92.0 1110.0 L94.7 1110.0 L97.4 1110.2 L100.2 1110.5 L102.9 1111.4 L105.6 1115.2 L105.6 1115.2 L102.9 1119.0 L100.2 1119.9 L97.4 1120.2 L94.7 1120.4 L92.0 1120.4 L89.3 1120.4 L86.5 1120.4 L83.8 1120.4 L81.1 1120.4 L78.4 1120.4 L75.7 1120.2 L72.9 1119.9 L70.2 1119.0 L67.5 1115.2 Z" fill="#000" fill-opacity="0.090" filter="url(#b2)"/>
<path d="M69.0 1115.2 L71.5 1112.8 L74.0 1112.3 L76.5 1112.1 L79.0 1112.0 L81.5 1112.0 L84.0 1112.0 L86.5 1112.0 L89.1 1112.0 L91.6 1112.0 L94.1 1112.0 L96.6 1112.1 L99.1 1112.3 L101.6 1112.8 L104.1 1115.2 L104.1 1115.2 L101.6 1117.6 L99.1 1118.1 L96.6 1118.3 L94.1 1118.4 L91.6 1118.4 L89.1 1118.4 L86.5 1118.4 L84.0 1118.4 L81.5 1118.4 L79.0 1118.4 L76.5 1118.3 L74.0 1118.1 L71.5 1117.6 L69.0 1115.2 Z" fill="#000" fill-opacity="0.45" filter="url(#b1)"/>
<path d="M110.5 1115.2 L113.6 1108.5 L116.8 1106.9 L119.9 1106.3 L123.1 1106.1 L126.2 1106.0 L129.4 1106.0 L132.5 1106.0 L135.6 1106.0 L138.8 1106.0 L141.9 1106.1 L145.1 1106.3 L148.2 1106.9 L151.4 1108.5 L154.5 1115.2 L154.5 1115.2 L151.4 1121.9 L148.2 1123.5 L145.1 1124.1 L141.9 1124.3 L138.8 1124.4 L135.6 1124.4 L132.5 1124.4 L129.4 1124.4 L126.2 1124.4 L123.1 1124.3 L119.9 1124.1 L116.8 1123.5 L113.6 1121.9 L110.5 1115.2 Z" fill="#000" fill-opacity="0.200" filter="url(#b2)"/>
<path d="M112.0 1115.2 L114.9 1109.7 L117.9 1108.4 L120.8 1107.9 L123.7 1107.7 L126.6 1107.6 L129.6 1107.6 L132.5 1107.6 L135.4 1107.6 L138.4 1107.6 L141.3 1107.7 L144.2 1107.9 L147.1 1108.4 L150.1 1109.7 L153.0 1115.2 L153.0 1115.2 L150.1 1120.7 L147.1 1122.0 L144.2 1122.5 L141.3 1122.7 L138.4 1122.8 L135.4 1122.8 L132.5 1122.8 L129.6 1122.8 L126.6 1122.8 L123.7 1122.7 L120.8 1122.5 L117.9 1122.0 L114.9 1120.7 L112.0 1115.2 Z" fill="#000" fill-opacity="1" filter="url(#b1)"/>
<path d="M161.2 1116.7 L163.6 1112.9 L165.9 1112.0 L168.3 1111.7 L170.7 1111.5 L173.0 1111.5 L175.4 1111.5 L177.8 1111.5 L180.1 1111.5 L182.5 1111.5 L184.8 1111.5 L187.2 1111.7 L189.6 1112.0 L191.9 1112.9 L194.3 1116.7 L194.3 1116.7 L191.9 1120.5 L189.6 1121.4 L187.2 1121.7 L184.8 1121.9 L182.5 1121.9 L180.1 1121.9 L177.8 1121.9 L175.4 1121.9 L173.0 1121.9 L170.7 1121.9 L168.3 1121.7 L165.9 1121.4 L163.6 1120.5 L161.2 1116.7 Z" fill="#000" fill-opacity="0.060" filter="url(#b2)"/>
<path d="M162.7 1116.7 L164.8 1114.3 L167.0 1113.8 L169.2 1113.6 L171.3 1113.5 L173.4 1113.5 L175.6 1113.5 L177.8 1113.5 L179.9 1113.5 L182.1 1113.5 L184.2 1113.5 L186.3 1113.6 L188.5 1113.8 L190.7 1114.3 L192.8 1116.7 L192.8 1116.7 L190.7 1119.1 L188.5 1119.6 L186.3 1119.8 L184.2 1119.9 L182.1 1119.9 L179.9 1119.9 L177.8 1119.9 L175.6 1119.9 L173.4 1119.9 L171.3 1119.9 L169.2 1119.8 L167.0 1119.6 L164.8 1119.1 L162.7 1116.7 Z" fill="#000" fill-opacity="0.3" filter="url(#b1)"/>
<path d="M202.1 1117.5 L204.9 1113.7 L207.8 1112.8 L210.6 1112.5 L213.4 1112.3 L216.2 1112.3 L219.1 1112.3 L221.9 1112.3 L224.7 1112.3 L227.6 1112.3 L230.4 1112.3 L233.2 1112.5 L236.0 1112.8 L238.9 1113.7 L241.7 1117.5 L241.7 1117.5 L238.9 1121.3 L236.0 1122.2 L233.2 1122.5 L230.4 1122.7 L227.6 1122.7 L224.7 1122.7 L221.9 1122.7 L219.1 1122.7 L216.2 1122.7 L213.4 1122.7 L210.6 1122.5 L207.8 1122.2 L204.9 1121.3 L202.1 1117.5 Z" fill="#000" fill-opacity="0.036" filter="url(#b2)"/>
<path d="M203.6 1117.5 L206.2 1115.1 L208.8 1114.6 L211.4 1114.4 L214.1 1114.3 L216.7 1114.3 L219.3 1114.3 L221.9 1114.3 L224.5 1114.3 L227.1 1114.3 L229.7 1114.3 L232.4 1114.4 L235.0 1114.6 L237.6 1115.1 L240.2 1117.5 L240.2 1117.5 L237.6 1119.9 L235.0 1120.4 L232.4 1120.6 L229.7 1120.7 L227.1 1120.7 L224.5 1120.7 L221.9 1120.7 L219.3 1120.7 L216.7 1120.7 L214.1 1120.7 L211.4 1120.6 L208.8 1120.4 L206.2 1119.9 L203.6 1117.5 Z" fill="#000" fill-opacity="0.18" filter="url(#b1)"/>
</g>
<rect x="63.7" y="1135.7" width="180.4" height="29.2" fill="url(#bg)" stroke="#707070" stroke-width="1.25"/>
<g clip-path="none">
<path d="M71.9 1141.0 L74.6 1138.5 L77.3 1137.9 L80.1 1137.7 L82.8 1137.6 L85.5 1137.6 L88.2 1137.6 L91.0 1137.5 L93.7 1137.6 L96.4 1137.6 L99.1 1137.6 L101.8 1137.7 L104.6 1137.9 L107.3 1138.5 L110.0 1141.0 L110.0 1141.0 L107.3 1143.5 L104.6 1144.1 L101.8 1144.3 L99.1 1144.4 L96.4 1144.4 L93.7 1144.4 L91.0 1144.5 L88.2 1144.4 L85.5 1144.4 L82.8 1144.4 L80.1 1144.3 L77.3 1144.1 L74.6 1143.5 L71.9 1141.0 Z" fill="#000" fill-opacity="0.050" filter="url(#b2)"/>
<path d="M73.4 1141.0 L75.9 1140.0 L78.4 1139.8 L80.9 1139.7 L83.4 1139.7 L85.9 1139.7 L88.4 1139.7 L91.0 1139.7 L93.5 1139.7 L96.0 1139.7 L98.5 1139.7 L101.0 1139.7 L103.5 1139.8 L106.0 1140.0 L108.5 1141.0 L108.5 1141.0 L106.0 1142.0 L103.5 1142.2 L101.0 1142.3 L98.5 1142.3 L96.0 1142.3 L93.5 1142.3 L91.0 1142.3 L88.4 1142.3 L85.9 1142.3 L83.4 1142.3 L80.9 1142.3 L78.4 1142.2 L75.9 1142.0 L73.4 1141.0 Z" fill="#000" fill-opacity="0.25" filter="url(#b1)"/>
<path d="M71.9 1150.1 L74.6 1147.4 L77.3 1146.8 L80.1 1146.5 L82.8 1146.4 L85.5 1146.4 L88.2 1146.4 L91.0 1146.4 L93.7 1146.4 L96.4 1146.4 L99.1 1146.4 L101.8 1146.5 L104.6 1146.8 L107.3 1147.4 L110.0 1150.1 L110.0 1150.1 L107.3 1152.8 L104.6 1153.4 L101.8 1153.7 L99.1 1153.8 L96.4 1153.8 L93.7 1153.8 L91.0 1153.8 L88.2 1153.8 L85.5 1153.8 L82.8 1153.8 L80.1 1153.7 L77.3 1153.4 L74.6 1152.8 L71.9 1150.1 Z" fill="#000" fill-opacity="0.150" filter="url(#b2)"/>
<path d="M73.4 1150.1 L75.9 1148.9 L78.4 1148.6 L80.9 1148.5 L83.4 1148.5 L85.9 1148.5 L88.4 1148.5 L91.0 1148.5 L93.5 1148.5 L96.0 1148.5 L98.5 1148.5 L101.0 1148.5 L103.5 1148.6 L106.0 1148.9 L108.5 1150.1 L108.5 1150.1 L106.0 1151.3 L103.5 1151.6 L101.0 1151.7 L98.5 1151.7 L96.0 1151.7 L93.5 1151.7 L91.0 1151.7 L88.4 1151.7 L85.9 1151.7 L83.4 1151.7 L80.9 1151.7 L78.4 1151.6 L75.9 1151.3 L73.4 1150.1 Z" fill="#000" fill-opacity="0.75" filter="url(#b1)"/>
<path d="M114.3 1141.0 L117.1 1138.5 L120.0 1137.9 L122.8 1137.7 L125.6 1137.6 L128.4 1137.6 L131.3 1137.6 L134.1 1137.5 L136.9 1137.6 L139.8 1137.6 L142.6 1137.6 L145.4 1137.7 L148.2 1137.9 L151.1 1138.5 L153.9 1141.0 L153.9 1141.0 L151.1 1143.5 L148.2 1144.1 L145.4 1144.3 L142.6 1144.4 L139.8 1144.4 L136.9 1144.4 L134.1 1144.5 L131.3 1144.4 L128.4 1144.4 L125.6 1144.4 L122.8 1144.3 L120.0 1144.1 L117.1 1143.5 L114.3 1141.0 Z" fill="#000" fill-opacity="0.040" filter="url(#b2)"/>
<path d="M115.8 1141.0 L118.4 1140.0 L121.0 1139.8 L123.6 1139.7 L126.3 1139.7 L128.9 1139.7 L131.5 1139.7 L134.1 1139.7 L136.7 1139.7 L139.3 1139.7 L141.9 1139.7 L144.6 1139.7 L147.2 1139.8 L149.8 1140.0 L152.4 1141.0 L152.4 1141.0 L149.8 1142.0 L147.2 1142.2 L144.6 1142.3 L141.9 1142.3 L139.3 1142.3 L136.7 1142.3 L134.1 1142.3 L131.5 1142.3 L128.9 1142.3 L126.3 1142.3 L123.6 1142.3 L121.0 1142.2 L118.4 1142.0 L115.8 1141.0 Z" fill="#000" fill-opacity="0.2" filter="url(#b1)"/>
<path d="M114.3 1151.0 L117.1 1148.3 L120.0 1147.7 L122.8 1147.4 L125.6 1147.3 L128.4 1147.3 L131.3 1147.3 L134.1 1147.3 L136.9 1147.3 L139.8 1147.3 L142.6 1147.3 L145.4 1147.4 L148.2 1147.7 L151.1 1148.3 L153.9 1151.0 L153.9 1151.0 L151.1 1153.7 L148.2 1154.3 L145.4 1154.6 L142.6 1154.7 L139.8 1154.7 L136.9 1154.7 L134.1 1154.7 L131.3 1154.7 L128.4 1154.7 L125.6 1154.7 L122.8 1154.6 L120.0 1154.3 L117.1 1153.7 L114.3 1151.0 Z" fill="#000" fill-opacity="0.130" filter="url(#b2)"/>
<path d="M115.8 1151.0 L118.4 1149.8 L121.0 1149.5 L123.6 1149.4 L126.3 1149.4 L128.9 1149.4 L131.5 1149.4 L134.1 1149.4 L136.7 1149.4 L139.3 1149.4 L141.9 1149.4 L144.6 1149.4 L147.2 1149.5 L149.8 1149.8 L152.4 1151.0 L152.4 1151.0 L149.8 1152.2 L147.2 1152.5 L144.6 1152.6 L141.9 1152.6 L139.3 1152.6 L136.7 1152.6 L134.1 1152.6 L131.5 1152.6 L128.9 1152.6 L126.3 1152.6 L123.6 1152.6 L121.0 1152.5 L118.4 1152.2 L115.8 1151.0 Z" fill="#000" fill-opacity="0.65" filter="url(#b1)"/>
<path d="M158.2 1141.7 L161.0 1139.0 L163.9 1138.4 L166.7 1138.1 L169.5 1138.0 L172.3 1138.0 L175.2 1138.0 L178.0 1138.0 L180.8 1138.0 L183.7 1138.0 L186.5 1138.0 L189.3 1138.1 L192.1 1138.4 L195.0 1139.0 L197.8 1141.7 L197.8 1141.7 L195.0 1144.4 L192.1 1145.0 L189.3 1145.3 L186.5 1145.4 L183.7 1145.4 L180.8 1145.4 L178.0 1145.4 L175.2 1145.4 L172.3 1145.4 L169.5 1145.4 L166.7 1145.3 L163.9 1145.0 L161.0 1144.4 L158.2 1141.7 Z" fill="#000" fill-opacity="0.110" filter="url(#b2)"/>
<path d="M159.7 1141.7 L162.3 1140.5 L164.9 1140.2 L167.5 1140.1 L170.2 1140.1 L172.8 1140.1 L175.4 1140.1 L178.0 1140.1 L180.6 1140.1 L183.2 1140.1 L185.8 1140.1 L188.5 1140.1 L191.1 1140.2 L193.7 1140.5 L196.3 1141.7 L196.3 1141.7 L193.7 1142.9 L191.1 1143.2 L188.5 1143.3 L185.8 1143.3 L183.2 1143.3 L180.6 1143.3 L178.0 1143.3 L175.4 1143.3 L172.8 1143.3 L170.2 1143.3 L167.5 1143.3 L164.9 1143.2 L162.3 1142.9 L159.7 1141.7 Z" fill="#000" fill-opacity="0.55" filter="url(#b1)"/>
<path d="M158.2 1151.6 L161.0 1148.5 L163.9 1147.8 L166.7 1147.5 L169.5 1147.4 L172.3 1147.4 L175.2 1147.4 L178.0 1147.4 L180.8 1147.4 L183.7 1147.4 L186.5 1147.4 L189.3 1147.5 L192.1 1147.8 L195.0 1148.5 L197.8 1151.6 L197.8 1151.6 L195.0 1154.7 L192.1 1155.4 L189.3 1155.7 L186.5 1155.8 L183.7 1155.8 L180.8 1155.8 L178.0 1155.8 L175.2 1155.8 L172.3 1155.8 L169.5 1155.8 L166.7 1155.7 L163.9 1155.4 L161.0 1154.7 L158.2 1151.6 Z" fill="#000" fill-opacity="0.190" filter="url(#b2)"/>
<path d="M159.7 1151.6 L162.3 1150.0 L164.9 1149.7 L167.5 1149.5 L170.2 1149.5 L172.8 1149.4 L175.4 1149.4 L178.0 1149.4 L180.6 1149.4 L183.2 1149.4 L185.8 1149.5 L188.5 1149.5 L191.1 1149.7 L193.7 1150.0 L196.3 1151.6 L196.3 1151.6 L193.7 1153.2 L191.1 1153.5 L188.5 1153.7 L185.8 1153.7 L183.2 1153.8 L180.6 1153.8 L178.0 1153.8 L175.4 1153.8 L172.8 1153.8 L170.2 1153.7 L167.5 1153.7 L164.9 1153.5 L162.3 1153.2 L159.7 1151.6 Z" fill="#000" fill-opacity="0.95" filter="url(#b1)"/>
<path d="M200.1 1142.2 L203.0 1139.5 L205.8 1138.9 L208.7 1138.6 L211.6 1138.5 L214.5 1138.5 L217.3 1138.5 L220.2 1138.5 L223.1 1138.5 L225.9 1138.5 L228.8 1138.5 L231.7 1138.6 L234.6 1138.9 L237.4 1139.5 L240.3 1142.2 L240.3 1142.2 L237.4 1144.9 L234.6 1145.5 L231.7 1145.8 L228.8 1145.9 L225.9 1145.9 L223.1 1145.9 L220.2 1145.9 L217.3 1145.9 L214.5 1145.9 L211.6 1145.9 L208.7 1145.8 L205.8 1145.5 L203.0 1144.9 L200.1 1142.2 Z" fill="#000" fill-opacity="0.100" filter="url(#b2)"/>
<path d="M201.6 1142.2 L204.3 1141.0 L206.9 1140.7 L209.6 1140.6 L212.2 1140.6 L214.9 1140.6 L217.5 1140.6 L220.2 1140.6 L222.9 1140.6 L225.5 1140.6 L228.2 1140.6 L230.8 1140.6 L233.5 1140.7 L236.1 1141.0 L238.8 1142.2 L238.8 1142.2 L236.1 1143.4 L233.5 1143.7 L230.8 1143.8 L228.2 1143.8 L225.5 1143.8 L222.9 1143.8 L220.2 1143.8 L217.5 1143.8 L214.9 1143.8 L212.2 1143.8 L209.6 1143.8 L206.9 1143.7 L204.3 1143.4 L201.6 1142.2 Z" fill="#000" fill-opacity="0.5" filter="url(#b1)"/>
<path d="M200.1 1152.8 L203.0 1149.7 L205.8 1149.0 L208.7 1148.7 L211.6 1148.6 L214.5 1148.6 L217.3 1148.6 L220.2 1148.6 L223.1 1148.6 L225.9 1148.6 L228.8 1148.6 L231.7 1148.7 L234.6 1149.0 L237.4 1149.7 L240.3 1152.8 L240.3 1152.8 L237.4 1155.9 L234.6 1156.6 L231.7 1156.9 L228.8 1157.0 L225.9 1157.0 L223.1 1157.0 L220.2 1157.0 L217.3 1157.0 L214.5 1157.0 L211.6 1157.0 L208.7 1156.9 L205.8 1156.6 L203.0 1155.9 L200.1 1152.8 Z" fill="#000" fill-opacity="0.190" filter="url(#b2)"/>
<path d="M201.6 1152.8 L204.3 1151.2 L206.9 1150.9 L209.6 1150.7 L212.2 1150.7 L214.9 1150.6 L217.5 1150.6 L220.2 1150.6 L222.9 1150.6 L225.5 1150.6 L228.2 1150.7 L230.8 1150.7 L233.5 1150.9 L236.1 1151.2 L238.8 1152.8 L238.8 1152.8 L236.1 1154.4 L233.5 1154.7 L230.8 1154.9 L228.2 1154.9 L225.5 1155.0 L222.9 1155.0 L220.2 1155.0 L217.5 1155.0 L214.9 1155.0 L212.2 1154.9 L209.6 1154.9 L206.9 1154.7 L204.3 1154.4 L201.6 1152.8 Z" fill="#000" fill-opacity="0.95" filter="url(#b1)"/>
</g>
<rect x="62.8" y="1173.2" width="183.4" height="31.2" fill="url(#bg)" stroke="#707070" stroke-width="1.25"/>
<g clip-path="none">
<path d="M67.5 1189.0 L69.9 1185.6 L72.4 1184.8 L74.8 1184.4 L77.2 1184.3 L79.6 1184.3 L82.1 1184.3 L84.5 1184.3 L86.9 1184.3 L89.4 1184.3 L91.8 1184.3 L94.2 1184.4 L96.6 1184.8 L99.1 1185.6 L101.5 1189.0 L101.5 1189.0 L99.1 1192.4 L96.6 1193.2 L94.2 1193.6 L91.8 1193.7 L89.4 1193.7 L86.9 1193.7 L84.5 1193.7 L82.1 1193.7 L79.6 1193.7 L77.2 1193.7 L74.8 1193.6 L72.4 1193.2 L69.9 1192.4 L67.5 1189.0 Z" fill="#000" fill-opacity="0.090" filter="url(#b2)"/>
<path d="M69.0 1189.0 L71.2 1187.0 L73.4 1186.6 L75.6 1186.4 L77.9 1186.3 L80.1 1186.3 L82.3 1186.3 L84.5 1186.3 L86.7 1186.3 L88.9 1186.3 L91.1 1186.3 L93.4 1186.4 L95.6 1186.6 L97.8 1187.0 L100.0 1189.0 L100.0 1189.0 L97.8 1191.0 L95.6 1191.4 L93.4 1191.6 L91.1 1191.7 L88.9 1191.7 L86.7 1191.7 L84.5 1191.7 L82.3 1191.7 L80.1 1191.7 L77.9 1191.7 L75.6 1191.6 L73.4 1191.4 L71.2 1191.0 L69.0 1189.0 Z" fill="#000" fill-opacity="0.45" filter="url(#b1)"/>
<path d="M95.5 1188.5 L96.4 1185.1 L97.4 1184.3 L98.3 1183.9 L99.2 1183.8 L100.1 1183.8 L101.1 1183.8 L102.0 1183.8 L102.9 1183.8 L103.9 1183.8 L104.8 1183.8 L105.7 1183.9 L106.6 1184.3 L107.6 1185.1 L108.5 1188.5 L108.5 1188.5 L107.6 1191.9 L106.6 1192.7 L105.7 1193.1 L104.8 1193.2 L103.9 1193.2 L102.9 1193.2 L102.0 1193.2 L101.1 1193.2 L100.1 1193.2 L99.2 1193.2 L98.3 1193.1 L97.4 1192.7 L96.4 1191.9 L95.5 1188.5 Z" fill="#000" fill-opacity="0.190" filter="url(#b2)"/>
<path d="M97.0 1188.5 L97.7 1186.5 L98.4 1186.1 L99.1 1185.9 L99.9 1185.8 L100.6 1185.8 L101.3 1185.8 L102.0 1185.8 L102.7 1185.8 L103.4 1185.8 L104.1 1185.8 L104.9 1185.9 L105.6 1186.1 L106.3 1186.5 L107.0 1188.5 L107.0 1188.5 L106.3 1190.5 L105.6 1190.9 L104.9 1191.1 L104.1 1191.2 L103.4 1191.2 L102.7 1191.2 L102.0 1191.2 L101.3 1191.2 L100.6 1191.2 L99.9 1191.2 L99.1 1191.1 L98.4 1190.9 L97.7 1190.5 L97.0 1188.5 Z" fill="#000" fill-opacity="0.95" filter="url(#b1)"/>
<path d="M111.5 1186.7 L114.6 1180.0 L117.8 1178.4 L120.9 1177.8 L124.0 1177.6 L127.2 1177.5 L130.3 1177.5 L133.4 1177.5 L136.6 1177.5 L139.7 1177.5 L142.9 1177.6 L146.0 1177.8 L149.1 1178.4 L152.3 1180.0 L155.4 1186.7 L155.4 1186.7 L152.3 1193.4 L149.1 1195.0 L146.0 1195.6 L142.9 1195.8 L139.7 1195.9 L136.6 1195.9 L133.4 1195.9 L130.3 1195.9 L127.2 1195.9 L124.0 1195.8 L120.9 1195.6 L117.8 1195.0 L114.6 1193.4 L111.5 1186.7 Z" fill="#000" fill-opacity="0.200" filter="url(#b2)"/>
<path d="M113.0 1186.7 L115.9 1181.2 L118.8 1179.9 L121.8 1179.4 L124.7 1179.2 L127.6 1179.1 L130.5 1179.1 L133.4 1179.1 L136.4 1179.1 L139.3 1179.1 L142.2 1179.2 L145.1 1179.4 L148.1 1179.9 L151.0 1181.2 L153.9 1186.7 L153.9 1186.7 L151.0 1192.2 L148.1 1193.5 L145.1 1194.0 L142.2 1194.2 L139.3 1194.3 L136.4 1194.3 L133.4 1194.3 L130.5 1194.3 L127.6 1194.3 L124.7 1194.2 L121.8 1194.0 L118.8 1193.5 L115.9 1192.2 L113.0 1186.7 Z" fill="#000" fill-opacity="1" filter="url(#b1)"/>
<path d="M159.1 1187.9 L161.7 1183.7 L164.2 1182.8 L166.8 1182.4 L169.3 1182.2 L171.9 1182.2 L174.4 1182.2 L177.0 1182.2 L179.6 1182.2 L182.1 1182.2 L184.7 1182.2 L187.2 1182.4 L189.8 1182.8 L192.3 1183.7 L194.9 1187.9 L194.9 1187.9 L192.3 1192.1 L189.8 1193.0 L187.2 1193.4 L184.7 1193.6 L182.1 1193.6 L179.6 1193.6 L177.0 1193.6 L174.4 1193.6 L171.9 1193.6 L169.3 1193.6 L166.8 1193.4 L164.2 1193.0 L161.7 1192.1 L159.1 1187.9 Z" fill="#000" fill-opacity="0.036" filter="url(#b2)"/>
<path d="M160.6 1187.9 L162.9 1185.1 L165.3 1184.5 L167.6 1184.2 L170.0 1184.1 L172.3 1184.1 L174.7 1184.1 L177.0 1184.1 L179.3 1184.1 L181.7 1184.1 L184.0 1184.1 L186.4 1184.2 L188.7 1184.5 L191.1 1185.1 L193.4 1187.9 L193.4 1187.9 L191.1 1190.7 L188.7 1191.3 L186.4 1191.6 L184.0 1191.7 L181.7 1191.7 L179.3 1191.7 L177.0 1191.7 L174.7 1191.7 L172.3 1191.7 L170.0 1191.7 L167.6 1191.6 L165.3 1191.3 L162.9 1190.7 L160.6 1187.9 Z" fill="#000" fill-opacity="0.18" filter="url(#b1)"/>
<path d="M200.7 1189.7 L203.5 1185.5 L206.4 1184.6 L209.2 1184.2 L212.0 1184.0 L214.8 1184.0 L217.7 1184.0 L220.5 1184.0 L223.3 1184.0 L226.2 1184.0 L229.0 1184.0 L231.8 1184.2 L234.6 1184.6 L237.5 1185.5 L240.3 1189.7 L240.3 1189.7 L237.5 1193.9 L234.6 1194.8 L231.8 1195.2 L229.0 1195.4 L226.2 1195.4 L223.3 1195.4 L220.5 1195.4 L217.7 1195.4 L214.8 1195.4 L212.0 1195.4 L209.2 1195.2 L206.4 1194.8 L203.5 1193.9 L200.7 1189.7 Z" fill="#000" fill-opacity="0.034" filter="url(#b2)"/>
<path d="M202.2 1189.7 L204.8 1186.9 L207.4 1186.3 L210.0 1186.0 L212.7 1185.9 L215.3 1185.9 L217.9 1185.9 L220.5 1185.9 L223.1 1185.9 L225.7 1185.9 L228.3 1185.9 L231.0 1186.0 L233.6 1186.3 L236.2 1186.9 L238.8 1189.7 L238.8 1189.7 L236.2 1192.5 L233.6 1193.1 L231.0 1193.4 L228.3 1193.5 L225.7 1193.5 L223.1 1193.5 L220.5 1193.5 L217.9 1193.5 L215.3 1193.5 L212.7 1193.5 L210.0 1193.4 L207.4 1193.1 L204.8 1192.5 L202.2 1189.7 Z" fill="#000" fill-opacity="0.17" filter="url(#b1)"/>
</g>
<rect x="62.2" y="1209.8" width="184.0" height="29.7" fill="url(#bg)" stroke="#707070" stroke-width="1.25"/>
<g clip-path="none">
<path d="M69.5 1223.9 L72.4 1220.1 L75.3 1219.2 L78.2 1218.9 L81.1 1218.7 L84.0 1218.7 L86.9 1218.7 L89.8 1218.7 L92.6 1218.7 L95.5 1218.7 L98.4 1218.7 L101.3 1218.9 L104.2 1219.2 L107.1 1220.1 L110.0 1223.9 L110.0 1223.9 L107.1 1227.7 L104.2 1228.6 L101.3 1228.9 L98.4 1229.1 L95.5 1229.1 L92.6 1229.1 L89.8 1229.1 L86.9 1229.1 L84.0 1229.1 L81.1 1229.1 L78.2 1228.9 L75.3 1228.6 L72.4 1227.7 L69.5 1223.9 Z" fill="#000" fill-opacity="0.200" filter="url(#b2)"/>
<path d="M71.0 1223.9 L73.7 1221.5 L76.4 1221.0 L79.0 1220.8 L81.7 1220.7 L84.4 1220.7 L87.1 1220.7 L89.8 1220.7 L92.4 1220.7 L95.1 1220.7 L97.8 1220.7 L100.5 1220.8 L103.1 1221.0 L105.8 1221.5 L108.5 1223.9 L108.5 1223.9 L105.8 1226.3 L103.1 1226.8 L100.5 1227.0 L97.8 1227.1 L95.1 1227.1 L92.4 1227.1 L89.8 1227.1 L87.1 1227.1 L84.4 1227.1 L81.7 1227.1 L79.0 1227.0 L76.4 1226.8 L73.7 1226.3 L71.0 1223.9 Z" fill="#000" fill-opacity="1" filter="url(#b1)"/>
<path d="M117.3 1224.8 L119.9 1221.0 L122.5 1220.1 L125.1 1219.8 L127.8 1219.6 L130.4 1219.6 L133.0 1219.6 L135.6 1219.6 L138.2 1219.6 L140.8 1219.6 L143.4 1219.6 L146.1 1219.8 L148.7 1220.1 L151.3 1221.0 L153.9 1224.8 L153.9 1224.8 L151.3 1228.6 L148.7 1229.5 L146.1 1229.8 L143.4 1230.0 L140.8 1230.0 L138.2 1230.0 L135.6 1230.0 L133.0 1230.0 L130.4 1230.0 L127.8 1230.0 L125.1 1229.8 L122.5 1229.5 L119.9 1228.6 L117.3 1224.8 Z" fill="#000" fill-opacity="0.200" filter="url(#b2)"/>
<path d="M118.8 1224.8 L121.2 1222.4 L123.6 1221.9 L126.0 1221.7 L128.4 1221.6 L130.8 1221.6 L133.2 1221.6 L135.6 1221.6 L138.0 1221.6 L140.4 1221.6 L142.8 1221.6 L145.2 1221.7 L147.6 1221.9 L150.0 1222.4 L152.4 1224.8 L152.4 1224.8 L150.0 1227.2 L147.6 1227.7 L145.2 1227.9 L142.8 1228.0 L140.4 1228.0 L138.0 1228.0 L135.6 1228.0 L133.2 1228.0 L130.8 1228.0 L128.4 1228.0 L126.0 1227.9 L123.6 1227.7 L121.2 1227.2 L118.8 1224.8 Z" fill="#000" fill-opacity="1" filter="url(#b1)"/>
<path d="M161.2 1226.0 L163.6 1222.2 L166.0 1221.3 L168.4 1221.0 L170.8 1220.8 L173.2 1220.8 L175.6 1220.8 L178.1 1220.8 L180.5 1220.8 L182.9 1220.8 L185.3 1220.8 L187.7 1221.0 L190.1 1221.3 L192.5 1222.2 L194.9 1226.0 L194.9 1226.0 L192.5 1229.8 L190.1 1230.7 L187.7 1231.0 L185.3 1231.2 L182.9 1231.2 L180.5 1231.2 L178.1 1231.2 L175.6 1231.2 L173.2 1231.2 L170.8 1231.2 L168.4 1231.0 L166.0 1230.7 L163.6 1229.8 L161.2 1226.0 Z" fill="#000" fill-opacity="0.200" filter="url(#b2)"/>
<path d="M162.7 1226.0 L164.9 1223.6 L167.1 1223.1 L169.3 1222.9 L171.5 1222.8 L173.7 1222.8 L175.9 1222.8 L178.1 1222.8 L180.2 1222.8 L182.4 1222.8 L184.6 1222.8 L186.8 1222.9 L189.0 1223.1 L191.2 1223.6 L193.4 1226.0 L193.4 1226.0 L191.2 1228.4 L189.0 1228.9 L186.8 1229.1 L184.6 1229.2 L182.4 1229.2 L180.2 1229.2 L178.1 1229.2 L175.9 1229.2 L173.7 1229.2 L171.5 1229.2 L169.3 1229.1 L167.1 1228.9 L164.9 1228.4 L162.7 1226.0 Z" fill="#000" fill-opacity="1" filter="url(#b1)"/>
<path d="M203.5 1226.8 L206.0 1223.0 L208.5 1222.1 L211.1 1221.8 L213.6 1221.6 L216.1 1221.6 L218.6 1221.6 L221.2 1221.6 L223.7 1221.6 L226.2 1221.6 L228.7 1221.6 L231.2 1221.8 L233.8 1222.1 L236.3 1223.0 L238.8 1226.8 L238.8 1226.8 L236.3 1230.6 L233.8 1231.5 L231.2 1231.8 L228.7 1232.0 L226.2 1232.0 L223.7 1232.0 L221.2 1232.0 L218.6 1232.0 L216.1 1232.0 L213.6 1232.0 L211.1 1231.8 L208.5 1231.5 L206.0 1230.6 L203.5 1226.8 Z" fill="#000" fill-opacity="0.200" filter="url(#b2)"/>
<path d="M205.0 1226.8 L207.3 1224.4 L209.6 1223.9 L211.9 1223.7 L214.2 1223.6 L216.5 1223.6 L218.8 1223.6 L221.2 1223.6 L223.5 1223.6 L225.8 1223.6 L228.1 1223.6 L230.4 1223.7 L232.7 1223.9 L235.0 1224.4 L237.3 1226.8 L237.3 1226.8 L235.0 1229.2 L232.7 1229.7 L230.4 1229.9 L228.1 1230.0 L225.8 1230.0 L223.5 1230.0 L221.2 1230.0 L218.8 1230.0 L216.5 1230.0 L214.2 1230.0 L211.9 1229.9 L209.6 1229.7 L207.3 1229.2 L205.0 1226.8 Z" fill="#000" fill-opacity="1" filter="url(#b1)"/>
</g>
<text transform="translate(4,936.6) scale(1,0.99)" font-size="13.3" font-family="'Liberation Serif', serif" font-weight="normal" text-anchor="start" textLength="38.5" lengthAdjust="spacingAndGlyphs" >68KDa</text>
<text transform="translate(4,972.8) scale(1,0.99)" font-size="13.3" font-family="'Liberation Serif', serif" font-weight="normal" text-anchor="start" textLength="38.5" lengthAdjust="spacingAndGlyphs" >37KDa</text>
<text transform="translate(4,1009) scale(1,0.99)" font-size="13.3" font-family="'Liberation Serif', serif" font-weight="normal" text-anchor="start" textLength="38.5" lengthAdjust="spacingAndGlyphs" >43KDa</text>
<text transform="translate(4,1041.9) scale(1,0.99)" font-size="13.3" font-family="'Liberation Serif', serif" font-weight="normal" text-anchor="start" textLength="38.5" lengthAdjust="spacingAndGlyphs" >48KDa</text>
<text transform="translate(4,1078.1) scale(1,0.99)" font-size="13.3" font-family="'Liberation Serif', serif" font-weight="normal" text-anchor="start" textLength="38.5" lengthAdjust="spacingAndGlyphs" >50KDa</text>
<text transform="translate(4,1118.2) scale(1,0.99)" font-size="13.3" font-family="'Liberation Serif', serif" font-weight="normal" text-anchor="start" textLength="38.5" lengthAdjust="spacingAndGlyphs" >54KDa</text>
<text transform="translate(4,1155.2) scale(1,0.99)" font-size="13.3" font-family="'Liberation Serif', serif" font-weight="normal" text-anchor="start" textLength="38.5" lengthAdjust="spacingAndGlyphs" >65KDa</text>
<text transform="translate(4,1190.6) scale(1,0.99)" font-size="13.3" font-family="'Liberation Serif', serif" font-weight="normal" text-anchor="start" textLength="38.5" lengthAdjust="spacingAndGlyphs" >65KDa</text>
<text transform="translate(4,1223.4) scale(1,0.99)" font-size="13.3" font-family="'Liberation Serif', serif" font-weight="normal" text-anchor="start" textLength="38.5" lengthAdjust="spacingAndGlyphs" >43KDa</text>
<text transform="translate(257,936) scale(1,1.05)" font-size="13.2" font-family="'Liberation Serif', serif" font-weight="normal" text-anchor="start" >Nrf2</text>
<text transform="translate(257,972.7) scale(1,1.05)" font-size="13.2" font-family="'Liberation Serif', serif" font-weight="normal" text-anchor="start" >RFC4</text>
<text transform="translate(257,1011.7) scale(1,1.05)" font-size="13.2" font-family="'Liberation Serif', serif" font-weight="normal" text-anchor="start" >c-Jun</text>
<text transform="translate(257,1048.4) scale(1,1.05)" font-size="13.2" font-family="'Liberation Serif', serif" font-weight="normal" text-anchor="start" >p-c-Jun</text>
<text transform="translate(257,1080.9) scale(1,1.05)" font-size="13.2" font-family="'Liberation Serif', serif" font-weight="normal" text-anchor="start" >JNK</text>
<text transform="translate(257,1117.6) scale(1,1.05)" font-size="13.2" font-family="'Liberation Serif', serif" font-weight="normal" text-anchor="start" >p-JNK</text>
<text transform="translate(257,1152.4) scale(1,1.05)" font-size="13.2" font-family="'Liberation Serif', serif" font-weight="normal" text-anchor="start" >p65</text>
<text transform="translate(257,1191) scale(1,1.05)" font-size="13.2" font-family="'Liberation Serif', serif" font-weight="normal" text-anchor="start" >p-p65</text>
<text transform="translate(257,1224.1) scale(1,1.05)" font-size="13.2" font-family="'Liberation Serif', serif" font-weight="normal" text-anchor="start" >β-actin</text>
<line x1="80.7" y1="1248.8" x2="90.89999999999999" y2="1248.8" stroke="#000" stroke-width="1.9"/>
<line x1="126.70000000000002" y1="1248.8" x2="136.9" y2="1248.8" stroke="#000" stroke-width="1.9"/>
<line x1="172.2" y1="1247.3" x2="183.2" y2="1247.3" stroke="#000" stroke-width="1.5"/>
<line x1="177.7" y1="1241.8" x2="177.7" y2="1252.8" stroke="#000" stroke-width="1.5"/>
<line x1="211.0" y1="1247.3" x2="222.0" y2="1247.3" stroke="#000" stroke-width="1.5"/>
<line x1="216.5" y1="1241.8" x2="216.5" y2="1252.8" stroke="#000" stroke-width="1.5"/>
<text transform="translate(267.7,1254.7) scale(1,1.0)" font-size="13.6" font-family="'Liberation Serif', serif" font-weight="normal" text-anchor="start" textLength="48" lengthAdjust="spacingAndGlyphs" >SC75741</text>
<path d="M328.3 1245.1 C324.0 1247.9 324.0 1252.0 328.3 1254.8" fill="none" stroke="#333" stroke-width="0.9"/>
<text transform="translate(331.09999999999997,1254.7) scale(1,1.0)" font-size="13.3" font-family="'Liberation Serif', serif" font-weight="normal" text-anchor="start" textLength="18.6" lengthAdjust="spacingAndGlyphs" >μM</text>
<path d="M351.9 1245.1 C356.2 1247.9 356.2 1252.0 351.9 1254.8" fill="none" stroke="#333" stroke-width="0.9"/>
<text transform="translate(72.8,1274) scale(1,1.05)" font-size="13.2" font-family="'Liberation Serif', serif" font-weight="normal" text-anchor="start" >EV1</text>
<text transform="translate(110.2,1274) scale(1,1.05)" font-size="13.2" font-family="'Liberation Serif', serif" font-weight="normal" text-anchor="start" >L-Nrf2</text>
<text transform="translate(161.5,1274) scale(1,1.05)" font-size="13.2" font-family="'Liberation Serif', serif" font-weight="normal" text-anchor="start" >EV1</text>
<text transform="translate(201,1274) scale(1,1.05)" font-size="13.2" font-family="'Liberation Serif', serif" font-weight="normal" text-anchor="start" >L-Nrf2</text>
<text transform="translate(353.3,17) scale(1,1.1)" font-size="19.8" font-family="'Liberation Serif', serif" font-weight="normal" text-anchor="start" >B</text>
<text transform="translate(564.2,74.7) scale(1,1.1)" font-size="13.8" font-family="'Liberation Serif', serif" font-weight="normal" text-anchor="start" textLength="37.3" lengthAdjust="spacingAndGlyphs" >THP-1</text>
<rect x="455.5" y="103.89999999999999" width="14.4" height="5.4" fill="#ffffff" stroke="#000" stroke-width="1.2"/>
<rect x="613.5" y="103.89999999999999" width="14.4" height="5.4" fill="#a5a5a5" stroke="#000" stroke-width="1.2"/>
<rect x="455.5" y="128.4" width="14.4" height="5.4" fill="#636363" stroke="#000" stroke-width="1.2"/>
<rect x="613.5" y="128.4" width="14.4" height="5.4" fill="#000000" stroke="#000" stroke-width="1.2"/>
<text transform="translate(479.4,110.6) scale(1,1.05)" font-size="13" font-family="'Liberation Serif', serif" font-weight="normal" text-anchor="start" textLength="60.2" lengthAdjust="spacingAndGlyphs" >EV1+Ara-C</text>
<text transform="translate(637.6999999999999,110.6) scale(1,1.05)" font-size="13" font-family="'Liberation Serif', serif" font-weight="normal" text-anchor="start" textLength="71.3" lengthAdjust="spacingAndGlyphs" >L-Nrf2+Ara-C</text>
<text transform="translate(479.4,134.7) scale(1,1.05)" font-size="13" font-family="'Liberation Serif', serif" font-weight="normal" text-anchor="start" textLength="111.7" lengthAdjust="spacingAndGlyphs" >EV1+Ara-C+SC75741</text>
<text transform="translate(637.6999999999999,134.7) scale(1,1.05)" font-size="13" font-family="'Liberation Serif', serif" font-weight="normal" text-anchor="start" textLength="123.9" lengthAdjust="spacingAndGlyphs" >L-Nrf2+Ara-C+SC75741</text>
<line x1="387.99161" y1="290.324" x2="387.99161" y2="281.9" stroke="#000" stroke-width="1.3"/>
<path d="M386.09 281.50 L389.89 281.50 L388.69 283.30 L387.29 283.30 Z" fill="#000"/>
<rect x="385.09" y="290.32" width="5.8" height="25.58" fill="#ffffff" stroke="#000" stroke-width="1.35"/>
<line x1="398.91576" y1="238.37599999999995" x2="398.91576" y2="218.01799999999997" stroke="#000" stroke-width="1.3"/>
<path d="M397.02 217.62 L400.82 217.62 L399.62 219.42 L398.22 219.42 Z" fill="#000"/>
<rect x="396.02" y="238.38" width="5.8" height="77.52" fill="#a5a5a5" stroke="#000" stroke-width="1.35"/>
<line x1="409.78909999999996" y1="264.701" x2="409.78909999999996" y2="259.436" stroke="#000" stroke-width="1.3"/>
<path d="M407.89 259.04 L411.69 259.04 L410.49 260.84 L409.09 260.84 Z" fill="#000"/>
<rect x="406.89" y="264.70" width="5.8" height="51.20" fill="#636363" stroke="#000" stroke-width="1.35"/>
<line x1="420.71325" y1="224.33599999999998" x2="420.71325" y2="195.55399999999997" stroke="#000" stroke-width="1.3"/>
<path d="M418.81 195.15 L422.61 195.15 L421.41 196.95 L420.01 196.95 Z" fill="#000"/>
<rect x="417.81" y="224.34" width="5.8" height="91.56" fill="#000000" stroke="#000" stroke-width="1.35"/>
<line x1="404.2" y1="315.9" x2="404.2" y2="322.4" stroke="#000" stroke-width="1.8"/>
<text transform="translate(404.2,336.9) scale(1,1.1)" font-size="14" font-family="'Liberation Serif', serif" font-weight="bold" text-anchor="middle" >Nrf2</text>
<line x1="438.80161" y1="253.11799999999997" x2="438.80161" y2="240.48199999999994" stroke="#000" stroke-width="1.3"/>
<path d="M436.90 240.08 L440.70 240.08 L439.50 241.88 L438.10 241.88 Z" fill="#000"/>
<rect x="435.90" y="253.12" width="5.8" height="62.78" fill="#ffffff" stroke="#000" stroke-width="1.35"/>
<line x1="449.72576" y1="290.324" x2="449.72576" y2="284.006" stroke="#000" stroke-width="1.3"/>
<path d="M447.83 283.61 L451.63 283.61 L450.43 285.41 L449.03 285.41 Z" fill="#000"/>
<rect x="446.83" y="290.32" width="5.8" height="25.58" fill="#a5a5a5" stroke="#000" stroke-width="1.35"/>
<line x1="460.59909999999996" y1="234.86599999999996" x2="460.59909999999996" y2="223.63399999999996" stroke="#000" stroke-width="1.3"/>
<path d="M458.70 223.23 L462.50 223.23 L461.30 225.03 L459.90 225.03 Z" fill="#000"/>
<rect x="457.70" y="234.87" width="5.8" height="81.03" fill="#636363" stroke="#000" stroke-width="1.35"/>
<line x1="471.52325" y1="258.734" x2="471.52325" y2="245.396" stroke="#000" stroke-width="1.3"/>
<path d="M469.62 245.00 L473.42 245.00 L472.22 246.80 L470.82 246.80 Z" fill="#000"/>
<rect x="468.62" y="258.73" width="5.8" height="57.17" fill="#000000" stroke="#000" stroke-width="1.35"/>
<line x1="455.01" y1="315.9" x2="455.01" y2="322.4" stroke="#000" stroke-width="1.8"/>
<text transform="translate(455.01,336.9) scale(1,1.1)" font-size="14" font-family="'Liberation Serif', serif" font-weight="bold" text-anchor="middle" >RFC4</text>
<line x1="489.61161" y1="239.77999999999994" x2="489.61161" y2="222.93199999999996" stroke="#000" stroke-width="1.3"/>
<path d="M487.71 222.53 L491.51 222.53 L490.31 224.33 L488.91 224.33 Z" fill="#000"/>
<rect x="486.71" y="239.78" width="5.8" height="76.12" fill="#ffffff" stroke="#000" stroke-width="1.35"/>
<line x1="500.53576" y1="243.99199999999996" x2="500.53576" y2="222.22999999999996" stroke="#000" stroke-width="1.3"/>
<path d="M498.64 221.83 L502.44 221.83 L501.24 223.63 L499.84 223.63 Z" fill="#000"/>
<rect x="497.64" y="243.99" width="5.8" height="71.91" fill="#a5a5a5" stroke="#000" stroke-width="1.35"/>
<line x1="511.40909999999997" y1="246.79999999999998" x2="511.40909999999997" y2="229.95199999999997" stroke="#000" stroke-width="1.3"/>
<path d="M509.51 229.55 L513.31 229.55 L512.11 231.35 L510.71 231.35 Z" fill="#000"/>
<rect x="508.51" y="246.80" width="5.8" height="69.10" fill="#636363" stroke="#000" stroke-width="1.35"/>
<line x1="522.33325" y1="249.60799999999998" x2="522.33325" y2="231.35599999999997" stroke="#000" stroke-width="1.3"/>
<path d="M520.43 230.96 L524.23 230.96 L523.03 232.76 L521.63 232.76 Z" fill="#000"/>
<rect x="519.43" y="249.61" width="5.8" height="66.29" fill="#000000" stroke="#000" stroke-width="1.35"/>
<line x1="505.82" y1="315.9" x2="505.82" y2="322.4" stroke="#000" stroke-width="1.8"/>
<text transform="translate(505.82,336.9) scale(1,1.1)" font-size="14" font-family="'Liberation Serif', serif" font-weight="bold" text-anchor="middle" >c-Jun</text>
<line x1="540.42161" y1="299.45" x2="540.42161" y2="291.728" stroke="#000" stroke-width="1.3"/>
<path d="M538.52 291.33 L542.32 291.33 L541.12 293.13 L539.72 293.13 Z" fill="#000"/>
<rect x="537.52" y="299.45" width="5.8" height="16.45" fill="#ffffff" stroke="#000" stroke-width="1.35"/>
<line x1="551.34576" y1="235.56799999999996" x2="551.34576" y2="218.71999999999997" stroke="#000" stroke-width="1.3"/>
<path d="M549.45 218.32 L553.25 218.32 L552.05 220.12 L550.65 220.12 Z" fill="#000"/>
<rect x="548.45" y="235.57" width="5.8" height="80.33" fill="#a5a5a5" stroke="#000" stroke-width="1.35"/>
<line x1="562.2191" y1="301.556" x2="562.2191" y2="288.218" stroke="#000" stroke-width="1.3"/>
<path d="M560.32 287.82 L564.12 287.82 L562.92 289.62 L561.52 289.62 Z" fill="#000"/>
<rect x="559.32" y="301.56" width="5.8" height="14.34" fill="#636363" stroke="#000" stroke-width="1.35"/>
<line x1="573.14325" y1="305.768" x2="573.14325" y2="298.046" stroke="#000" stroke-width="1.3"/>
<path d="M571.24 297.65 L575.04 297.65 L573.84 299.45 L572.44 299.45 Z" fill="#000"/>
<rect x="570.24" y="305.77" width="5.8" height="10.13" fill="#000000" stroke="#000" stroke-width="1.35"/>
<line x1="556.63" y1="315.9" x2="556.63" y2="322.4" stroke="#000" stroke-width="1.8"/>
<text transform="translate(556.63,336.9) scale(1,1.1)" font-size="14" font-family="'Liberation Serif', serif" font-weight="bold" text-anchor="middle" >p-c-Jun</text>
<line x1="591.23161" y1="246.09799999999998" x2="591.23161" y2="234.16399999999996" stroke="#000" stroke-width="1.3"/>
<path d="M589.33 233.76 L593.13 233.76 L591.93 235.56 L590.53 235.56 Z" fill="#000"/>
<rect x="588.33" y="246.10" width="5.8" height="69.80" fill="#ffffff" stroke="#000" stroke-width="1.35"/>
<line x1="602.1557600000001" y1="238.37599999999995" x2="602.1557600000001" y2="220.124" stroke="#000" stroke-width="1.3"/>
<path d="M600.26 219.72 L604.06 219.72 L602.86 221.52 L601.46 221.52 Z" fill="#000"/>
<rect x="599.26" y="238.38" width="5.8" height="77.52" fill="#a5a5a5" stroke="#000" stroke-width="1.35"/>
<line x1="613.0291000000001" y1="250.30999999999997" x2="613.0291000000001" y2="238.37599999999995" stroke="#000" stroke-width="1.3"/>
<path d="M611.13 237.98 L614.93 237.98 L613.73 239.78 L612.33 239.78 Z" fill="#000"/>
<rect x="610.13" y="250.31" width="5.8" height="65.59" fill="#636363" stroke="#000" stroke-width="1.35"/>
<line x1="623.95325" y1="254.52199999999996" x2="623.95325" y2="236.97199999999998" stroke="#000" stroke-width="1.3"/>
<path d="M622.05 236.57 L625.85 236.57 L624.65 238.37 L623.25 238.37 Z" fill="#000"/>
<rect x="621.05" y="254.52" width="5.8" height="61.38" fill="#000000" stroke="#000" stroke-width="1.35"/>
<line x1="607.44" y1="315.9" x2="607.44" y2="322.4" stroke="#000" stroke-width="1.8"/>
<text transform="translate(607.44,336.9) scale(1,1.1)" font-size="14" font-family="'Liberation Serif', serif" font-weight="bold" text-anchor="middle" >JNK</text>
<line x1="642.04161" y1="267.158" x2="642.04161" y2="256.628" stroke="#000" stroke-width="1.3"/>
<path d="M640.14 256.23 L643.94 256.23 L642.74 258.03 L641.34 258.03 Z" fill="#000"/>
<rect x="639.14" y="267.16" width="5.8" height="48.74" fill="#ffffff" stroke="#000" stroke-width="1.35"/>
<line x1="652.96576" y1="206.08399999999997" x2="652.96576" y2="187.12999999999997" stroke="#000" stroke-width="1.3"/>
<path d="M651.07 186.73 L654.87 186.73 L653.67 188.53 L652.27 188.53 Z" fill="#000"/>
<rect x="650.07" y="206.08" width="5.8" height="109.82" fill="#a5a5a5" stroke="#000" stroke-width="1.35"/>
<line x1="663.8391" y1="304.364" x2="663.8391" y2="295.94" stroke="#000" stroke-width="1.3"/>
<path d="M661.94 295.54 L665.74 295.54 L664.54 297.34 L663.14 297.34 Z" fill="#000"/>
<rect x="660.94" y="304.36" width="5.8" height="11.54" fill="#636363" stroke="#000" stroke-width="1.35"/>
<line x1="674.76325" y1="300.152" x2="674.76325" y2="287.516" stroke="#000" stroke-width="1.3"/>
<path d="M672.86 287.12 L676.66 287.12 L675.46 288.92 L674.06 288.92 Z" fill="#000"/>
<rect x="671.86" y="300.15" width="5.8" height="15.75" fill="#000000" stroke="#000" stroke-width="1.35"/>
<line x1="658.25" y1="315.9" x2="658.25" y2="322.4" stroke="#000" stroke-width="1.8"/>
<text transform="translate(658.25,336.9) scale(1,1.1)" font-size="14" font-family="'Liberation Serif', serif" font-weight="bold" text-anchor="middle" >p-JNK</text>
<line x1="692.8516099999999" y1="298.046" x2="692.8516099999999" y2="291.026" stroke="#000" stroke-width="1.3"/>
<path d="M690.95 290.63 L694.75 290.63 L693.55 292.43 L692.15 292.43 Z" fill="#000"/>
<rect x="689.95" y="298.05" width="5.8" height="17.85" fill="#ffffff" stroke="#000" stroke-width="1.35"/>
<line x1="703.77576" y1="279.092" x2="703.77576" y2="273.476" stroke="#000" stroke-width="1.3"/>
<path d="M701.88 273.08 L705.68 273.08 L704.48 274.88 L703.08 274.88 Z" fill="#000"/>
<rect x="700.88" y="279.09" width="5.8" height="36.81" fill="#a5a5a5" stroke="#000" stroke-width="1.35"/>
<line x1="714.6491" y1="252.41599999999997" x2="714.6491" y2="246.09799999999998" stroke="#000" stroke-width="1.3"/>
<path d="M712.75 245.70 L716.55 245.70 L715.35 247.50 L713.95 247.50 Z" fill="#000"/>
<rect x="711.75" y="252.42" width="5.8" height="63.48" fill="#636363" stroke="#000" stroke-width="1.35"/>
<line x1="725.5732499999999" y1="227.14399999999998" x2="725.5732499999999" y2="211.69999999999996" stroke="#000" stroke-width="1.3"/>
<path d="M723.67 211.30 L727.47 211.30 L726.27 213.10 L724.87 213.10 Z" fill="#000"/>
<rect x="722.67" y="227.14" width="5.8" height="88.76" fill="#000000" stroke="#000" stroke-width="1.35"/>
<line x1="709.06" y1="315.9" x2="709.06" y2="322.4" stroke="#000" stroke-width="1.8"/>
<text transform="translate(709.06,336.9) scale(1,1.1)" font-size="14" font-family="'Liberation Serif', serif" font-weight="bold" text-anchor="middle" >p65</text>
<line x1="743.66161" y1="289.622" x2="743.66161" y2="281.9" stroke="#000" stroke-width="1.3"/>
<path d="M741.76 281.50 L745.56 281.50 L744.36 283.30 L742.96 283.30 Z" fill="#000"/>
<rect x="740.76" y="289.62" width="5.8" height="26.28" fill="#ffffff" stroke="#000" stroke-width="1.35"/>
<line x1="754.58576" y1="237.67399999999998" x2="754.58576" y2="233.46199999999996" stroke="#000" stroke-width="1.3"/>
<path d="M752.69 233.06 L756.49 233.06 L755.29 234.86 L753.89 234.86 Z" fill="#000"/>
<rect x="751.69" y="237.67" width="5.8" height="78.23" fill="#a5a5a5" stroke="#000" stroke-width="1.35"/>
<line x1="765.4591" y1="311.384" x2="765.4591" y2="305.768" stroke="#000" stroke-width="1.3"/>
<path d="M763.56 305.37 L767.36 305.37 L766.16 307.17 L764.76 307.17 Z" fill="#000"/>
<rect x="762.56" y="311.38" width="5.8" height="4.52" fill="#636363" stroke="#000" stroke-width="1.35"/>
<line x1="776.38325" y1="309.278" x2="776.38325" y2="304.364" stroke="#000" stroke-width="1.3"/>
<path d="M774.48 303.96 L778.28 303.96 L777.08 305.76 L775.68 305.76 Z" fill="#000"/>
<rect x="773.48" y="309.28" width="5.8" height="6.62" fill="#000000" stroke="#000" stroke-width="1.35"/>
<line x1="759.87" y1="315.9" x2="759.87" y2="322.4" stroke="#000" stroke-width="1.8"/>
<text transform="translate(759.87,336.9) scale(1,1.1)" font-size="14" font-family="'Liberation Serif', serif" font-weight="bold" text-anchor="middle" >p-p65</text>
<line x1="381" y1="174.69999999999996" x2="381" y2="316.9" stroke="#000" stroke-width="2.0"/>
<line x1="380" y1="315.9" x2="785.5" y2="315.9" stroke="#000" stroke-width="2.0"/>
<line x1="374.5" y1="315.9" x2="381" y2="315.9" stroke="#000" stroke-width="1.8"/>
<text transform="translate(372,320.9) scale(1,1.2)" font-size="11" font-family="'Liberation Sans', sans-serif" font-weight="bold" text-anchor="end" >0.0</text>
<line x1="374.5" y1="280.79999999999995" x2="381" y2="280.79999999999995" stroke="#000" stroke-width="1.8"/>
<text transform="translate(372,285.79999999999995) scale(1,1.2)" font-size="11" font-family="'Liberation Sans', sans-serif" font-weight="bold" text-anchor="end" >0.5</text>
<line x1="374.5" y1="245.7" x2="381" y2="245.7" stroke="#000" stroke-width="1.8"/>
<text transform="translate(372,250.7) scale(1,1.2)" font-size="11" font-family="'Liberation Sans', sans-serif" font-weight="bold" text-anchor="end" >1.0</text>
<line x1="374.5" y1="210.59999999999997" x2="381" y2="210.59999999999997" stroke="#000" stroke-width="1.8"/>
<text transform="translate(372,215.59999999999997) scale(1,1.2)" font-size="11" font-family="'Liberation Sans', sans-serif" font-weight="bold" text-anchor="end" >1.5</text>
<line x1="374.5" y1="175.49999999999997" x2="381" y2="175.49999999999997" stroke="#000" stroke-width="1.8"/>
<text transform="translate(372,180.49999999999997) scale(1,1.2)" font-size="11" font-family="'Liberation Sans', sans-serif" font-weight="bold" text-anchor="end" >2.0</text>
<text transform="translate(347.7,243.7) rotate(-90)" font-size="13" font-family="'Liberation Serif', serif" font-weight="bold" text-anchor="middle" textLength="178" lengthAdjust="spacingAndGlyphs">Folder of expression /β-Actin</text>
<path d="M409.6 247.8 L409.6 184 L419.3 184 L419.3 190" fill="none" stroke="#000" stroke-width="1.3"/>
<line x1="414.20" y1="175.40" x2="414.20" y2="181.40" stroke="#2a2a2a" stroke-width="1.2"/>
<line x1="411.68" y1="176.77" x2="416.72" y2="180.03" stroke="#2a2a2a" stroke-width="1.2"/>
<line x1="411.68" y1="180.03" x2="416.72" y2="176.77" stroke="#2a2a2a" stroke-width="1.2"/>
<path d="M435.4 222 L435.4 212.7 L450.6 212.7 L450.6 281" fill="none" stroke="#000" stroke-width="1.3"/>
<line x1="442.90" y1="204.10" x2="442.90" y2="210.10" stroke="#2a2a2a" stroke-width="1.2"/>
<line x1="440.38" y1="205.47" x2="445.42" y2="208.73" stroke="#2a2a2a" stroke-width="1.2"/>
<line x1="440.38" y1="208.73" x2="445.42" y2="205.47" stroke="#2a2a2a" stroke-width="1.2"/>
<path d="M448.5 198 L448.5 183.4 L471.6 183.4 L471.6 245" fill="none" stroke="#000" stroke-width="1.3"/>
<line x1="458.85" y1="174.80" x2="458.85" y2="180.80" stroke="#2a2a2a" stroke-width="1.2"/>
<line x1="456.33" y1="176.17" x2="461.37" y2="179.43" stroke="#2a2a2a" stroke-width="1.2"/>
<line x1="456.33" y1="179.43" x2="461.37" y2="176.17" stroke="#2a2a2a" stroke-width="1.2"/>
<line x1="466.15" y1="174.80" x2="466.15" y2="180.80" stroke="#2a2a2a" stroke-width="1.2"/>
<line x1="463.63" y1="176.17" x2="468.67" y2="179.43" stroke="#2a2a2a" stroke-width="1.2"/>
<line x1="463.63" y1="179.43" x2="468.67" y2="176.17" stroke="#2a2a2a" stroke-width="1.2"/>
<path d="M540.4 281 L540.4 205.5 L551 205.5 L551 213.5" fill="none" stroke="#000" stroke-width="1.3"/>
<line x1="535.80" y1="196.90" x2="535.80" y2="202.90" stroke="#2a2a2a" stroke-width="1.2"/>
<line x1="533.28" y1="198.27" x2="538.32" y2="201.53" stroke="#2a2a2a" stroke-width="1.2"/>
<line x1="533.28" y1="201.53" x2="538.32" y2="198.27" stroke="#2a2a2a" stroke-width="1.2"/>
<line x1="543.10" y1="196.90" x2="543.10" y2="202.90" stroke="#2a2a2a" stroke-width="1.2"/>
<line x1="540.58" y1="198.27" x2="545.62" y2="201.53" stroke="#2a2a2a" stroke-width="1.2"/>
<line x1="540.58" y1="201.53" x2="545.62" y2="198.27" stroke="#2a2a2a" stroke-width="1.2"/>
<line x1="550.40" y1="196.90" x2="550.40" y2="202.90" stroke="#2a2a2a" stroke-width="1.2"/>
<line x1="547.88" y1="198.27" x2="552.92" y2="201.53" stroke="#2a2a2a" stroke-width="1.2"/>
<line x1="547.88" y1="201.53" x2="552.92" y2="198.27" stroke="#2a2a2a" stroke-width="1.2"/>
<path d="M555.7 209.2 L555.7 205 L573.1 205 L573.1 277" fill="none" stroke="#000" stroke-width="1.3"/>
<line x1="559.10" y1="196.40" x2="559.10" y2="202.40" stroke="#2a2a2a" stroke-width="1.2"/>
<line x1="556.58" y1="197.77" x2="561.62" y2="201.03" stroke="#2a2a2a" stroke-width="1.2"/>
<line x1="556.58" y1="201.03" x2="561.62" y2="197.77" stroke="#2a2a2a" stroke-width="1.2"/>
<line x1="566.40" y1="196.40" x2="566.40" y2="202.40" stroke="#2a2a2a" stroke-width="1.2"/>
<line x1="563.88" y1="197.77" x2="568.92" y2="201.03" stroke="#2a2a2a" stroke-width="1.2"/>
<line x1="563.88" y1="201.03" x2="568.92" y2="197.77" stroke="#2a2a2a" stroke-width="1.2"/>
<line x1="573.70" y1="196.40" x2="573.70" y2="202.40" stroke="#2a2a2a" stroke-width="1.2"/>
<line x1="571.18" y1="197.77" x2="576.22" y2="201.03" stroke="#2a2a2a" stroke-width="1.2"/>
<line x1="571.18" y1="201.03" x2="576.22" y2="197.77" stroke="#2a2a2a" stroke-width="1.2"/>
<path d="M641.6 242.5 L641.6 181 L653 181 L653 185.6" fill="none" stroke="#000" stroke-width="1.3"/>
<line x1="642.30" y1="172.40" x2="642.30" y2="178.40" stroke="#2a2a2a" stroke-width="1.2"/>
<line x1="639.78" y1="173.77" x2="644.82" y2="177.03" stroke="#2a2a2a" stroke-width="1.2"/>
<line x1="639.78" y1="177.03" x2="644.82" y2="173.77" stroke="#2a2a2a" stroke-width="1.2"/>
<line x1="649.60" y1="172.40" x2="649.60" y2="178.40" stroke="#2a2a2a" stroke-width="1.2"/>
<line x1="647.08" y1="173.77" x2="652.12" y2="177.03" stroke="#2a2a2a" stroke-width="1.2"/>
<line x1="647.08" y1="177.03" x2="652.12" y2="173.77" stroke="#2a2a2a" stroke-width="1.2"/>
<line x1="656.90" y1="172.40" x2="656.90" y2="178.40" stroke="#2a2a2a" stroke-width="1.2"/>
<line x1="654.38" y1="173.77" x2="659.42" y2="177.03" stroke="#2a2a2a" stroke-width="1.2"/>
<line x1="654.38" y1="177.03" x2="659.42" y2="173.77" stroke="#2a2a2a" stroke-width="1.2"/>
<path d="M652.2 167 L652.2 156 L674.5 156 L674.5 275.5" fill="none" stroke="#000" stroke-width="1.3"/>
<line x1="658.10" y1="147.40" x2="658.10" y2="153.40" stroke="#2a2a2a" stroke-width="1.2"/>
<line x1="655.58" y1="148.77" x2="660.62" y2="152.03" stroke="#2a2a2a" stroke-width="1.2"/>
<line x1="655.58" y1="152.03" x2="660.62" y2="148.77" stroke="#2a2a2a" stroke-width="1.2"/>
<line x1="665.40" y1="147.40" x2="665.40" y2="153.40" stroke="#2a2a2a" stroke-width="1.2"/>
<line x1="662.88" y1="148.77" x2="667.92" y2="152.03" stroke="#2a2a2a" stroke-width="1.2"/>
<line x1="662.88" y1="152.03" x2="667.92" y2="148.77" stroke="#2a2a2a" stroke-width="1.2"/>
<line x1="672.70" y1="147.40" x2="672.70" y2="153.40" stroke="#2a2a2a" stroke-width="1.2"/>
<line x1="670.18" y1="148.77" x2="675.22" y2="152.03" stroke="#2a2a2a" stroke-width="1.2"/>
<line x1="670.18" y1="152.03" x2="675.22" y2="148.77" stroke="#2a2a2a" stroke-width="1.2"/>
<path d="M692.6 277.2 L692.6 229.5 L704 229.5 L704 261.6" fill="none" stroke="#000" stroke-width="1.3"/>
<line x1="698.20" y1="220.90" x2="698.20" y2="226.90" stroke="#2a2a2a" stroke-width="1.2"/>
<line x1="695.68" y1="222.27" x2="700.72" y2="225.53" stroke="#2a2a2a" stroke-width="1.2"/>
<line x1="695.68" y1="225.53" x2="700.72" y2="222.27" stroke="#2a2a2a" stroke-width="1.2"/>
<path d="M713.7 239 L713.7 199.5 L725.7 199.5 L725.7 206.7" fill="none" stroke="#000" stroke-width="1.3"/>
<line x1="713.90" y1="190.90" x2="713.90" y2="196.90" stroke="#2a2a2a" stroke-width="1.2"/>
<line x1="711.38" y1="192.27" x2="716.42" y2="195.53" stroke="#2a2a2a" stroke-width="1.2"/>
<line x1="711.38" y1="195.53" x2="716.42" y2="192.27" stroke="#2a2a2a" stroke-width="1.2"/>
<line x1="721.20" y1="190.90" x2="721.20" y2="196.90" stroke="#2a2a2a" stroke-width="1.2"/>
<line x1="718.68" y1="192.27" x2="723.72" y2="195.53" stroke="#2a2a2a" stroke-width="1.2"/>
<line x1="718.68" y1="195.53" x2="723.72" y2="192.27" stroke="#2a2a2a" stroke-width="1.2"/>
<line x1="728.50" y1="190.90" x2="728.50" y2="196.90" stroke="#2a2a2a" stroke-width="1.2"/>
<line x1="725.98" y1="192.27" x2="731.02" y2="195.53" stroke="#2a2a2a" stroke-width="1.2"/>
<line x1="725.98" y1="195.53" x2="731.02" y2="192.27" stroke="#2a2a2a" stroke-width="1.2"/>
<path d="M742 272 L742 219.6 L755 219.6 L755 224" fill="none" stroke="#000" stroke-width="1.3"/>
<line x1="744.70" y1="211.00" x2="744.70" y2="217.00" stroke="#2a2a2a" stroke-width="1.2"/>
<line x1="742.18" y1="212.37" x2="747.22" y2="215.63" stroke="#2a2a2a" stroke-width="1.2"/>
<line x1="742.18" y1="215.63" x2="747.22" y2="212.37" stroke="#2a2a2a" stroke-width="1.2"/>
<line x1="752.00" y1="211.00" x2="752.00" y2="217.00" stroke="#2a2a2a" stroke-width="1.2"/>
<line x1="749.48" y1="212.37" x2="754.52" y2="215.63" stroke="#2a2a2a" stroke-width="1.2"/>
<line x1="749.48" y1="215.63" x2="754.52" y2="212.37" stroke="#2a2a2a" stroke-width="1.2"/>
<line x1="759.30" y1="211.00" x2="759.30" y2="217.00" stroke="#2a2a2a" stroke-width="1.2"/>
<line x1="756.78" y1="212.37" x2="761.82" y2="215.63" stroke="#2a2a2a" stroke-width="1.2"/>
<line x1="756.78" y1="215.63" x2="761.82" y2="212.37" stroke="#2a2a2a" stroke-width="1.2"/>
<path d="M752.7 230 L752.7 197 L776.7 197 L776.7 266" fill="none" stroke="#000" stroke-width="1.3"/>
<line x1="757.60" y1="188.40" x2="757.60" y2="194.40" stroke="#2a2a2a" stroke-width="1.2"/>
<line x1="755.08" y1="189.77" x2="760.12" y2="193.03" stroke="#2a2a2a" stroke-width="1.2"/>
<line x1="755.08" y1="193.03" x2="760.12" y2="189.77" stroke="#2a2a2a" stroke-width="1.2"/>
<line x1="764.90" y1="188.40" x2="764.90" y2="194.40" stroke="#2a2a2a" stroke-width="1.2"/>
<line x1="762.38" y1="189.77" x2="767.42" y2="193.03" stroke="#2a2a2a" stroke-width="1.2"/>
<line x1="762.38" y1="193.03" x2="767.42" y2="189.77" stroke="#2a2a2a" stroke-width="1.2"/>
<line x1="772.20" y1="188.40" x2="772.20" y2="194.40" stroke="#2a2a2a" stroke-width="1.2"/>
<line x1="769.68" y1="189.77" x2="774.72" y2="193.03" stroke="#2a2a2a" stroke-width="1.2"/>
<line x1="769.68" y1="193.03" x2="774.72" y2="189.77" stroke="#2a2a2a" stroke-width="1.2"/>
<text transform="translate(353.8,450) scale(1,1.1)" font-size="19.6" font-family="'Liberation Serif', serif" font-weight="normal" text-anchor="start" >D</text>
<text transform="translate(555.7,503) scale(1,1.2)" font-size="14" font-family="'Liberation Serif', serif" font-weight="normal" text-anchor="start" textLength="30.6" lengthAdjust="spacingAndGlyphs" >U937</text>
<rect x="443.20000000000005" y="522.4" width="14.4" height="6.2" fill="#ffffff" stroke="#000" stroke-width="1.2"/>
<rect x="591.4" y="522.4" width="14.4" height="6.2" fill="#a5a5a5" stroke="#000" stroke-width="1.2"/>
<rect x="443.20000000000005" y="552.4" width="14.4" height="6.2" fill="#636363" stroke="#000" stroke-width="1.2"/>
<rect x="591.4" y="552.4" width="14.4" height="6.2" fill="#000000" stroke="#000" stroke-width="1.2"/>
<text transform="translate(467.1,530.3) scale(1,1.12)" font-size="13" font-family="'Liberation Serif', serif" font-weight="normal" text-anchor="start" textLength="60.2" lengthAdjust="spacingAndGlyphs" >EV1+Ara-C</text>
<text transform="translate(615.5999999999999,530.3) scale(1,1.12)" font-size="13" font-family="'Liberation Serif', serif" font-weight="normal" text-anchor="start" textLength="71.7" lengthAdjust="spacingAndGlyphs" >L-Nrf2+Ara-C</text>
<text transform="translate(467.1,560.4) scale(1,1.12)" font-size="13" font-family="'Liberation Serif', serif" font-weight="normal" text-anchor="start" textLength="111.7" lengthAdjust="spacingAndGlyphs" >EV1+Ara-C+SC75741</text>
<text transform="translate(615.5999999999999,560.4) scale(1,1.12)" font-size="13" font-family="'Liberation Serif', serif" font-weight="normal" text-anchor="start" textLength="124.3" lengthAdjust="spacingAndGlyphs" >L-Nrf2+Ara-C+SC75741</text>
<line x1="387.7267" y1="693.406" x2="387.7267" y2="674.1279999999999" stroke="#000" stroke-width="1.3"/>
<path d="M385.83 673.73 L389.63 673.73 L388.43 675.53 L387.03 675.53 Z" fill="#000"/>
<rect x="385.18" y="693.41" width="5.1" height="45.99" fill="#ffffff" stroke="#000" stroke-width="1.35"/>
<line x1="398.62719999999996" y1="631.036" x2="398.62719999999996" y2="618.562" stroke="#000" stroke-width="1.3"/>
<path d="M396.73 618.16 L400.53 618.16 L399.33 619.96 L397.93 619.96 Z" fill="#000"/>
<rect x="396.08" y="631.04" width="5.1" height="108.36" fill="#a5a5a5" stroke="#000" stroke-width="1.35"/>
<line x1="409.477" y1="659.386" x2="409.477" y2="640.108" stroke="#000" stroke-width="1.3"/>
<path d="M407.58 639.71 L411.38 639.71 L410.18 641.51 L408.78 641.51 Z" fill="#000"/>
<rect x="406.93" y="659.39" width="5.1" height="80.01" fill="#636363" stroke="#000" stroke-width="1.35"/>
<line x1="420.3775" y1="603.8199999999999" x2="420.3775" y2="593.614" stroke="#000" stroke-width="1.3"/>
<path d="M418.48 593.21 L422.28 593.21 L421.08 595.01 L419.68 595.01 Z" fill="#000"/>
<rect x="417.83" y="603.82" width="5.1" height="135.58" fill="#000000" stroke="#000" stroke-width="1.35"/>
<line x1="403.9" y1="739.4" x2="403.9" y2="745.9" stroke="#000" stroke-width="1.8"/>
<text transform="translate(403.9,763.4) scale(1,1.1)" font-size="14" font-family="'Liberation Serif', serif" font-weight="bold" text-anchor="middle" >Nrf2</text>
<line x1="438.4267" y1="652.582" x2="438.4267" y2="627.634" stroke="#000" stroke-width="1.3"/>
<path d="M436.53 627.23 L440.33 627.23 L439.13 629.03 L437.73 629.03 Z" fill="#000"/>
<rect x="435.88" y="652.58" width="5.1" height="86.82" fill="#ffffff" stroke="#000" stroke-width="1.35"/>
<line x1="449.32719999999995" y1="704.746" x2="449.32719999999995" y2="692.2719999999999" stroke="#000" stroke-width="1.3"/>
<path d="M447.43 691.87 L451.23 691.87 L450.03 693.67 L448.63 693.67 Z" fill="#000"/>
<rect x="446.78" y="704.75" width="5.1" height="34.65" fill="#a5a5a5" stroke="#000" stroke-width="1.35"/>
<line x1="460.17699999999996" y1="610.624" x2="460.17699999999996" y2="587.944" stroke="#000" stroke-width="1.3"/>
<path d="M458.28 587.54 L462.08 587.54 L460.88 589.34 L459.48 589.34 Z" fill="#000"/>
<rect x="457.63" y="610.62" width="5.1" height="128.78" fill="#636363" stroke="#000" stroke-width="1.35"/>
<line x1="471.0775" y1="666.1899999999999" x2="471.0775" y2="653.716" stroke="#000" stroke-width="1.3"/>
<path d="M469.18 653.32 L472.98 653.32 L471.78 655.12 L470.38 655.12 Z" fill="#000"/>
<rect x="468.53" y="666.19" width="5.1" height="73.21" fill="#000000" stroke="#000" stroke-width="1.35"/>
<line x1="454.59999999999997" y1="739.4" x2="454.59999999999997" y2="745.9" stroke="#000" stroke-width="1.8"/>
<text transform="translate(454.59999999999997,763.4) scale(1,1.1)" font-size="14" font-family="'Liberation Serif', serif" font-weight="bold" text-anchor="middle" >RFC4</text>
<line x1="489.12669999999997" y1="643.51" x2="489.12669999999997" y2="631.036" stroke="#000" stroke-width="1.3"/>
<path d="M487.23 630.64 L491.03 630.64 L489.83 632.44 L488.43 632.44 Z" fill="#000"/>
<rect x="486.58" y="643.51" width="5.1" height="95.89" fill="#ffffff" stroke="#000" stroke-width="1.35"/>
<line x1="500.02719999999994" y1="646.912" x2="500.02719999999994" y2="635.572" stroke="#000" stroke-width="1.3"/>
<path d="M498.13 635.17 L501.93 635.17 L500.73 636.97 L499.33 636.97 Z" fill="#000"/>
<rect x="497.48" y="646.91" width="5.1" height="92.49" fill="#a5a5a5" stroke="#000" stroke-width="1.35"/>
<line x1="510.87699999999995" y1="642.376" x2="510.87699999999995" y2="627.634" stroke="#000" stroke-width="1.3"/>
<path d="M508.98 627.23 L512.78 627.23 L511.58 629.03 L510.18 629.03 Z" fill="#000"/>
<rect x="508.33" y="642.38" width="5.1" height="97.02" fill="#636363" stroke="#000" stroke-width="1.35"/>
<line x1="521.7774999999999" y1="643.51" x2="521.7774999999999" y2="637.8399999999999" stroke="#000" stroke-width="1.3"/>
<path d="M519.88 637.44 L523.68 637.44 L522.48 639.24 L521.08 639.24 Z" fill="#000"/>
<rect x="519.23" y="643.51" width="5.1" height="95.89" fill="#000000" stroke="#000" stroke-width="1.35"/>
<line x1="505.29999999999995" y1="739.4" x2="505.29999999999995" y2="745.9" stroke="#000" stroke-width="1.8"/>
<text transform="translate(505.29999999999995,763.4) scale(1,1.1)" font-size="14" font-family="'Liberation Serif', serif" font-weight="bold" text-anchor="middle" >c-Jun</text>
<line x1="539.8267" y1="700.21" x2="539.8267" y2="683.1999999999999" stroke="#000" stroke-width="1.3"/>
<path d="M537.93 682.80 L541.73 682.80 L540.53 684.60 L539.13 684.60 Z" fill="#000"/>
<rect x="537.28" y="700.21" width="5.1" height="39.19" fill="#ffffff" stroke="#000" stroke-width="1.35"/>
<line x1="550.7272" y1="634.438" x2="550.7272" y2="617.428" stroke="#000" stroke-width="1.3"/>
<path d="M548.83 617.03 L552.63 617.03 L551.43 618.83 L550.03 618.83 Z" fill="#000"/>
<rect x="548.18" y="634.44" width="5.1" height="104.96" fill="#a5a5a5" stroke="#000" stroke-width="1.35"/>
<line x1="561.577" y1="726.292" x2="561.577" y2="714.952" stroke="#000" stroke-width="1.3"/>
<path d="M559.68 714.55 L563.48 714.55 L562.28 716.35 L560.88 716.35 Z" fill="#000"/>
<rect x="559.03" y="726.29" width="5.1" height="13.11" fill="#636363" stroke="#000" stroke-width="1.35"/>
<line x1="572.4775" y1="726.292" x2="572.4775" y2="720.622" stroke="#000" stroke-width="1.3"/>
<path d="M570.58 720.22 L574.38 720.22 L573.18 722.02 L571.78 722.02 Z" fill="#000"/>
<rect x="569.93" y="726.29" width="5.1" height="13.11" fill="#000000" stroke="#000" stroke-width="1.35"/>
<line x1="556.0" y1="739.4" x2="556.0" y2="745.9" stroke="#000" stroke-width="1.8"/>
<text transform="translate(556.0,763.4) scale(1,1.1)" font-size="14" font-family="'Liberation Serif', serif" font-weight="bold" text-anchor="middle" >p-c-Jun</text>
<line x1="590.5267" y1="650.314" x2="590.5267" y2="645.778" stroke="#000" stroke-width="1.3"/>
<path d="M588.63 645.38 L592.43 645.38 L591.23 647.18 L589.83 647.18 Z" fill="#000"/>
<rect x="587.98" y="650.31" width="5.1" height="89.09" fill="#ffffff" stroke="#000" stroke-width="1.35"/>
<line x1="601.4272000000001" y1="649.18" x2="601.4272000000001" y2="644.644" stroke="#000" stroke-width="1.3"/>
<path d="M599.53 644.24 L603.33 644.24 L602.13 646.04 L600.73 646.04 Z" fill="#000"/>
<rect x="598.88" y="649.18" width="5.1" height="90.22" fill="#a5a5a5" stroke="#000" stroke-width="1.35"/>
<line x1="612.277" y1="643.51" x2="612.277" y2="634.438" stroke="#000" stroke-width="1.3"/>
<path d="M610.38 634.04 L614.18 634.04 L612.98 635.84 L611.58 635.84 Z" fill="#000"/>
<rect x="609.73" y="643.51" width="5.1" height="95.89" fill="#636363" stroke="#000" stroke-width="1.35"/>
<line x1="623.1775" y1="644.644" x2="623.1775" y2="633.304" stroke="#000" stroke-width="1.3"/>
<path d="M621.28 632.90 L625.08 632.90 L623.88 634.70 L622.48 634.70 Z" fill="#000"/>
<rect x="620.63" y="644.64" width="5.1" height="94.76" fill="#000000" stroke="#000" stroke-width="1.35"/>
<line x1="606.7" y1="739.4" x2="606.7" y2="745.9" stroke="#000" stroke-width="1.8"/>
<text transform="translate(606.7,763.4) scale(1,1.1)" font-size="14" font-family="'Liberation Serif', serif" font-weight="bold" text-anchor="middle" >JNK</text>
<line x1="641.2266999999999" y1="700.21" x2="641.2266999999999" y2="694.54" stroke="#000" stroke-width="1.3"/>
<path d="M639.33 694.14 L643.13 694.14 L641.93 695.94 L640.53 695.94 Z" fill="#000"/>
<rect x="638.68" y="700.21" width="5.1" height="39.19" fill="#ffffff" stroke="#000" stroke-width="1.35"/>
<line x1="652.1272" y1="662.788" x2="652.1272" y2="659.386" stroke="#000" stroke-width="1.3"/>
<path d="M650.23 658.99 L654.03 658.99 L652.83 660.79 L651.43 660.79 Z" fill="#000"/>
<rect x="649.58" y="662.79" width="5.1" height="76.61" fill="#a5a5a5" stroke="#000" stroke-width="1.35"/>
<line x1="662.977" y1="718.3539999999999" x2="662.977" y2="702.478" stroke="#000" stroke-width="1.3"/>
<path d="M661.08 702.08 L664.88 702.08 L663.68 703.88 L662.28 703.88 Z" fill="#000"/>
<rect x="660.43" y="718.35" width="5.1" height="21.05" fill="#636363" stroke="#000" stroke-width="1.35"/>
<line x1="673.8774999999999" y1="713.818" x2="673.8774999999999" y2="705.88" stroke="#000" stroke-width="1.3"/>
<path d="M671.98 705.48 L675.78 705.48 L674.58 707.28 L673.18 707.28 Z" fill="#000"/>
<rect x="671.33" y="713.82" width="5.1" height="25.58" fill="#000000" stroke="#000" stroke-width="1.35"/>
<line x1="657.4" y1="739.4" x2="657.4" y2="745.9" stroke="#000" stroke-width="1.8"/>
<text transform="translate(657.4,763.4) scale(1,1.1)" font-size="14" font-family="'Liberation Serif', serif" font-weight="bold" text-anchor="middle" >p-JNK</text>
<line x1="691.9267" y1="708.148" x2="691.9267" y2="694.54" stroke="#000" stroke-width="1.3"/>
<path d="M690.03 694.14 L693.83 694.14 L692.63 695.94 L691.23 695.94 Z" fill="#000"/>
<rect x="689.38" y="708.15" width="5.1" height="31.25" fill="#ffffff" stroke="#000" stroke-width="1.35"/>
<line x1="702.8272000000001" y1="702.478" x2="702.8272000000001" y2="690.004" stroke="#000" stroke-width="1.3"/>
<path d="M700.93 689.60 L704.73 689.60 L703.53 691.40 L702.13 691.40 Z" fill="#000"/>
<rect x="700.28" y="702.48" width="5.1" height="36.92" fill="#a5a5a5" stroke="#000" stroke-width="1.35"/>
<line x1="713.677" y1="663.922" x2="713.677" y2="643.51" stroke="#000" stroke-width="1.3"/>
<path d="M711.78 643.11 L715.58 643.11 L714.38 644.91 L712.98 644.91 Z" fill="#000"/>
<rect x="711.13" y="663.92" width="5.1" height="75.48" fill="#636363" stroke="#000" stroke-width="1.35"/>
<line x1="724.5775" y1="650.314" x2="724.5775" y2="631.036" stroke="#000" stroke-width="1.3"/>
<path d="M722.68 630.64 L726.48 630.64 L725.28 632.44 L723.88 632.44 Z" fill="#000"/>
<rect x="722.03" y="650.31" width="5.1" height="89.09" fill="#000000" stroke="#000" stroke-width="1.35"/>
<line x1="708.1" y1="739.4" x2="708.1" y2="745.9" stroke="#000" stroke-width="1.8"/>
<text transform="translate(708.1,763.4) scale(1,1.1)" font-size="14" font-family="'Liberation Serif', serif" font-weight="bold" text-anchor="middle" >p65</text>
<line x1="742.6266999999999" y1="700.21" x2="742.6266999999999" y2="676.396" stroke="#000" stroke-width="1.3"/>
<path d="M740.73 676.00 L744.53 676.00 L743.33 677.80 L741.93 677.80 Z" fill="#000"/>
<rect x="740.08" y="700.21" width="5.1" height="39.19" fill="#ffffff" stroke="#000" stroke-width="1.35"/>
<line x1="753.5272" y1="671.86" x2="753.5272" y2="659.386" stroke="#000" stroke-width="1.3"/>
<path d="M751.63 658.99 L755.43 658.99 L754.23 660.79 L752.83 660.79 Z" fill="#000"/>
<rect x="750.98" y="671.86" width="5.1" height="67.54" fill="#a5a5a5" stroke="#000" stroke-width="1.35"/>
<line x1="764.377" y1="726.292" x2="764.377" y2="719.4879999999999" stroke="#000" stroke-width="1.3"/>
<path d="M762.48 719.09 L766.28 719.09 L765.08 720.89 L763.68 720.89 Z" fill="#000"/>
<rect x="761.83" y="726.29" width="5.1" height="13.11" fill="#636363" stroke="#000" stroke-width="1.35"/>
<line x1="775.2774999999999" y1="729.694" x2="775.2774999999999" y2="724.024" stroke="#000" stroke-width="1.3"/>
<path d="M773.38 723.62 L777.18 723.62 L775.98 725.42 L774.58 725.42 Z" fill="#000"/>
<rect x="772.73" y="729.69" width="5.1" height="9.71" fill="#000000" stroke="#000" stroke-width="1.35"/>
<line x1="758.8" y1="739.4" x2="758.8" y2="745.9" stroke="#000" stroke-width="1.8"/>
<text transform="translate(758.8,763.4) scale(1,1.1)" font-size="14" font-family="'Liberation Serif', serif" font-weight="bold" text-anchor="middle" >p-p65</text>
<line x1="381" y1="568.5" x2="381" y2="740.4" stroke="#000" stroke-width="2.0"/>
<line x1="380" y1="739.4" x2="782.4" y2="739.4" stroke="#000" stroke-width="2.0"/>
<line x1="374.5" y1="739.4" x2="381" y2="739.4" stroke="#000" stroke-width="1.8"/>
<text transform="translate(372,744.4) scale(1,1.2)" font-size="11" font-family="'Liberation Sans', sans-serif" font-weight="bold" text-anchor="end" >0.0</text>
<line x1="374.5" y1="682.6999999999999" x2="381" y2="682.6999999999999" stroke="#000" stroke-width="1.8"/>
<text transform="translate(372,687.6999999999999) scale(1,1.2)" font-size="11" font-family="'Liberation Sans', sans-serif" font-weight="bold" text-anchor="end" >0.5</text>
<line x1="374.5" y1="626.0" x2="381" y2="626.0" stroke="#000" stroke-width="1.8"/>
<text transform="translate(372,631.0) scale(1,1.2)" font-size="11" font-family="'Liberation Sans', sans-serif" font-weight="bold" text-anchor="end" >1.0</text>
<line x1="374.5" y1="569.3" x2="381" y2="569.3" stroke="#000" stroke-width="1.8"/>
<text transform="translate(372,574.3) scale(1,1.2)" font-size="11" font-family="'Liberation Sans', sans-serif" font-weight="bold" text-anchor="end" >1.5</text>
<text transform="translate(348.3,651.5) rotate(-90)" font-size="13.7" font-family="'Liberation Serif', serif" font-weight="bold" text-anchor="middle" textLength="202" lengthAdjust="spacingAndGlyphs">Folder of expression /β-Actin</text>
<path d="M410.3 625.5 L410.3 578.4 L420.7 578.4 L420.7 587.4" fill="none" stroke="#000" stroke-width="1.3"/>
<line x1="415.60" y1="569.80" x2="415.60" y2="575.80" stroke="#2a2a2a" stroke-width="1.2"/>
<line x1="413.08" y1="571.17" x2="418.12" y2="574.43" stroke="#2a2a2a" stroke-width="1.2"/>
<line x1="413.08" y1="574.43" x2="418.12" y2="571.17" stroke="#2a2a2a" stroke-width="1.2"/>
<path d="M438.7 620.7 L438.7 611.7 L449.3 611.7 L449.3 680.7" fill="none" stroke="#000" stroke-width="1.3"/>
<line x1="441.05" y1="603.10" x2="441.05" y2="609.10" stroke="#2a2a2a" stroke-width="1.2"/>
<line x1="438.53" y1="604.47" x2="443.57" y2="607.73" stroke="#2a2a2a" stroke-width="1.2"/>
<line x1="438.53" y1="607.73" x2="443.57" y2="604.47" stroke="#2a2a2a" stroke-width="1.2"/>
<line x1="448.35" y1="603.10" x2="448.35" y2="609.10" stroke="#2a2a2a" stroke-width="1.2"/>
<line x1="445.83" y1="604.47" x2="450.87" y2="607.73" stroke="#2a2a2a" stroke-width="1.2"/>
<line x1="445.83" y1="607.73" x2="450.87" y2="604.47" stroke="#2a2a2a" stroke-width="1.2"/>
<path d="M449.1 592.7 L449.1 583.3 L470.7 583.3 L470.7 644" fill="none" stroke="#000" stroke-width="1.3"/>
<line x1="456.55" y1="574.70" x2="456.55" y2="580.70" stroke="#2a2a2a" stroke-width="1.2"/>
<line x1="454.03" y1="576.07" x2="459.07" y2="579.33" stroke="#2a2a2a" stroke-width="1.2"/>
<line x1="454.03" y1="579.33" x2="459.07" y2="576.07" stroke="#2a2a2a" stroke-width="1.2"/>
<line x1="463.85" y1="574.70" x2="463.85" y2="580.70" stroke="#2a2a2a" stroke-width="1.2"/>
<line x1="461.33" y1="576.07" x2="466.37" y2="579.33" stroke="#2a2a2a" stroke-width="1.2"/>
<line x1="461.33" y1="579.33" x2="466.37" y2="576.07" stroke="#2a2a2a" stroke-width="1.2"/>
<path d="M538.8 660.8 L538.8 603.5 L550.2 603.5 L550.2 612.6" fill="none" stroke="#000" stroke-width="1.3"/>
<line x1="534.70" y1="594.90" x2="534.70" y2="600.90" stroke="#2a2a2a" stroke-width="1.2"/>
<line x1="532.18" y1="596.27" x2="537.22" y2="599.53" stroke="#2a2a2a" stroke-width="1.2"/>
<line x1="532.18" y1="599.53" x2="537.22" y2="596.27" stroke="#2a2a2a" stroke-width="1.2"/>
<line x1="542.00" y1="594.90" x2="542.00" y2="600.90" stroke="#2a2a2a" stroke-width="1.2"/>
<line x1="539.48" y1="596.27" x2="544.52" y2="599.53" stroke="#2a2a2a" stroke-width="1.2"/>
<line x1="539.48" y1="599.53" x2="544.52" y2="596.27" stroke="#2a2a2a" stroke-width="1.2"/>
<line x1="549.30" y1="594.90" x2="549.30" y2="600.90" stroke="#2a2a2a" stroke-width="1.2"/>
<line x1="546.78" y1="596.27" x2="551.82" y2="599.53" stroke="#2a2a2a" stroke-width="1.2"/>
<line x1="546.78" y1="599.53" x2="551.82" y2="596.27" stroke="#2a2a2a" stroke-width="1.2"/>
<path d="M550.2 612 L550.2 603.5 L572.3 603.5 L572.3 710" fill="none" stroke="#000" stroke-width="1.3"/>
<line x1="558.20" y1="594.90" x2="558.20" y2="600.90" stroke="#2a2a2a" stroke-width="1.2"/>
<line x1="555.68" y1="596.27" x2="560.72" y2="599.53" stroke="#2a2a2a" stroke-width="1.2"/>
<line x1="555.68" y1="599.53" x2="560.72" y2="596.27" stroke="#2a2a2a" stroke-width="1.2"/>
<line x1="565.50" y1="594.90" x2="565.50" y2="600.90" stroke="#2a2a2a" stroke-width="1.2"/>
<line x1="562.98" y1="596.27" x2="568.02" y2="599.53" stroke="#2a2a2a" stroke-width="1.2"/>
<line x1="562.98" y1="599.53" x2="568.02" y2="596.27" stroke="#2a2a2a" stroke-width="1.2"/>
<line x1="572.80" y1="594.90" x2="572.80" y2="600.90" stroke="#2a2a2a" stroke-width="1.2"/>
<line x1="570.28" y1="596.27" x2="575.32" y2="599.53" stroke="#2a2a2a" stroke-width="1.2"/>
<line x1="570.28" y1="599.53" x2="575.32" y2="596.27" stroke="#2a2a2a" stroke-width="1.2"/>
<path d="M640.3 695.6 L640.3 637.7 L649.8 637.7 L649.8 646" fill="none" stroke="#000" stroke-width="1.3"/>
<line x1="641.95" y1="629.10" x2="641.95" y2="635.10" stroke="#2a2a2a" stroke-width="1.2"/>
<line x1="639.43" y1="630.47" x2="644.47" y2="633.73" stroke="#2a2a2a" stroke-width="1.2"/>
<line x1="639.43" y1="633.73" x2="644.47" y2="630.47" stroke="#2a2a2a" stroke-width="1.2"/>
<line x1="649.25" y1="629.10" x2="649.25" y2="635.10" stroke="#2a2a2a" stroke-width="1.2"/>
<line x1="646.73" y1="630.47" x2="651.77" y2="633.73" stroke="#2a2a2a" stroke-width="1.2"/>
<line x1="646.73" y1="633.73" x2="651.77" y2="630.47" stroke="#2a2a2a" stroke-width="1.2"/>
<path d="M652.4 644 L652.4 637.7 L673.3 637.7 L673.3 710" fill="none" stroke="#000" stroke-width="1.3"/>
<line x1="659.10" y1="629.10" x2="659.10" y2="635.10" stroke="#2a2a2a" stroke-width="1.2"/>
<line x1="656.58" y1="630.47" x2="661.62" y2="633.73" stroke="#2a2a2a" stroke-width="1.2"/>
<line x1="656.58" y1="633.73" x2="661.62" y2="630.47" stroke="#2a2a2a" stroke-width="1.2"/>
<line x1="666.40" y1="629.10" x2="666.40" y2="635.10" stroke="#2a2a2a" stroke-width="1.2"/>
<line x1="663.88" y1="630.47" x2="668.92" y2="633.73" stroke="#2a2a2a" stroke-width="1.2"/>
<line x1="663.88" y1="633.73" x2="668.92" y2="630.47" stroke="#2a2a2a" stroke-width="1.2"/>
<line x1="673.70" y1="629.10" x2="673.70" y2="635.10" stroke="#2a2a2a" stroke-width="1.2"/>
<line x1="671.18" y1="630.47" x2="676.22" y2="633.73" stroke="#2a2a2a" stroke-width="1.2"/>
<line x1="671.18" y1="633.73" x2="676.22" y2="630.47" stroke="#2a2a2a" stroke-width="1.2"/>
<path d="M741.5 675.6 L741.5 648.2 L750 648.2 L750 656.7" fill="none" stroke="#000" stroke-width="1.3"/>
<line x1="745.10" y1="639.60" x2="745.10" y2="645.60" stroke="#2a2a2a" stroke-width="1.2"/>
<line x1="742.58" y1="640.97" x2="747.62" y2="644.23" stroke="#2a2a2a" stroke-width="1.2"/>
<line x1="742.58" y1="644.23" x2="747.62" y2="640.97" stroke="#2a2a2a" stroke-width="1.2"/>
<path d="M752.4 652 L752.4 648.2 L774.4 648.2 L774.4 717.2" fill="none" stroke="#000" stroke-width="1.3"/>
<line x1="758.35" y1="639.60" x2="758.35" y2="645.60" stroke="#2a2a2a" stroke-width="1.2"/>
<line x1="755.83" y1="640.97" x2="760.87" y2="644.23" stroke="#2a2a2a" stroke-width="1.2"/>
<line x1="755.83" y1="644.23" x2="760.87" y2="640.97" stroke="#2a2a2a" stroke-width="1.2"/>
<line x1="765.65" y1="639.60" x2="765.65" y2="645.60" stroke="#2a2a2a" stroke-width="1.2"/>
<line x1="763.13" y1="640.97" x2="768.17" y2="644.23" stroke="#2a2a2a" stroke-width="1.2"/>
<line x1="763.13" y1="644.23" x2="768.17" y2="640.97" stroke="#2a2a2a" stroke-width="1.2"/>
<text transform="translate(353.8,892) scale(1,1.1)" font-size="19.6" font-family="'Liberation Serif', serif" font-weight="normal" text-anchor="start" >F</text>
<text transform="translate(550.7,957.8) scale(1,1.0)" font-size="13" font-family="'Liberation Serif', serif" font-weight="normal" text-anchor="start" textLength="42" lengthAdjust="spacingAndGlyphs" >MV4-11</text>
<rect x="437.0" y="984.1" width="14.4" height="5.0" fill="#ffffff" stroke="#000" stroke-width="1.2"/>
<rect x="588.6" y="984.1" width="14.4" height="5.0" fill="#a5a5a5" stroke="#000" stroke-width="1.2"/>
<rect x="437.0" y="1004.7" width="14.4" height="5.0" fill="#636363" stroke="#000" stroke-width="1.2"/>
<rect x="588.6" y="1004.7" width="14.4" height="5.0" fill="#000000" stroke="#000" stroke-width="1.2"/>
<text transform="translate(460.9,990.8) scale(1,1.05)" font-size="13" font-family="'Liberation Serif', serif" font-weight="normal" text-anchor="start" textLength="61.1" lengthAdjust="spacingAndGlyphs" >EV1+Ara-C</text>
<text transform="translate(612.8,990.8) scale(1,1.05)" font-size="13" font-family="'Liberation Serif', serif" font-weight="normal" text-anchor="start" textLength="74" lengthAdjust="spacingAndGlyphs" >L-Nrf2+Ara-C</text>
<text transform="translate(460.9,1011) scale(1,1.05)" font-size="13" font-family="'Liberation Serif', serif" font-weight="normal" text-anchor="start" textLength="113.8" lengthAdjust="spacingAndGlyphs" >EV1+Ara-C+SC75741</text>
<text transform="translate(612.8,1011) scale(1,1.05)" font-size="13" font-family="'Liberation Serif', serif" font-weight="normal" text-anchor="start" textLength="126.6" lengthAdjust="spacingAndGlyphs" >L-Nrf2+Ara-C+SC75741</text>
<line x1="363.3482" y1="1140.7340000000002" x2="363.3482" y2="1122.23" stroke="#000" stroke-width="1.3"/>
<path d="M361.45 1121.83 L365.25 1121.83 L364.05 1123.63 L362.65 1123.63 Z" fill="#000"/>
<rect x="360.45" y="1140.73" width="5.8" height="34.07" fill="#ffffff" stroke="#000" stroke-width="1.35"/>
<line x1="374.5712" y1="1093.703" x2="374.5712" y2="1075.199" stroke="#000" stroke-width="1.3"/>
<path d="M372.67 1074.80 L376.47 1074.80 L375.27 1076.60 L373.87 1076.60 Z" fill="#000"/>
<rect x="371.67" y="1093.70" width="5.8" height="81.10" fill="#a5a5a5" stroke="#000" stroke-width="1.35"/>
<line x1="385.742" y1="1112.207" x2="385.742" y2="1102.184" stroke="#000" stroke-width="1.3"/>
<path d="M383.84 1101.78 L387.64 1101.78 L386.44 1103.58 L385.04 1103.58 Z" fill="#000"/>
<rect x="382.84" y="1112.21" width="5.8" height="62.59" fill="#636363" stroke="#000" stroke-width="1.35"/>
<line x1="396.965" y1="1069.031" x2="396.965" y2="1059.008" stroke="#000" stroke-width="1.3"/>
<path d="M395.06 1058.61 L398.86 1058.61 L397.66 1060.41 L396.26 1060.41 Z" fill="#000"/>
<rect x="394.06" y="1069.03" width="5.8" height="105.77" fill="#000000" stroke="#000" stroke-width="1.35"/>
<line x1="380.0" y1="1174.8" x2="380.0" y2="1181.3" stroke="#000" stroke-width="1.8"/>
<text transform="translate(380.0,1196.4) scale(1,1.1)" font-size="14" font-family="'Liberation Serif', serif" font-weight="bold" text-anchor="middle" >Nrf2</text>
<line x1="415.5482" y1="1126.085" x2="415.5482" y2="1109.123" stroke="#000" stroke-width="1.3"/>
<path d="M413.65 1108.72 L417.45 1108.72 L416.25 1110.52 L414.85 1110.52 Z" fill="#000"/>
<rect x="412.65" y="1126.09" width="5.8" height="48.71" fill="#ffffff" stroke="#000" stroke-width="1.35"/>
<line x1="426.77119999999996" y1="1158.467" x2="426.77119999999996" y2="1150.757" stroke="#000" stroke-width="1.3"/>
<path d="M424.87 1150.36 L428.67 1150.36 L427.47 1152.16 L426.07 1152.16 Z" fill="#000"/>
<rect x="423.87" y="1158.47" width="5.8" height="16.33" fill="#a5a5a5" stroke="#000" stroke-width="1.35"/>
<line x1="437.942" y1="1088.306" x2="437.942" y2="1072.886" stroke="#000" stroke-width="1.3"/>
<path d="M436.04 1072.49 L439.84 1072.49 L438.64 1074.29 L437.24 1074.29 Z" fill="#000"/>
<rect x="435.04" y="1088.31" width="5.8" height="86.49" fill="#636363" stroke="#000" stroke-width="1.35"/>
<line x1="449.16499999999996" y1="1122.23" x2="449.16499999999996" y2="1102.184" stroke="#000" stroke-width="1.3"/>
<path d="M447.26 1101.78 L451.06 1101.78 L449.86 1103.58 L448.46 1103.58 Z" fill="#000"/>
<rect x="446.26" y="1122.23" width="5.8" height="52.57" fill="#000000" stroke="#000" stroke-width="1.35"/>
<line x1="432.2" y1="1174.8" x2="432.2" y2="1181.3" stroke="#000" stroke-width="1.8"/>
<text transform="translate(432.2,1196.4) scale(1,1.1)" font-size="14" font-family="'Liberation Serif', serif" font-weight="bold" text-anchor="middle" >RFC4</text>
<line x1="467.7482" y1="1104.497" x2="467.7482" y2="1089.848" stroke="#000" stroke-width="1.3"/>
<path d="M465.85 1089.45 L469.65 1089.45 L468.45 1091.25 L467.05 1091.25 Z" fill="#000"/>
<rect x="464.85" y="1104.50" width="5.8" height="70.30" fill="#ffffff" stroke="#000" stroke-width="1.35"/>
<line x1="478.97119999999995" y1="1106.039" x2="478.97119999999995" y2="1096.016" stroke="#000" stroke-width="1.3"/>
<path d="M477.07 1095.62 L480.87 1095.62 L479.67 1097.42 L478.27 1097.42 Z" fill="#000"/>
<rect x="476.07" y="1106.04" width="5.8" height="68.76" fill="#a5a5a5" stroke="#000" stroke-width="1.35"/>
<line x1="490.142" y1="1105.268" x2="490.142" y2="1097.558" stroke="#000" stroke-width="1.3"/>
<path d="M488.24 1097.16 L492.04 1097.16 L490.84 1098.96 L489.44 1098.96 Z" fill="#000"/>
<rect x="487.24" y="1105.27" width="5.8" height="69.53" fill="#636363" stroke="#000" stroke-width="1.35"/>
<line x1="501.36499999999995" y1="1109.894" x2="501.36499999999995" y2="1108.352" stroke="#000" stroke-width="1.3"/>
<path d="M499.46 1107.95 L503.26 1107.95 L502.06 1109.75 L500.66 1109.75 Z" fill="#000"/>
<rect x="498.46" y="1109.89" width="5.8" height="64.91" fill="#000000" stroke="#000" stroke-width="1.35"/>
<line x1="484.4" y1="1174.8" x2="484.4" y2="1181.3" stroke="#000" stroke-width="1.8"/>
<text transform="translate(484.4,1196.4) scale(1,1.1)" font-size="14" font-family="'Liberation Serif', serif" font-weight="bold" text-anchor="middle" >c-Jun</text>
<line x1="519.9482" y1="1154.612" x2="519.9482" y2="1152.299" stroke="#000" stroke-width="1.3"/>
<path d="M518.05 1151.90 L521.85 1151.90 L520.65 1153.70 L519.25 1153.70 Z" fill="#000"/>
<rect x="517.05" y="1154.61" width="5.8" height="20.19" fill="#ffffff" stroke="#000" stroke-width="1.35"/>
<line x1="531.1712" y1="1107.5810000000001" x2="531.1712" y2="1099.1000000000001" stroke="#000" stroke-width="1.3"/>
<path d="M529.27 1098.70 L533.07 1098.70 L531.87 1100.50 L530.47 1100.50 Z" fill="#000"/>
<rect x="528.27" y="1107.58" width="5.8" height="67.22" fill="#a5a5a5" stroke="#000" stroke-width="1.35"/>
<line x1="542.342" y1="1160.009" x2="542.342" y2="1150.757" stroke="#000" stroke-width="1.3"/>
<path d="M540.44 1150.36 L544.24 1150.36 L543.04 1152.16 L541.64 1152.16 Z" fill="#000"/>
<rect x="539.44" y="1160.01" width="5.8" height="14.79" fill="#636363" stroke="#000" stroke-width="1.35"/>
<line x1="553.565" y1="1169.261" x2="553.565" y2="1164.635" stroke="#000" stroke-width="1.3"/>
<path d="M551.67 1164.23 L555.47 1164.23 L554.27 1166.04 L552.87 1166.04 Z" fill="#000"/>
<rect x="550.67" y="1169.26" width="5.8" height="5.54" fill="#000000" stroke="#000" stroke-width="1.35"/>
<line x1="536.6" y1="1174.8" x2="536.6" y2="1181.3" stroke="#000" stroke-width="1.8"/>
<text transform="translate(536.6,1196.4) scale(1,1.1)" font-size="14" font-family="'Liberation Serif', serif" font-weight="bold" text-anchor="middle" >p-c-Jun</text>
<line x1="572.1482" y1="1116.0620000000001" x2="572.1482" y2="1103.726" stroke="#000" stroke-width="1.3"/>
<path d="M570.25 1103.33 L574.05 1103.33 L572.85 1105.13 L571.45 1105.13 Z" fill="#000"/>
<rect x="569.25" y="1116.06" width="5.8" height="58.74" fill="#ffffff" stroke="#000" stroke-width="1.35"/>
<line x1="583.3711999999999" y1="1113.749" x2="583.3711999999999" y2="1105.268" stroke="#000" stroke-width="1.3"/>
<path d="M581.47 1104.87 L585.27 1104.87 L584.07 1106.67 L582.67 1106.67 Z" fill="#000"/>
<rect x="580.47" y="1113.75" width="5.8" height="61.05" fill="#a5a5a5" stroke="#000" stroke-width="1.35"/>
<line x1="594.5419999999999" y1="1116.833" x2="594.5419999999999" y2="1106.81" stroke="#000" stroke-width="1.3"/>
<path d="M592.64 1106.41 L596.44 1106.41 L595.24 1108.21 L593.84 1108.21 Z" fill="#000"/>
<rect x="591.64" y="1116.83" width="5.8" height="57.97" fill="#636363" stroke="#000" stroke-width="1.35"/>
<line x1="605.765" y1="1109.894" x2="605.765" y2="1099.1000000000001" stroke="#000" stroke-width="1.3"/>
<path d="M603.87 1098.70 L607.66 1098.70 L606.47 1100.50 L605.06 1100.50 Z" fill="#000"/>
<rect x="602.87" y="1109.89" width="5.8" height="64.91" fill="#000000" stroke="#000" stroke-width="1.35"/>
<line x1="588.8" y1="1174.8" x2="588.8" y2="1181.3" stroke="#000" stroke-width="1.8"/>
<text transform="translate(588.8,1196.4) scale(1,1.1)" font-size="14" font-family="'Liberation Serif', serif" font-weight="bold" text-anchor="middle" >JNK</text>
<line x1="624.3482" y1="1155.383" x2="624.3482" y2="1146.131" stroke="#000" stroke-width="1.3"/>
<path d="M622.45 1145.73 L626.25 1145.73 L625.05 1147.53 L623.65 1147.53 Z" fill="#000"/>
<rect x="621.45" y="1155.38" width="5.8" height="19.42" fill="#ffffff" stroke="#000" stroke-width="1.35"/>
<line x1="635.5712" y1="1119.9170000000001" x2="635.5712" y2="1106.039" stroke="#000" stroke-width="1.3"/>
<path d="M633.67 1105.64 L637.47 1105.64 L636.27 1107.44 L634.87 1107.44 Z" fill="#000"/>
<rect x="632.67" y="1119.92" width="5.8" height="54.88" fill="#a5a5a5" stroke="#000" stroke-width="1.35"/>
<line x1="646.742" y1="1165.406" x2="646.742" y2="1158.467" stroke="#000" stroke-width="1.3"/>
<path d="M644.84 1158.07 L648.64 1158.07 L647.44 1159.87 L646.04 1159.87 Z" fill="#000"/>
<rect x="643.84" y="1165.41" width="5.8" height="9.39" fill="#636363" stroke="#000" stroke-width="1.35"/>
<line x1="657.965" y1="1169.261" x2="657.965" y2="1163.093" stroke="#000" stroke-width="1.3"/>
<path d="M656.07 1162.69 L659.87 1162.69 L658.67 1164.49 L657.26 1164.49 Z" fill="#000"/>
<rect x="655.07" y="1169.26" width="5.8" height="5.54" fill="#000000" stroke="#000" stroke-width="1.35"/>
<line x1="641.0" y1="1174.8" x2="641.0" y2="1181.3" stroke="#000" stroke-width="1.8"/>
<text transform="translate(641.0,1196.4) scale(1,1.1)" font-size="14" font-family="'Liberation Serif', serif" font-weight="bold" text-anchor="middle" >p-JNK</text>
<line x1="676.5482000000001" y1="1159.238" x2="676.5482000000001" y2="1151.528" stroke="#000" stroke-width="1.3"/>
<path d="M674.65 1151.13 L678.45 1151.13 L677.25 1152.93 L675.85 1152.93 Z" fill="#000"/>
<rect x="673.65" y="1159.24" width="5.8" height="15.56" fill="#ffffff" stroke="#000" stroke-width="1.35"/>
<line x1="687.7712" y1="1155.383" x2="687.7712" y2="1146.131" stroke="#000" stroke-width="1.3"/>
<path d="M685.87 1145.73 L689.67 1145.73 L688.47 1147.53 L687.07 1147.53 Z" fill="#000"/>
<rect x="684.87" y="1155.38" width="5.8" height="19.42" fill="#a5a5a5" stroke="#000" stroke-width="1.35"/>
<line x1="698.942" y1="1135.337" x2="698.942" y2="1119.146" stroke="#000" stroke-width="1.3"/>
<path d="M697.04 1118.75 L700.84 1118.75 L699.64 1120.55 L698.24 1120.55 Z" fill="#000"/>
<rect x="696.04" y="1135.34" width="5.8" height="39.46" fill="#636363" stroke="#000" stroke-width="1.35"/>
<line x1="710.1650000000001" y1="1124.5430000000001" x2="710.1650000000001" y2="1107.5810000000001" stroke="#000" stroke-width="1.3"/>
<path d="M708.27 1107.18 L712.07 1107.18 L710.87 1108.98 L709.47 1108.98 Z" fill="#000"/>
<rect x="707.27" y="1124.54" width="5.8" height="50.26" fill="#000000" stroke="#000" stroke-width="1.35"/>
<line x1="693.2" y1="1174.8" x2="693.2" y2="1181.3" stroke="#000" stroke-width="1.8"/>
<text transform="translate(693.2,1196.4) scale(1,1.1)" font-size="14" font-family="'Liberation Serif', serif" font-weight="bold" text-anchor="middle" >p65</text>
<line x1="728.7482000000001" y1="1149.2150000000001" x2="728.7482000000001" y2="1138.421" stroke="#000" stroke-width="1.3"/>
<path d="M726.85 1138.02 L730.65 1138.02 L729.45 1139.82 L728.05 1139.82 Z" fill="#000"/>
<rect x="725.85" y="1149.22" width="5.8" height="25.58" fill="#ffffff" stroke="#000" stroke-width="1.35"/>
<line x1="739.9712000000001" y1="1112.207" x2="739.9712000000001" y2="1099.1000000000001" stroke="#000" stroke-width="1.3"/>
<path d="M738.07 1098.70 L741.87 1098.70 L740.67 1100.50 L739.27 1100.50 Z" fill="#000"/>
<rect x="737.07" y="1112.21" width="5.8" height="62.59" fill="#a5a5a5" stroke="#000" stroke-width="1.35"/>
<line x1="751.142" y1="1163.864" x2="751.142" y2="1158.467" stroke="#000" stroke-width="1.3"/>
<path d="M749.24 1158.07 L753.04 1158.07 L751.84 1159.87 L750.44 1159.87 Z" fill="#000"/>
<rect x="748.24" y="1163.86" width="5.8" height="10.94" fill="#636363" stroke="#000" stroke-width="1.35"/>
<line x1="762.3650000000001" y1="1160.009" x2="762.3650000000001" y2="1149.986" stroke="#000" stroke-width="1.3"/>
<path d="M760.47 1149.59 L764.27 1149.59 L763.07 1151.39 L761.67 1151.39 Z" fill="#000"/>
<rect x="759.47" y="1160.01" width="5.8" height="14.79" fill="#000000" stroke="#000" stroke-width="1.35"/>
<line x1="745.4000000000001" y1="1174.8" x2="745.4000000000001" y2="1181.3" stroke="#000" stroke-width="1.8"/>
<text transform="translate(745.4000000000001,1196.4) scale(1,1.1)" font-size="14" font-family="'Liberation Serif', serif" font-weight="bold" text-anchor="middle" >p-p65</text>
<line x1="355.7" y1="1019.8" x2="355.7" y2="1175.8" stroke="#000" stroke-width="2.0"/>
<line x1="354.7" y1="1174.8" x2="771" y2="1174.8" stroke="#000" stroke-width="2.0"/>
<line x1="349.2" y1="1174.8" x2="355.7" y2="1174.8" stroke="#000" stroke-width="1.8"/>
<text transform="translate(347,1179.8) scale(1,1.2)" font-size="11" font-family="'Liberation Sans', sans-serif" font-weight="bold" text-anchor="end" >0.0</text>
<line x1="349.2" y1="1136.25" x2="355.7" y2="1136.25" stroke="#000" stroke-width="1.8"/>
<text transform="translate(347,1141.25) scale(1,1.2)" font-size="11" font-family="'Liberation Sans', sans-serif" font-weight="bold" text-anchor="end" >0.5</text>
<line x1="349.2" y1="1097.7" x2="355.7" y2="1097.7" stroke="#000" stroke-width="1.8"/>
<text transform="translate(347,1102.7) scale(1,1.2)" font-size="11" font-family="'Liberation Sans', sans-serif" font-weight="bold" text-anchor="end" >1.0</text>
<line x1="349.2" y1="1059.1499999999999" x2="355.7" y2="1059.1499999999999" stroke="#000" stroke-width="1.8"/>
<text transform="translate(347,1064.1499999999999) scale(1,1.2)" font-size="11" font-family="'Liberation Sans', sans-serif" font-weight="bold" text-anchor="end" >1.5</text>
<line x1="349.2" y1="1020.5999999999999" x2="355.7" y2="1020.5999999999999" stroke="#000" stroke-width="1.8"/>
<text transform="translate(347,1025.6) scale(1,1.2)" font-size="11" font-family="'Liberation Sans', sans-serif" font-weight="bold" text-anchor="end" >2.0</text>
<text transform="translate(323.9,1095.7) rotate(-90)" font-size="14.2" font-family="'Liberation Serif', serif" font-weight="bold" text-anchor="middle" textLength="183.6" lengthAdjust="spacingAndGlyphs">Folder of expression /β-Actin</text>
<path d="M385.5 1096.2 L385.5 1043.7 L396.6 1043.7 L396.6 1052.9" fill="none" stroke="#000" stroke-width="1.3"/>
<line x1="387.95" y1="1035.10" x2="387.95" y2="1041.10" stroke="#2a2a2a" stroke-width="1.2"/>
<line x1="385.43" y1="1036.47" x2="390.47" y2="1039.73" stroke="#2a2a2a" stroke-width="1.2"/>
<line x1="385.43" y1="1039.73" x2="390.47" y2="1036.47" stroke="#2a2a2a" stroke-width="1.2"/>
<line x1="395.25" y1="1035.10" x2="395.25" y2="1041.10" stroke="#2a2a2a" stroke-width="1.2"/>
<line x1="392.73" y1="1036.47" x2="397.77" y2="1039.73" stroke="#2a2a2a" stroke-width="1.2"/>
<line x1="392.73" y1="1039.73" x2="397.77" y2="1036.47" stroke="#2a2a2a" stroke-width="1.2"/>
<path d="M415.4 1106.3 L415.4 1099.1 L425.6 1099.1 L425.6 1124.8" fill="none" stroke="#000" stroke-width="1.3"/>
<line x1="421.20" y1="1090.50" x2="421.20" y2="1096.50" stroke="#2a2a2a" stroke-width="1.2"/>
<line x1="418.68" y1="1091.87" x2="423.72" y2="1095.13" stroke="#2a2a2a" stroke-width="1.2"/>
<line x1="418.68" y1="1095.13" x2="423.72" y2="1091.87" stroke="#2a2a2a" stroke-width="1.2"/>
<path d="M427.3 1138.8 L427.3 1066.6 L449.8 1066.6 L449.8 1092.3" fill="none" stroke="#000" stroke-width="1.3"/>
<line x1="436.45" y1="1058.00" x2="436.45" y2="1064.00" stroke="#2a2a2a" stroke-width="1.2"/>
<line x1="433.93" y1="1059.37" x2="438.97" y2="1062.63" stroke="#2a2a2a" stroke-width="1.2"/>
<line x1="433.93" y1="1062.63" x2="438.97" y2="1059.37" stroke="#2a2a2a" stroke-width="1.2"/>
<line x1="443.75" y1="1058.00" x2="443.75" y2="1064.00" stroke="#2a2a2a" stroke-width="1.2"/>
<line x1="441.23" y1="1059.37" x2="446.27" y2="1062.63" stroke="#2a2a2a" stroke-width="1.2"/>
<line x1="441.23" y1="1062.63" x2="446.27" y2="1059.37" stroke="#2a2a2a" stroke-width="1.2"/>
<path d="M518.5 1142.8 L518.5 1085.5 L530.8 1085.5 L530.8 1094.3" fill="none" stroke="#000" stroke-width="1.3"/>
<line x1="521.20" y1="1076.90" x2="521.20" y2="1082.90" stroke="#2a2a2a" stroke-width="1.2"/>
<line x1="518.68" y1="1078.27" x2="523.72" y2="1081.53" stroke="#2a2a2a" stroke-width="1.2"/>
<line x1="518.68" y1="1081.53" x2="523.72" y2="1078.27" stroke="#2a2a2a" stroke-width="1.2"/>
<line x1="528.50" y1="1076.90" x2="528.50" y2="1082.90" stroke="#2a2a2a" stroke-width="1.2"/>
<line x1="525.98" y1="1078.27" x2="531.02" y2="1081.53" stroke="#2a2a2a" stroke-width="1.2"/>
<line x1="525.98" y1="1081.53" x2="531.02" y2="1078.27" stroke="#2a2a2a" stroke-width="1.2"/>
<line x1="535.80" y1="1076.90" x2="535.80" y2="1082.90" stroke="#2a2a2a" stroke-width="1.2"/>
<line x1="533.28" y1="1078.27" x2="538.32" y2="1081.53" stroke="#2a2a2a" stroke-width="1.2"/>
<line x1="533.28" y1="1081.53" x2="538.32" y2="1078.27" stroke="#2a2a2a" stroke-width="1.2"/>
<path d="M531.6 1075 L531.6 1069 L553.5 1069 L553.5 1151.2" fill="none" stroke="#000" stroke-width="1.3"/>
<line x1="535.90" y1="1060.40" x2="535.90" y2="1066.40" stroke="#2a2a2a" stroke-width="1.2"/>
<line x1="533.38" y1="1061.77" x2="538.42" y2="1065.03" stroke="#2a2a2a" stroke-width="1.2"/>
<line x1="533.38" y1="1065.03" x2="538.42" y2="1061.77" stroke="#2a2a2a" stroke-width="1.2"/>
<line x1="543.20" y1="1060.40" x2="543.20" y2="1066.40" stroke="#2a2a2a" stroke-width="1.2"/>
<line x1="540.68" y1="1061.77" x2="545.72" y2="1065.03" stroke="#2a2a2a" stroke-width="1.2"/>
<line x1="540.68" y1="1065.03" x2="545.72" y2="1061.77" stroke="#2a2a2a" stroke-width="1.2"/>
<line x1="550.50" y1="1060.40" x2="550.50" y2="1066.40" stroke="#2a2a2a" stroke-width="1.2"/>
<line x1="547.98" y1="1061.77" x2="553.02" y2="1065.03" stroke="#2a2a2a" stroke-width="1.2"/>
<line x1="547.98" y1="1065.03" x2="553.02" y2="1061.77" stroke="#2a2a2a" stroke-width="1.2"/>
<path d="M624.5 1143.2 L624.5 1095.1 L637.1 1095.1 L637.1 1101.7" fill="none" stroke="#000" stroke-width="1.3"/>
<line x1="629.85" y1="1086.50" x2="629.85" y2="1092.50" stroke="#2a2a2a" stroke-width="1.2"/>
<line x1="627.33" y1="1087.87" x2="632.37" y2="1091.13" stroke="#2a2a2a" stroke-width="1.2"/>
<line x1="627.33" y1="1091.13" x2="632.37" y2="1087.87" stroke="#2a2a2a" stroke-width="1.2"/>
<line x1="637.15" y1="1086.50" x2="637.15" y2="1092.50" stroke="#2a2a2a" stroke-width="1.2"/>
<line x1="634.63" y1="1087.87" x2="639.67" y2="1091.13" stroke="#2a2a2a" stroke-width="1.2"/>
<line x1="634.63" y1="1091.13" x2="639.67" y2="1087.87" stroke="#2a2a2a" stroke-width="1.2"/>
<path d="M637.1 1082.1 L637.1 1074.9 L657.4 1074.9 L657.4 1154.8" fill="none" stroke="#000" stroke-width="1.3"/>
<line x1="645.15" y1="1066.30" x2="645.15" y2="1072.30" stroke="#2a2a2a" stroke-width="1.2"/>
<line x1="642.63" y1="1067.67" x2="647.67" y2="1070.93" stroke="#2a2a2a" stroke-width="1.2"/>
<line x1="642.63" y1="1070.93" x2="647.67" y2="1067.67" stroke="#2a2a2a" stroke-width="1.2"/>
<line x1="652.45" y1="1066.30" x2="652.45" y2="1072.30" stroke="#2a2a2a" stroke-width="1.2"/>
<line x1="649.93" y1="1067.67" x2="654.97" y2="1070.93" stroke="#2a2a2a" stroke-width="1.2"/>
<line x1="649.93" y1="1070.93" x2="654.97" y2="1067.67" stroke="#2a2a2a" stroke-width="1.2"/>
<path d="M729.3 1131.9 L729.3 1085.5 L740 1085.5 L740 1092.4" fill="none" stroke="#000" stroke-width="1.3"/>
<line x1="732.95" y1="1076.90" x2="732.95" y2="1082.90" stroke="#2a2a2a" stroke-width="1.2"/>
<line x1="730.43" y1="1078.27" x2="735.47" y2="1081.53" stroke="#2a2a2a" stroke-width="1.2"/>
<line x1="730.43" y1="1081.53" x2="735.47" y2="1078.27" stroke="#2a2a2a" stroke-width="1.2"/>
<line x1="740.25" y1="1076.90" x2="740.25" y2="1082.90" stroke="#2a2a2a" stroke-width="1.2"/>
<line x1="737.73" y1="1078.27" x2="742.77" y2="1081.53" stroke="#2a2a2a" stroke-width="1.2"/>
<line x1="737.73" y1="1081.53" x2="742.77" y2="1078.27" stroke="#2a2a2a" stroke-width="1.2"/>
<path d="M739.5 1072.5 L739.5 1066.9 L763.1 1066.9 L763.1 1139.2" fill="none" stroke="#000" stroke-width="1.3"/>
<line x1="745.50" y1="1058.30" x2="745.50" y2="1064.30" stroke="#2a2a2a" stroke-width="1.2"/>
<line x1="742.98" y1="1059.67" x2="748.02" y2="1062.93" stroke="#2a2a2a" stroke-width="1.2"/>
<line x1="742.98" y1="1062.93" x2="748.02" y2="1059.67" stroke="#2a2a2a" stroke-width="1.2"/>
<line x1="752.80" y1="1058.30" x2="752.80" y2="1064.30" stroke="#2a2a2a" stroke-width="1.2"/>
<line x1="750.28" y1="1059.67" x2="755.32" y2="1062.93" stroke="#2a2a2a" stroke-width="1.2"/>
<line x1="750.28" y1="1062.93" x2="755.32" y2="1059.67" stroke="#2a2a2a" stroke-width="1.2"/>
<line x1="760.10" y1="1058.30" x2="760.10" y2="1064.30" stroke="#2a2a2a" stroke-width="1.2"/>
<line x1="757.58" y1="1059.67" x2="762.62" y2="1062.93" stroke="#2a2a2a" stroke-width="1.2"/>
<line x1="757.58" y1="1062.93" x2="762.62" y2="1059.67" stroke="#2a2a2a" stroke-width="1.2"/>
</svg>
</body></html>
